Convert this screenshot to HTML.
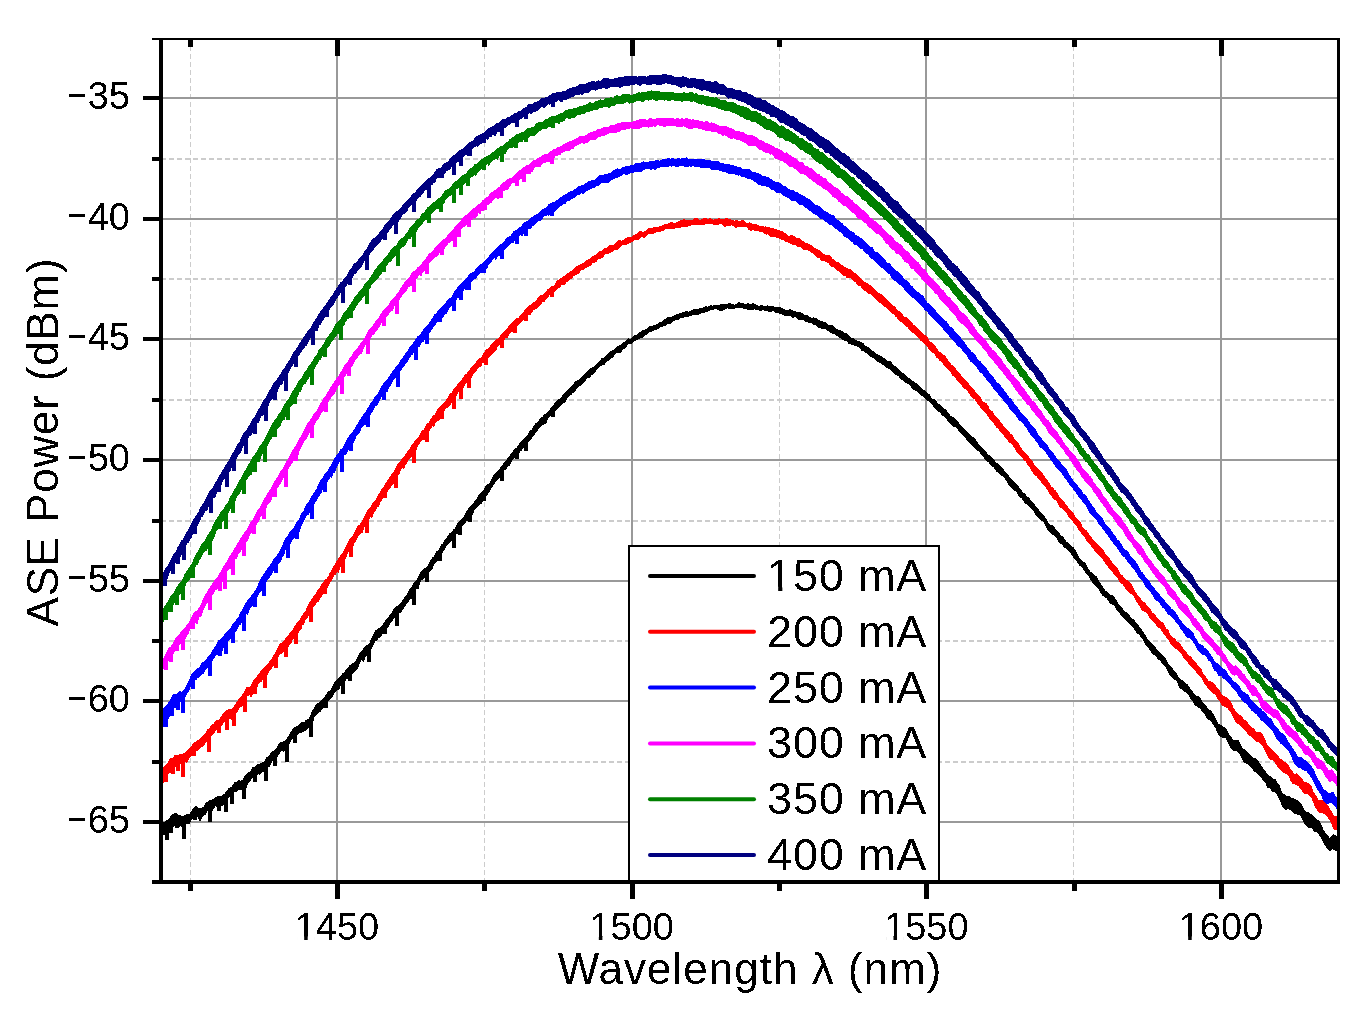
<!DOCTYPE html>
<html><head><meta charset="utf-8"><style>
html,body{margin:0;padding:0;background:#fff;overflow:hidden;}
svg{display:block;}
text{font-family:"Liberation Sans",sans-serif;fill:#000;}
.tl{font-size:38px;}
.at{font-size:44px;letter-spacing:1px;}
.yt{font-size:44px;letter-spacing:0.8px;}
.lt{font-size:45px;letter-spacing:0.85px;}
</style></head><body>
<svg width="1371" height="1011" viewBox="0 0 1371 1011">
<rect width="1371" height="1011" fill="#fff"/>
<defs><clipPath id="pc"><rect x="163" y="40" width="1174" height="840"/></clipPath>
<filter id="bin" filterUnits="userSpaceOnUse" x="0" y="0" width="1371" height="1011"><feComponentTransfer><feFuncA type="discrete" tableValues="0 1"/></feComponentTransfer></filter></defs>
<line x1="190.5" y1="40" x2="190.5" y2="880" stroke="#CCCCCC" stroke-width="1" stroke-dasharray="5 3" stroke-dashoffset="2"/>
<line x1="484.5" y1="40" x2="484.5" y2="880" stroke="#CCCCCC" stroke-width="1" stroke-dasharray="5 3" stroke-dashoffset="2"/>
<line x1="779.5" y1="40" x2="779.5" y2="880" stroke="#CCCCCC" stroke-width="1" stroke-dasharray="5 3" stroke-dashoffset="2"/>
<line x1="1073.5" y1="40" x2="1073.5" y2="880" stroke="#CCCCCC" stroke-width="1" stroke-dasharray="5 3" stroke-dashoffset="2"/>
<line x1="163" y1="159" x2="1337" y2="159" stroke="#CCCCCC" stroke-width="2" stroke-dasharray="5 3" stroke-dashoffset="2"/>
<line x1="163" y1="279" x2="1337" y2="279" stroke="#CCCCCC" stroke-width="2" stroke-dasharray="5 3" stroke-dashoffset="2"/>
<line x1="163" y1="400" x2="1337" y2="400" stroke="#CCCCCC" stroke-width="2" stroke-dasharray="5 3" stroke-dashoffset="2"/>
<line x1="163" y1="521" x2="1337" y2="521" stroke="#CCCCCC" stroke-width="2" stroke-dasharray="5 3" stroke-dashoffset="2"/>
<line x1="163" y1="641" x2="1337" y2="641" stroke="#CCCCCC" stroke-width="2" stroke-dasharray="5 3" stroke-dashoffset="2"/>
<line x1="163" y1="762" x2="1337" y2="762" stroke="#CCCCCC" stroke-width="2" stroke-dasharray="5 3" stroke-dashoffset="2"/>
<rect x="336" y="40" width="2" height="840" fill="#999999"/>
<rect x="631" y="40" width="2" height="840" fill="#999999"/>
<rect x="925" y="40" width="2" height="840" fill="#999999"/>
<rect x="1220" y="40" width="2" height="840" fill="#999999"/>
<rect x="163" y="97" width="1174" height="2" fill="#999999"/>
<rect x="163" y="218" width="1174" height="2" fill="#999999"/>
<rect x="163" y="338" width="1174" height="2" fill="#999999"/>
<rect x="163" y="459" width="1174" height="2" fill="#999999"/>
<rect x="163" y="580" width="1174" height="2" fill="#999999"/>
<rect x="163" y="700" width="1174" height="2" fill="#999999"/>
<rect x="163" y="821" width="1174" height="2" fill="#999999"/>
<g clip-path="url(#pc)">
<g fill="#000000" shape-rendering="crispEdges"><polygon points="160,821.8 161,821.8 162,822.2 163,822.4 164,822.6 165,821.7 166,820.7 167,820.0 168,819.5 169,818.5 170,817.0 171,815.5 172,814.7 173,814.1 174,813.8 175,812.7 176,812.7 177,813.6 178,814.8 179,815.2 180,814.9 181,815.3 182,816.1 183,816.6 184,815.7 185,814.9 186,814.3 187,813.6 188,813.7 189,814.0 190,813.4 191,811.5 192,810.1 193,808.9 194,807.5 195,806.1 196,805.7 197,806.5 198,807.4 199,807.7 200,808.0 201,807.8 202,807.8 203,807.2 204,806.0 205,804.1 206,802.7 207,801.8 208,801.3 209,800.6 210,800.2 211,799.8 212,799.4 213,799.0 214,798.3 215,797.9 216,797.1 217,796.8 218,796.2 219,795.9 220,795.8 221,795.7 222,795.4 223,794.7 224,794.1 225,793.2 226,791.6 227,790.5 228,788.8 229,788.0 230,787.2 231,787.4 232,785.8 233,784.6 234,782.9 235,782.1 236,782.0 237,781.8 238,780.9 239,780.1 240,780.5 241,780.8 242,780.2 243,779.1 244,777.1 245,775.8 246,774.9 247,773.9 248,772.6 249,771.9 250,771.4 251,769.7 252,767.5 253,767.0 254,767.3 255,767.0 256,765.7 257,764.4 258,764.1 259,764.1 260,763.8 261,763.0 262,762.4 263,762.0 264,761.3 265,760.0 266,758.0 267,756.7 268,756.8 269,756.0 270,754.0 271,752.2 272,751.7 273,751.3 274,750.9 275,750.0 276,748.4 277,746.7 278,745.1 279,743.7 280,742.4 281,741.8 282,741.7 283,741.4 284,741.6 285,740.9 286,739.7 287,737.8 288,736.5 289,734.8 290,732.7 291,731.2 292,729.9 293,728.8 294,727.7 295,727.0 296,726.5 297,726.1 298,725.9 299,724.6 300,723.3 301,722.2 302,722.5 303,722.4 304,722.2 305,720.9 306,719.9 307,719.5 308,719.1 309,718.1 310,715.8 311,713.4 312,710.8 313,709.4 314,707.7 315,706.2 316,704.1 317,703.5 318,703.1 319,702.6 320,701.9 321,700.9 322,700.1 323,698.6 324,697.3 325,695.8 326,694.5 327,692.9 328,691.4 329,690.8 330,690.4 331,689.1 332,686.9 333,684.6 334,683.0 335,681.6 336,680.3 337,679.4 338,678.4 339,677.9 340,676.7 341,675.4 342,673.7 343,672.9 344,672.2 345,670.9 346,669.5 347,668.7 348,667.6 349,666.0 350,664.9 351,664.5 352,663.6 353,663.0 354,662.3 355,661.7 356,660.4 357,658.4 358,656.1 359,654.1 360,652.9 361,651.9 362,650.8 363,649.2 364,647.5 365,646.5 366,645.5 367,645.2 368,644.8 369,643.8 370,641.3 371,639.2 372,637.3 373,635.3 374,633.1 375,631.0 376,629.9 377,629.4 378,629.0 379,627.9 380,627.2 381,626.7 382,625.5 383,623.7 384,622.1 385,621.1 386,619.8 387,618.9 388,617.2 389,616.1 390,614.9 391,613.5 392,611.9 393,610.3 394,608.7 395,607.7 396,606.8 397,606.2 398,605.4 399,605.0 400,603.9 401,602.2 402,601.0 403,599.6 404,598.3 405,596.4 406,595.4 407,593.9 408,591.7 409,589.8 410,588.9 411,588.0 412,585.7 413,583.4 414,582.0 415,581.3 416,580.3 417,578.8 418,577.2 419,575.0 420,573.2 421,571.6 422,570.8 423,569.8 424,568.9 425,567.8 426,567.3 427,566.5 428,564.6 429,562.8 430,561.0 431,559.4 432,557.7 433,556.9 434,556.4 435,554.5 436,552.2 437,550.8 438,550.5 439,549.1 440,546.5 441,544.7 442,544.0 443,543.3 444,541.3 445,539.5 446,538.2 447,537.2 448,535.6 449,533.8 450,533.1 451,532.4 452,531.4 453,529.9 454,529.0 455,528.0 456,525.9 457,523.8 458,522.1 459,521.4 460,520.4 461,519.6 462,518.7 463,517.4 464,515.7 465,513.6 466,512.2 467,510.8 468,509.6 469,507.4 470,506.1 471,505.4 472,504.9 473,503.5 474,501.5 475,500.0 476,499.0 477,498.0 478,496.3 479,494.5 480,493.4 481,492.2 482,491.5 483,490.4 484,489.1 485,487.2 486,485.6 487,484.7 488,484.2 489,483.5 490,481.7 491,480.1 492,478.2 493,476.4 494,474.3 495,473.0 496,472.4 497,471.9 498,470.8 499,469.2 500,467.9 501,466.7 502,465.4 503,464.1 504,462.5 505,461.1 506,460.1 507,459.0 508,457.5 509,456.4 510,455.1 511,453.4 512,452.1 513,451.1 514,449.8 515,448.8 516,448.0 517,447.1 518,445.9 519,444.3 520,442.4 521,441.5 522,440.8 523,439.5 524,438.4 525,437.2 526,436.4 527,435.2 528,434.4 529,432.2 530,430.8 531,430.0 532,429.3 533,427.3 534,425.3 535,423.8 536,423.0 537,422.7 538,421.6 539,420.1 540,418.7 541,417.9 542,417.0 543,416.1 544,414.9 545,414.0 546,413.2 547,412.2 548,411.2 549,410.5 550,409.1 551,407.7 552,406.6 553,405.6 554,403.7 555,402.1 556,401.0 557,400.1 558,399.5 559,399.4 560,398.9 561,397.5 562,395.8 563,394.6 564,393.5 565,392.3 566,391.3 567,390.9 568,389.9 569,388.9 570,387.7 571,386.3 572,385.0 573,384.0 574,383.0 575,381.5 576,381.2 577,380.7 578,380.3 579,379.1 580,378.0 581,377.0 582,376.6 583,375.8 584,374.7 585,373.9 586,372.9 587,371.7 588,371.0 589,369.8 590,368.7 591,368.0 592,367.8 593,367.1 594,366.5 595,365.9 596,364.6 597,363.3 598,362.5 599,361.9 600,360.5 601,358.9 602,357.8 603,357.8 604,357.3 605,356.3 606,355.4 607,354.6 608,353.6 609,352.3 610,351.5 611,351.1 612,350.5 613,350.1 614,349.0 615,348.0 616,347.5 617,346.8 618,346.1 619,345.5 620,345.2 621,344.6 622,343.5 623,342.9 624,342.1 625,341.4 626,340.2 627,339.1 628,338.4 629,338.6 630,338.9 631,338.5 632,337.5 633,336.3 634,335.6 635,335.2 636,335.0 637,334.2 638,333.2 639,332.5 640,332.0 641,331.0 642,330.4 643,329.9 644,329.9 645,329.7 646,329.3 647,328.3 648,327.2 649,326.6 650,326.3 651,326.5 652,326.4 653,325.3 654,324.8 655,324.5 656,324.6 657,324.1 658,323.0 659,322.2 660,322.1 661,322.4 662,321.7 663,320.4 664,319.7 665,319.3 666,318.8 667,317.6 668,317.0 669,317.3 670,317.1 671,317.1 672,316.2 673,316.1 674,315.3 675,315.2 676,314.3 677,314.4 678,313.9 679,313.6 680,313.2 681,313.1 682,312.5 683,311.7 684,311.9 685,311.8 686,311.0 687,310.6 688,311.4 689,311.7 690,310.9 691,310.5 692,310.1 693,309.3 694,308.6 695,308.7 696,309.1 697,309.4 698,308.9 699,308.6 700,308.3 701,308.5 702,307.8 703,307.3 704,306.7 705,306.4 706,306.3 707,306.4 708,306.7 709,306.2 710,305.7 711,305.2 712,305.5 713,305.5 714,305.4 715,305.1 716,304.7 717,304.8 718,305.1 719,305.3 720,304.7 721,304.1 722,303.9 723,303.8 724,303.5 725,303.8 726,304.0 727,303.9 728,303.4 729,303.2 730,303.3 731,303.5 732,304.2 733,304.3 734,304.7 735,304.6 736,304.4 737,303.2 738,302.2 739,301.7 740,302.4 741,302.7 742,303.2 743,303.0 744,303.4 745,303.8 746,304.1 747,303.7 748,303.2 749,303.8 750,304.4 751,304.3 752,303.6 753,303.2 754,303.3 755,304.0 756,304.6 757,305.1 758,305.8 759,306.0 760,305.5 761,305.4 762,305.2 763,305.5 764,305.8 765,306.5 766,305.8 767,305.4 768,305.5 769,305.8 770,306.0 771,305.7 772,305.9 773,305.9 774,306.6 775,306.9 776,306.7 777,306.8 778,306.8 779,307.0 780,307.0 781,308.0 782,308.3 783,308.5 784,308.7 785,309.3 786,309.9 787,310.0 788,309.9 789,309.4 790,309.3 791,309.4 792,309.9 793,310.5 794,310.8 795,311.2 796,311.7 797,311.9 798,311.7 799,311.9 800,312.3 801,312.4 802,312.9 803,313.6 804,314.6 805,315.0 806,315.4 807,315.2 808,315.3 809,316.0 810,317.1 811,317.9 812,317.7 813,317.4 814,317.6 815,318.0 816,318.2 817,318.2 818,319.3 819,320.1 820,320.7 821,321.0 822,321.2 823,321.3 824,322.0 825,322.3 826,322.7 827,323.0 828,324.2 829,324.9 830,325.5 831,325.1 832,325.2 833,325.8 834,326.8 835,327.8 836,328.7 837,329.1 838,329.5 839,329.9 840,330.3 841,330.5 842,331.0 843,332.0 844,332.5 845,333.1 846,333.2 847,333.7 848,334.4 849,335.9 850,337.1 851,337.6 852,337.5 853,338.0 854,338.7 855,339.7 856,340.2 857,340.4 858,340.8 859,340.9 860,341.6 861,341.8 862,342.3 863,342.9 864,343.9 865,345.2 866,346.1 867,346.6 868,346.5 869,347.2 870,348.5 871,349.9 872,350.3 873,351.1 874,351.3 875,352.3 876,353.2 877,353.9 878,354.4 879,354.7 880,355.7 881,355.9 882,357.0 883,357.8 884,358.4 885,358.6 886,359.3 887,360.4 888,360.8 889,360.7 890,361.1 891,361.8 892,362.8 893,364.4 894,365.7 895,366.1 896,366.3 897,367.2 898,368.5 899,369.6 900,370.7 901,371.7 902,372.5 903,372.6 904,373.3 905,374.5 906,376.0 907,376.4 908,377.3 909,377.8 910,378.7 911,379.4 912,380.7 913,380.9 914,382.0 915,382.5 916,383.1 917,383.5 918,385.0 919,386.0 920,386.6 921,387.8 922,388.9 923,389.6 924,389.6 925,390.6 926,391.7 927,393.1 928,393.6 929,394.0 930,395.0 931,396.9 932,398.4 933,399.0 934,399.0 935,399.5 936,400.9 937,401.9 938,403.2 939,404.0 940,404.7 941,405.3 942,406.8 943,407.9 944,408.6 945,409.0 946,409.8 947,411.1 948,412.3 949,413.7 950,414.8 951,416.3 952,416.7 953,416.9 954,417.6 955,418.8 956,419.6 957,419.9 958,421.2 959,422.9 960,424.5 961,425.2 962,426.1 963,427.4 964,428.7 965,429.4 966,429.9 967,431.4 968,432.5 969,433.6 970,434.2 971,435.5 972,436.2 973,437.2 974,437.7 975,438.7 976,440.2 977,441.7 978,443.2 979,444.5 980,445.4 981,446.2 982,447.5 983,448.9 984,449.3 985,450.0 986,451.5 987,453.2 988,454.4 989,455.2 990,455.7 991,456.5 992,457.7 993,458.7 994,459.5 995,460.9 996,462.4 997,463.0 998,463.5 999,464.5 1000,465.7 1001,466.4 1002,467.2 1003,468.4 1004,469.8 1005,471.8 1006,472.4 1007,473.5 1008,474.5 1009,476.2 1010,477.5 1011,478.6 1012,479.6 1013,480.2 1014,481.5 1015,482.6 1016,483.5 1017,484.1 1018,485.3 1019,487.0 1020,488.1 1021,489.2 1022,490.9 1023,492.3 1024,492.9 1025,493.3 1026,494.7 1027,496.4 1028,497.3 1029,497.5 1030,498.8 1031,500.4 1032,501.7 1033,502.2 1034,503.6 1035,505.0 1036,506.3 1037,507.0 1038,508.7 1039,510.3 1040,511.4 1041,511.9 1042,513.2 1043,514.3 1044,515.6 1045,516.6 1046,518.6 1047,520.0 1048,521.9 1049,523.5 1050,525.0 1051,525.1 1052,525.1 1053,525.5 1054,526.8 1055,528.1 1056,529.7 1057,530.6 1058,531.6 1059,532.5 1060,534.5 1061,535.9 1062,536.3 1063,536.4 1064,537.8 1065,539.6 1066,541.3 1067,542.0 1068,542.8 1069,543.8 1070,545.0 1071,545.9 1072,546.4 1073,547.0 1074,547.9 1075,549.4 1076,551.4 1077,553.4 1078,555.4 1079,557.1 1080,558.2 1081,559.5 1082,560.9 1083,561.9 1084,562.1 1085,562.5 1086,563.7 1087,565.6 1088,567.6 1089,569.7 1090,571.2 1091,572.1 1092,572.5 1093,573.8 1094,575.2 1095,575.7 1096,575.9 1097,577.1 1098,579.3 1099,581.2 1100,582.8 1101,584.1 1102,585.6 1103,586.9 1104,588.6 1105,590.3 1106,590.8 1107,591.2 1108,592.0 1109,593.7 1110,594.6 1111,595.0 1112,595.2 1113,595.7 1114,596.7 1115,598.0 1116,599.4 1117,600.7 1118,602.6 1119,604.6 1120,605.9 1121,606.9 1122,607.8 1123,608.9 1124,610.4 1125,611.3 1126,612.0 1127,612.8 1128,614.1 1129,614.9 1130,615.9 1131,617.3 1132,618.5 1133,618.8 1134,619.7 1135,621.2 1136,622.6 1137,623.7 1138,624.7 1139,626.2 1140,627.2 1141,628.9 1142,630.0 1143,631.3 1144,632.8 1145,634.3 1146,636.4 1147,638.1 1148,639.5 1149,640.4 1150,641.6 1151,642.6 1152,643.6 1153,644.9 1154,646.1 1155,646.8 1156,647.9 1157,649.6 1158,650.9 1159,651.8 1160,652.5 1161,653.6 1162,654.4 1163,655.3 1164,656.1 1165,657.4 1166,658.7 1167,660.8 1168,662.7 1169,665.0 1170,666.0 1171,667.0 1172,667.9 1173,669.1 1174,670.3 1175,671.2 1176,672.4 1177,674.1 1178,675.9 1179,677.9 1180,678.8 1181,679.3 1182,679.8 1183,680.5 1184,681.5 1185,682.8 1186,683.6 1187,684.0 1188,685.0 1189,686.5 1190,687.9 1191,689.2 1192,690.4 1193,691.9 1194,693.7 1195,695.0 1196,695.9 1197,696.5 1198,696.4 1199,696.3 1200,697.3 1201,699.5 1202,701.3 1203,702.9 1204,703.6 1205,704.6 1206,705.5 1207,707.2 1208,708.8 1209,709.8 1210,710.2 1211,710.8 1212,712.1 1213,713.4 1214,715.2 1215,716.9 1216,718.9 1217,721.4 1218,723.4 1219,724.4 1220,724.4 1221,724.8 1222,724.8 1223,726.6 1224,727.3 1225,727.6 1226,727.8 1227,729.4 1228,731.7 1229,733.8 1230,735.8 1231,736.6 1232,738.1 1233,739.3 1234,740.1 1235,740.2 1236,740.3 1237,740.1 1238,739.9 1239,740.7 1240,742.5 1241,744.9 1242,747.3 1243,749.0 1244,749.1 1245,749.3 1246,750.1 1247,751.3 1248,752.4 1249,753.7 1250,754.8 1251,756.0 1252,756.7 1253,757.7 1254,757.8 1255,758.1 1256,758.3 1257,759.5 1258,760.7 1259,762.3 1260,763.2 1261,764.8 1262,766.6 1263,768.1 1264,769.0 1265,770.5 1266,772.1 1267,773.1 1268,774.1 1269,775.3 1270,776.2 1271,776.8 1272,777.5 1273,778.3 1274,778.9 1275,779.0 1276,779.9 1277,781.7 1278,783.8 1279,784.7 1280,786.2 1281,789.6 1282,792.6 1283,794.1 1284,793.9 1285,794.9 1286,796.0 1287,796.4 1288,795.7 1289,795.8 1290,796.7 1291,798.0 1292,798.4 1293,798.4 1294,798.4 1295,798.7 1296,799.3 1297,800.1 1298,800.9 1299,801.2 1300,802.4 1301,803.7 1302,805.2 1303,807.0 1304,809.3 1305,810.7 1306,811.8 1307,812.0 1308,812.0 1309,812.4 1310,813.3 1311,814.1 1312,814.7 1313,815.4 1314,816.4 1315,817.5 1316,818.8 1317,819.3 1318,819.9 1319,820.7 1320,821.9 1321,823.3 1322,825.7 1323,828.3 1324,830.7 1325,832.1 1326,833.2 1327,833.9 1328,835.7 1329,837.3 1330,838.0 1331,836.8 1332,835.4 1333,834.3 1334,834.6 1335,835.2 1336,835.4 1337,835.8 1338,836.9 1339,839.4 1340,839.4 1340,854.5 1339,854.5 1338,852.1 1337,850.8 1336,851.1 1335,850.6 1334,849.9 1333,849.2 1332,849.7 1331,850.9 1330,851.7 1329,850.9 1328,849.7 1327,848.3 1326,847.1 1325,845.1 1324,844.0 1323,841.9 1322,839.7 1321,837.7 1320,836.6 1319,834.9 1318,833.4 1317,832.0 1316,831.8 1315,832.1 1314,831.3 1313,829.8 1312,828.5 1311,828.4 1310,828.3 1309,828.1 1308,827.6 1307,826.8 1306,826.0 1305,824.8 1304,823.4 1303,820.8 1302,818.6 1301,816.9 1300,816.0 1299,815.0 1298,814.9 1297,814.6 1296,814.4 1295,814.4 1294,813.9 1293,812.7 1292,811.8 1291,810.8 1290,810.2 1289,809.5 1288,809.4 1287,809.4 1286,809.9 1285,809.7 1284,809.0 1283,808.0 1282,806.1 1281,803.1 1280,800.5 1279,798.8 1278,797.4 1277,795.3 1276,793.5 1275,792.6 1274,792.1 1273,792.1 1272,791.5 1271,790.0 1270,788.1 1269,788.0 1268,788.2 1267,787.1 1266,784.4 1265,782.2 1264,781.2 1263,780.7 1262,779.2 1261,777.8 1260,776.8 1259,775.8 1258,774.6 1257,773.5 1256,772.7 1255,772.0 1254,771.2 1253,769.9 1252,768.6 1251,767.6 1250,766.9 1249,766.1 1248,764.8 1247,763.7 1246,763.4 1245,763.0 1244,762.4 1243,760.8 1242,758.9 1241,757.0 1240,755.2 1239,753.8 1238,752.4 1237,751.5 1236,750.7 1235,751.0 1234,750.9 1233,750.6 1232,749.7 1231,748.7 1230,747.0 1229,745.4 1228,743.3 1227,741.0 1226,738.8 1225,738.2 1224,737.8 1223,737.8 1222,737.5 1221,737.3 1220,736.7 1219,736.3 1218,734.6 1217,731.9 1216,729.2 1215,727.4 1214,726.0 1213,724.7 1212,723.3 1211,721.6 1210,720.5 1209,720.0 1208,719.4 1207,718.6 1206,716.8 1205,714.8 1204,713.3 1203,712.9 1202,711.5 1201,710.1 1200,708.6 1199,707.9 1198,707.5 1197,706.8 1196,706.1 1195,705.2 1194,704.4 1193,702.3 1192,700.6 1191,699.2 1190,698.0 1189,696.1 1188,694.7 1187,693.6 1186,692.6 1185,692.4 1184,691.8 1183,690.6 1182,688.9 1181,688.6 1180,688.7 1179,687.4 1178,684.6 1177,682.2 1176,680.6 1175,680.4 1174,679.8 1173,678.3 1172,677.1 1171,676.4 1170,675.5 1169,673.8 1168,671.6 1167,669.8 1166,667.5 1165,665.9 1164,665.2 1163,665.2 1162,663.8 1161,661.6 1160,660.4 1159,660.3 1158,659.7 1157,658.1 1156,656.6 1155,655.2 1154,654.9 1153,654.2 1152,653.4 1151,651.9 1150,650.4 1149,648.9 1148,647.7 1147,646.8 1146,645.5 1145,643.8 1144,641.8 1143,640.2 1142,638.8 1141,637.4 1140,635.9 1139,634.8 1138,634.1 1137,633.2 1136,632.1 1135,630.7 1134,629.1 1133,627.9 1132,626.8 1131,625.7 1130,624.4 1129,623.7 1128,623.0 1127,621.8 1126,620.9 1125,620.0 1124,618.8 1123,617.6 1122,616.7 1121,615.9 1120,614.1 1119,612.7 1118,611.4 1117,610.6 1116,608.8 1115,607.1 1114,605.9 1113,604.9 1112,604.6 1111,603.9 1110,603.4 1109,602.2 1108,600.7 1107,599.0 1106,597.9 1105,597.5 1104,596.8 1103,596.1 1102,595.1 1101,593.9 1100,592.5 1099,590.3 1098,588.5 1097,587.2 1096,586.7 1095,585.6 1094,584.9 1093,583.9 1092,582.2 1091,580.4 1090,579.0 1089,577.4 1088,575.5 1087,574.2 1086,573.4 1085,572.1 1084,570.5 1083,569.2 1082,567.8 1081,566.8 1080,565.9 1079,565.3 1078,563.7 1077,561.9 1076,560.6 1075,559.8 1074,558.8 1073,556.9 1072,555.3 1071,553.8 1070,553.0 1069,551.7 1068,550.3 1067,548.8 1066,548.3 1065,548.1 1064,547.5 1063,546.2 1062,544.7 1061,544.0 1060,543.6 1059,542.7 1058,540.9 1057,539.1 1056,537.7 1055,536.3 1054,535.0 1053,534.8 1052,534.6 1051,534.0 1050,532.5 1049,531.4 1048,530.4 1047,529.4 1046,527.4 1045,525.0 1044,522.9 1043,522.0 1042,520.8 1041,520.3 1040,519.7 1039,518.9 1038,517.5 1037,516.7 1036,515.5 1035,513.7 1034,512.1 1033,510.8 1032,510.1 1031,508.9 1030,507.4 1029,506.0 1028,505.3 1027,504.7 1026,504.2 1025,503.1 1024,502.2 1023,500.5 1022,499.2 1021,497.8 1020,497.8 1019,497.1 1018,495.3 1017,493.1 1016,491.4 1015,491.0 1014,490.6 1013,490.1 1012,488.3 1011,487.1 1010,486.2 1009,485.8 1008,484.2 1007,482.1 1006,480.2 1005,479.0 1004,477.6 1003,476.3 1002,475.5 1001,475.5 1000,474.6 999,473.2 998,472.4 997,472.1 996,471.1 995,469.2 994,468.0 993,467.0 992,466.4 991,465.7 990,464.5 989,462.8 988,462.0 987,461.9 986,460.7 985,459.3 984,457.8 983,456.7 982,455.4 981,454.4 980,453.1 979,451.7 978,451.3 977,450.9 976,449.7 975,448.1 974,447.3 973,446.6 972,445.3 971,444.2 970,443.4 969,442.8 968,441.6 967,440.7 966,439.2 965,437.7 964,436.2 963,435.3 962,434.3 961,433.2 960,432.4 959,431.3 958,429.8 957,428.1 956,427.3 955,427.1 954,427.3 953,426.8 952,425.9 951,424.9 950,423.8 949,422.4 948,421.2 947,420.0 946,418.4 945,417.0 944,416.6 943,416.0 942,415.2 941,413.9 940,412.9 939,412.1 938,411.3 937,410.3 936,409.0 935,408.5 934,407.8 933,406.3 932,404.7 931,403.4 930,402.4 929,401.7 928,401.1 927,400.7 926,399.9 925,398.8 924,397.5 923,396.7 922,396.3 921,395.5 920,394.4 919,393.0 918,392.5 917,391.8 916,391.0 915,390.5 914,390.0 913,389.1 912,388.0 911,387.1 910,385.9 909,384.5 908,384.1 907,383.6 906,383.3 905,382.2 904,381.5 903,380.7 902,380.1 901,379.4 900,378.1 899,377.1 898,375.9 897,375.5 896,375.0 895,374.6 894,373.2 893,372.4 892,371.4 891,370.6 890,369.7 889,369.2 888,368.5 887,368.0 886,367.4 885,366.8 884,365.7 883,365.1 882,364.6 881,364.0 880,362.9 879,362.2 878,361.9 877,361.5 876,360.3 875,359.5 874,358.7 873,358.2 872,357.6 871,357.3 870,356.5 869,355.9 868,354.6 867,353.6 866,352.7 865,352.4 864,351.5 863,350.9 862,351.0 861,350.2 860,348.4 859,347.4 858,347.1 857,346.6 856,346.1 855,345.7 854,345.6 853,345.1 852,344.8 851,344.4 850,344.3 849,344.0 848,343.1 847,341.8 846,341.1 845,341.0 844,340.7 843,340.2 842,339.7 841,338.9 840,338.0 839,337.2 838,336.7 837,335.7 836,335.4 835,334.6 834,334.4 833,334.2 832,333.9 831,333.1 830,332.1 829,331.9 828,331.1 827,330.0 826,329.4 825,329.4 824,329.1 823,328.6 822,328.6 821,328.6 820,328.2 819,328.0 818,327.1 817,326.4 816,325.3 815,324.7 814,324.7 813,324.5 812,323.6 811,322.5 810,322.7 809,323.1 808,322.6 807,322.1 806,321.8 805,321.7 804,320.7 803,320.0 802,319.7 801,319.7 800,319.9 799,320.1 798,319.3 797,318.3 796,317.5 795,317.3 794,317.7 793,317.7 792,317.4 791,316.2 790,316.5 789,316.3 788,316.6 787,316.1 786,316.3 785,315.7 784,315.6 783,314.8 782,314.4 781,314.4 780,314.3 779,313.9 778,313.0 777,313.1 776,312.8 775,312.6 774,311.6 773,311.0 772,311.5 771,312.1 770,312.5 769,311.9 768,311.2 767,311.2 766,311.3 765,311.0 764,310.4 763,310.2 762,310.7 761,311.0 760,311.3 759,310.3 758,310.3 757,310.4 756,310.3 755,309.5 754,309.4 753,309.8 752,310.2 751,309.6 750,309.6 749,309.7 748,309.8 747,309.3 746,309.3 745,309.6 744,309.3 743,308.4 742,308.3 741,308.0 740,308.0 739,307.6 738,307.8 737,308.2 736,308.3 735,308.7 734,309.0 733,309.2 732,308.7 731,308.8 730,309.5 729,309.3 728,308.4 727,308.2 726,308.9 725,309.6 724,309.8 723,310.2 722,310.9 721,311.3 720,311.1 719,310.5 718,309.8 717,309.3 716,309.0 715,309.1 714,309.8 713,310.4 712,310.4 711,310.2 710,310.7 709,311.1 708,311.7 707,312.2 706,312.3 705,312.7 704,313.4 703,313.5 702,313.1 701,313.1 700,314.1 699,314.8 698,315.0 697,314.9 696,315.0 695,314.8 694,314.4 693,314.8 692,315.8 691,316.2 690,315.8 689,316.2 688,317.0 687,317.2 686,316.7 685,316.6 684,317.4 683,317.7 682,317.9 681,317.9 680,318.9 679,319.9 678,320.6 677,320.3 676,320.1 675,320.4 674,321.0 673,321.6 672,322.1 671,323.0 670,324.1 669,324.4 668,324.4 667,324.6 666,325.5 665,325.7 664,326.2 663,326.5 662,327.6 661,327.3 660,327.7 659,328.4 658,329.4 657,329.5 656,329.6 655,329.9 654,330.5 653,331.0 652,331.5 651,331.5 650,331.7 649,332.7 648,333.4 647,334.3 646,334.9 645,335.9 644,336.7 643,337.3 642,337.9 641,338.1 640,338.5 639,338.9 638,339.9 637,340.4 636,340.4 635,340.8 634,342.0 633,342.9 632,343.4 631,343.9 630,344.3 629,344.3 628,344.7 627,346.2 626,348.1 625,348.8 624,348.7 623,349.5 622,351.2 621,352.4 620,353.0 619,353.2 618,353.2 617,353.3 616,353.5 615,354.8 614,356.2 613,357.6 612,358.1 611,358.7 610,359.4 609,360.5 608,361.1 607,361.3 606,362.2 605,364.1 604,365.2 603,365.3 602,365.3 601,365.8 600,366.4 599,367.2 598,368.1 597,369.8 596,371.0 595,372.5 594,374.1 593,374.4 592,374.8 591,376.0 590,377.0 589,378.2 588,378.1 587,378.8 586,380.0 585,381.6 584,382.0 583,383.3 582,384.6 581,385.5 580,385.7 579,386.1 578,387.5 577,388.8 576,389.9 575,391.2 574,392.7 573,392.4 572,394.4 571,394.7 570,395.3 569,396.0 568,397.4 567,399.2 566,400.7 565,403.2 564,402.1 563,403.9 562,404.7 561,405.3 560,406.4 559,407.1 558,408.5 557,409.7 556,410.6 555,410.8 554,411.6 553,413.6 552,414.7 551,415.8 550,416.4 549,417.7 548,419.2 547,421.1 546,424.5 545,423.6 544,425.3 543,425.0 542,425.9 541,426.3 540,427.4 539,428.5 538,430.2 537,431.6 536,432.8 535,434.2 534,435.2 533,436.8 532,438.2 531,439.4 530,440.4 529,441.7 528,442.8 527,443.3 526,446.6 525,448.4 524,447.1 523,448.6 522,450.0 521,451.0 520,451.4 519,454.6 518,453.8 517,455.5 516,456.5 515,457.5 514,458.4 513,459.6 512,461.2 511,463.4 510,465.4 509,465.9 508,466.8 507,467.7 506,471.2 505,469.8 504,471.0 503,472.8 502,475.8 501,476.3 500,477.5 499,478.7 498,479.5 497,480.3 496,481.6 495,483.0 494,484.8 493,486.0 492,487.7 491,489.1 490,491.1 489,492.5 488,494.0 487,495.3 486,496.1 485,497.2 484,498.3 483,499.5 482,503.9 481,503.9 480,504.2 479,505.2 478,506.7 477,507.7 476,508.3 475,509.4 474,511.0 473,515.8 472,513.9 471,517.0 470,516.6 469,517.7 468,522.1 467,520.6 466,522.3 465,523.5 464,524.5 463,525.8 462,526.9 461,527.6 460,528.6 459,530.4 458,535.2 457,533.7 456,534.8 455,536.5 454,538.8 453,541.2 452,540.5 451,541.3 450,542.6 449,543.8 448,544.7 447,545.5 446,546.8 445,548.7 444,550.5 443,552.1 442,553.1 441,557.5 440,556.2 439,559.0 438,560.8 437,562.0 436,562.5 435,563.4 434,564.7 433,566.4 432,570.9 431,569.7 430,571.8 429,573.2 428,574.1 427,576.2 426,575.6 425,577.1 424,578.6 423,579.5 422,580.1 421,580.9 420,582.3 419,587.3 418,590.0 417,588.5 416,589.6 415,591.0 414,593.8 413,593.7 412,599.2 411,599.2 410,599.1 409,600.7 408,602.8 407,603.6 406,604.8 405,606.4 404,608.4 403,609.5 402,610.4 401,614.4 400,612.4 399,613.6 398,614.8 397,615.8 396,616.4 395,617.7 394,618.6 393,619.9 392,621.2 391,622.5 390,624.0 389,625.6 388,628.1 387,627.9 386,629.2 385,630.9 384,631.9 383,633.1 382,634.8 381,636.4 380,637.6 379,637.9 378,638.3 377,642.3 376,640.2 375,642.0 374,643.9 373,645.8 372,647.8 371,649.3 370,651.5 369,653.5 368,656.7 367,656.9 366,656.0 365,657.5 364,661.8 363,661.8 362,659.6 361,661.2 360,663.3 359,665.3 358,669.1 357,669.0 356,670.6 355,671.8 354,672.4 353,672.7 352,675.3 351,674.3 350,675.3 349,676.4 348,679.9 347,678.6 346,679.8 345,681.7 344,683.5 343,684.6 342,684.9 341,685.7 340,686.4 339,691.0 338,689.1 337,690.3 336,691.4 335,692.1 334,693.9 333,695.5 332,697.5 331,698.7 330,699.8 329,700.8 328,701.8 327,703.3 326,704.7 325,706.2 324,707.3 323,708.4 322,709.8 321,711.1 320,712.0 319,712.6 318,713.3 317,714.1 316,715.2 315,716.4 314,718.5 313,722.7 312,722.8 311,724.6 310,728.9 309,727.7 308,728.8 307,729.7 306,730.1 305,731.0 304,731.8 303,732.0 302,732.3 301,732.8 300,733.0 299,733.5 298,733.9 297,735.9 296,735.4 295,736.7 294,737.6 293,738.4 292,739.1 291,740.6 290,743.0 289,745.8 288,750.2 287,748.8 286,752.5 285,750.9 284,751.1 283,752.4 282,750.1 281,751.3 280,753.2 279,754.6 278,755.6 277,758.6 276,758.7 275,761.8 274,760.5 273,761.0 272,761.5 271,764.3 270,765.6 269,767.8 268,766.4 267,766.9 266,770.1 265,769.7 264,771.6 263,771.9 262,771.9 261,773.4 260,774.7 259,774.4 258,774.3 257,774.8 256,775.3 255,775.7 254,777.1 253,777.8 252,778.5 251,779.8 250,781.6 249,782.5 248,782.9 247,787.2 246,788.9 245,786.2 244,786.6 243,788.8 242,790.3 241,790.6 240,789.6 239,789.7 238,790.4 237,792.0 236,792.4 235,792.6 234,792.4 233,793.2 232,794.6 231,796.1 230,796.8 229,797.2 228,798.7 227,804.0 226,802.2 225,805.5 224,804.2 223,805.3 222,806.2 221,806.6 220,806.6 219,806.9 218,806.7 217,807.8 216,805.8 215,806.8 214,809.8 213,808.9 212,812.7 211,813.5 210,812.7 209,810.3 208,810.3 207,811.5 206,815.4 205,814.7 204,815.7 203,816.9 202,817.6 201,820.4 200,821.5 199,820.3 198,817.2 197,816.9 196,816.4 195,816.2 194,817.2 193,818.3 192,819.6 191,820.5 190,824.2 189,823.5 188,823.9 187,823.9 186,824.9 185,825.8 184,826.4 183,826.5 182,827.7 181,826.1 180,825.4 179,827.7 178,824.9 177,824.7 176,823.7 175,827.0 174,824.8 173,829.0 172,826.4 171,828.1 170,829.6 169,830.9 168,831.5 167,835.7 166,834.3 165,834.9 164,835.3 163,835.7 162,836.1 161,838.9 160,836.7"/><rect x="165" y="826.8" width="4" height="12.7"/><rect x="169" y="821.8" width="4" height="10.9"/><rect x="175" y="818.8" width="4" height="9.2"/><rect x="182" y="820.8" width="4" height="17.9"/><rect x="193" y="812.1" width="4" height="8.3"/><rect x="208" y="805.1" width="4" height="16.6"/><rect x="217" y="801.4" width="4" height="9.7"/><rect x="224" y="797.6" width="4" height="14.8"/><rect x="230" y="790.1" width="4" height="13.7"/><rect x="242" y="781.3" width="4" height="17.4"/><rect x="253" y="771.6" width="4" height="10.6"/><rect x="264" y="762.7" width="4" height="18.4"/><rect x="273" y="754.7" width="4" height="11.5"/><rect x="285" y="744.3" width="4" height="17.4"/><rect x="293" y="731.1" width="4" height="12.0"/><rect x="309" y="718.7" width="4" height="18.3"/><rect x="324" y="699.6" width="4" height="8.6"/><rect x="341" y="677.7" width="4" height="15.9"/><rect x="348" y="671.4" width="4" height="9.8"/><rect x="367" y="648.1" width="4" height="13.4"/><rect x="383" y="625.7" width="4" height="8.3"/><rect x="395" y="611.6" width="4" height="14.3"/><rect x="412" y="587.4" width="4" height="18.0"/><rect x="425" y="570.5" width="4" height="11.9"/><rect x="438" y="552.0" width="4" height="9.3"/><rect x="452" y="533.5" width="4" height="14.8"/><rect x="458" y="524.6" width="4" height="10.5"/><rect x="468" y="511.4" width="4" height="10.6"/><rect x="482" y="494.0" width="4" height="7.0"/><rect x="500" y="469.7" width="4" height="11.4"/><rect x="515" y="451.0" width="4" height="8.0"/><rect x="524" y="440.4" width="4" height="10.9"/><rect x="551" y="409.3" width="4" height="7.3"/></g>
<g fill="#FF0000" shape-rendering="crispEdges"><polygon points="160,769.3 161,769.3 162,768.4 163,767.6 164,766.7 165,765.5 166,764.5 167,763.5 168,761.9 169,759.6 170,758.3 171,758.2 172,758.6 173,757.8 174,756.3 175,754.6 176,754.6 177,754.8 178,755.0 179,754.4 180,754.1 181,753.7 182,753.5 183,753.5 184,753.2 185,752.5 186,751.2 187,750.4 188,749.9 189,748.5 190,747.0 191,746.3 192,745.0 193,743.1 194,742.0 195,741.8 196,741.7 197,740.9 198,740.1 199,739.1 200,738.5 201,737.6 202,736.5 203,735.1 204,734.2 205,733.5 206,731.7 207,729.6 208,729.3 209,728.9 210,727.5 211,725.3 212,724.4 213,724.1 214,723.4 215,721.6 216,720.4 217,720.4 218,720.5 219,719.5 220,718.0 221,716.5 222,714.8 223,713.6 224,712.0 225,711.0 226,710.5 227,710.2 228,709.3 229,708.6 230,709.2 231,709.2 232,708.6 233,707.2 234,705.9 235,704.4 236,703.2 237,701.6 238,699.9 239,698.8 240,698.0 241,696.5 242,694.9 243,693.5 244,691.8 245,689.7 246,687.4 247,686.5 248,686.8 249,687.2 250,686.7 251,685.2 252,683.3 253,681.1 254,679.6 255,678.7 256,677.3 257,675.9 258,674.7 259,673.9 260,672.5 261,670.3 262,669.1 263,668.5 264,668.1 265,666.9 266,665.3 267,664.3 268,663.1 269,662.2 270,660.4 271,659.5 272,658.1 273,656.4 274,654.4 275,652.7 276,651.1 277,648.8 278,646.5 279,644.6 280,643.5 281,642.8 282,642.5 283,641.7 284,640.6 285,638.6 286,637.3 287,636.2 288,635.9 289,634.3 290,632.7 291,631.4 292,630.9 293,629.2 294,627.4 295,625.2 296,623.9 297,622.7 298,621.9 299,620.5 300,619.4 301,617.4 302,615.3 303,613.8 304,612.9 305,611.5 306,609.5 307,607.2 308,604.8 309,602.9 310,601.5 311,600.1 312,598.6 313,597.2 314,595.8 315,594.4 316,592.9 317,591.0 318,589.4 319,588.2 320,587.0 321,585.1 322,583.9 323,582.7 324,581.3 325,579.7 326,578.9 327,578.3 328,576.7 329,574.4 330,572.2 331,571.0 332,569.2 333,566.9 334,565.2 335,564.0 336,562.4 337,560.6 338,559.0 339,557.5 340,555.8 341,554.7 342,553.4 343,552.2 344,550.5 345,548.2 346,546.1 347,543.8 348,541.8 349,539.6 350,538.2 351,537.6 352,537.1 353,535.4 354,533.1 355,530.9 356,529.0 357,527.1 358,525.9 359,525.1 360,524.0 361,522.5 362,521.1 363,519.0 364,516.7 365,514.8 366,513.1 367,511.4 368,509.6 369,508.3 370,507.4 371,506.1 372,504.4 373,502.5 374,501.3 375,500.2 376,499.2 377,497.1 378,495.1 379,493.5 380,492.2 381,490.4 382,488.5 383,487.4 384,485.7 385,484.3 386,482.4 387,481.2 388,479.7 389,478.3 390,476.7 391,475.0 392,473.8 393,472.5 394,471.1 395,469.0 396,466.8 397,464.9 398,463.6 399,462.6 400,462.0 401,460.2 402,458.3 403,457.2 404,456.6 405,455.2 406,453.2 407,451.9 408,450.9 409,449.3 410,447.8 411,446.1 412,444.8 413,443.4 414,442.1 415,440.6 416,439.0 417,438.2 418,437.4 419,435.9 420,433.6 421,431.8 422,430.7 423,430.0 424,429.2 425,427.5 426,425.1 427,423.6 428,423.3 429,422.1 430,420.4 431,418.2 432,417.1 433,415.8 434,415.2 435,414.1 436,412.4 437,410.1 438,408.5 439,407.5 440,406.6 441,405.7 442,404.8 443,403.1 444,402.0 445,401.3 446,400.3 447,398.7 448,396.8 449,394.9 450,393.8 451,393.2 452,392.0 453,390.3 454,388.6 455,387.7 456,386.5 457,385.1 458,383.8 459,382.8 460,381.9 461,380.3 462,379.1 463,377.6 464,376.1 465,374.7 466,373.9 467,373.2 468,371.8 469,370.5 470,369.0 471,367.4 472,365.9 473,365.4 474,364.8 475,363.6 476,362.2 477,360.7 478,359.2 479,358.1 480,357.8 481,357.4 482,355.7 483,353.9 484,352.3 485,351.0 486,349.6 487,348.9 488,348.5 489,347.6 490,346.1 491,344.6 492,343.5 493,342.9 494,342.1 495,340.9 496,340.0 497,338.9 498,338.2 499,336.9 500,336.2 501,334.8 502,333.8 503,332.4 504,331.4 505,330.5 506,329.5 507,328.3 508,327.0 509,325.9 510,324.6 511,323.5 512,322.6 513,321.4 514,320.3 515,319.4 516,318.7 517,318.1 518,317.9 519,317.3 520,315.6 521,314.2 522,313.5 523,312.9 524,311.3 525,309.7 526,308.4 527,307.7 528,306.9 529,305.9 530,304.8 531,304.6 532,303.8 533,302.8 534,302.2 535,302.0 536,300.6 537,298.6 538,296.8 539,296.3 540,295.5 541,295.0 542,294.5 543,294.5 544,293.9 545,293.0 546,291.5 547,289.7 548,288.9 549,288.3 550,287.3 551,286.2 552,285.9 553,285.9 554,285.4 555,284.0 556,282.0 557,280.8 558,280.0 559,279.3 560,278.7 561,278.3 562,277.4 563,276.4 564,276.2 565,276.0 566,274.8 567,273.3 568,272.5 569,272.7 570,271.9 571,271.1 572,270.4 573,269.7 574,268.2 575,266.9 576,266.3 577,266.2 578,265.5 579,265.1 580,264.4 581,264.4 582,263.4 583,262.9 584,262.3 585,261.8 586,260.6 587,259.7 588,259.5 589,259.4 590,258.9 591,257.6 592,256.1 593,255.6 594,255.7 595,255.3 596,253.9 597,253.3 598,252.8 599,251.8 600,251.0 601,251.2 602,251.1 603,249.7 604,248.2 605,247.5 606,247.9 607,247.5 608,246.7 609,245.3 610,244.9 611,245.1 612,245.1 613,244.8 614,244.5 615,243.8 616,242.6 617,241.6 618,240.9 619,240.1 620,240.1 621,240.9 622,240.8 623,240.1 624,239.1 625,238.5 626,237.8 627,237.6 628,237.4 629,237.1 630,237.3 631,237.2 632,236.5 633,235.6 634,234.9 635,234.5 636,233.9 637,233.3 638,232.2 639,231.1 640,230.4 641,230.9 642,231.6 643,231.9 644,231.5 645,231.1 646,230.5 647,229.4 648,228.5 649,227.5 650,227.7 651,227.7 652,228.2 653,227.4 654,227.0 655,226.8 656,226.7 657,226.6 658,226.6 659,226.6 660,226.3 661,226.3 662,225.9 663,225.1 664,224.3 665,224.3 666,224.2 667,224.3 668,223.7 669,223.1 670,222.5 671,222.4 672,222.4 673,222.5 674,222.6 675,222.8 676,222.4 677,221.8 678,221.4 679,221.0 680,220.3 681,220.2 682,220.2 683,219.8 684,219.1 685,219.9 686,220.7 687,220.3 688,219.6 689,219.7 690,220.5 691,220.2 692,219.9 693,219.2 694,218.5 695,217.7 696,217.7 697,217.6 698,218.3 699,219.3 700,220.1 701,219.7 702,218.9 703,218.3 704,218.3 705,218.1 706,218.4 707,218.4 708,219.0 709,218.6 710,218.3 711,218.4 712,219.3 713,219.7 714,219.4 715,219.4 716,219.5 717,219.0 718,218.1 719,217.9 720,218.6 721,218.7 722,219.0 723,219.2 724,219.5 725,218.6 726,217.8 727,218.1 728,218.4 729,219.0 730,219.3 731,219.5 732,219.6 733,220.1 734,220.8 735,220.7 736,220.3 737,219.9 738,220.3 739,220.9 740,221.2 741,220.7 742,220.1 743,220.1 744,220.6 745,221.5 746,222.7 747,223.0 748,222.9 749,222.3 750,222.4 751,222.7 752,223.7 753,223.8 754,223.7 755,223.9 756,224.0 757,224.4 758,224.7 759,225.5 760,225.7 761,225.7 762,225.9 763,226.2 764,226.8 765,226.4 766,226.5 767,227.0 768,227.3 769,227.3 770,227.5 771,227.9 772,228.1 773,228.3 774,228.6 775,228.8 776,229.1 777,229.6 778,229.7 779,230.0 780,230.6 781,230.9 782,231.1 783,231.4 784,232.4 785,232.9 786,233.1 787,234.0 788,235.2 789,236.0 790,235.6 791,235.4 792,235.3 793,235.7 794,236.2 795,236.7 796,237.7 797,238.0 798,238.0 799,237.6 800,238.0 801,239.1 802,240.3 803,241.1 804,241.9 805,242.8 806,243.0 807,242.4 808,242.9 809,244.2 810,244.7 811,245.1 812,245.7 813,246.9 814,247.5 815,247.9 816,248.7 817,248.9 818,249.8 819,250.0 820,251.0 821,251.5 822,252.5 823,253.3 824,254.1 825,254.5 826,254.8 827,255.0 828,254.9 829,254.9 830,255.4 831,256.9 832,258.1 833,259.1 834,259.5 835,260.6 836,261.6 837,262.2 838,262.0 839,262.7 840,263.5 841,264.7 842,264.8 843,265.9 844,266.7 845,267.4 846,267.5 847,268.1 848,268.8 849,269.0 850,269.0 851,269.4 852,270.8 853,271.9 854,272.9 855,272.9 856,273.6 857,274.8 858,275.8 859,276.2 860,276.9 861,278.4 862,279.6 863,280.7 864,281.5 865,282.3 866,282.6 867,283.2 868,283.8 869,284.7 870,284.9 871,285.1 872,286.5 873,287.9 874,288.9 875,289.7 876,290.9 877,291.6 878,292.4 879,293.0 880,293.6 881,293.7 882,294.8 883,295.6 884,296.4 885,297.3 886,298.6 887,299.5 888,300.6 889,302.0 890,302.8 891,303.7 892,304.8 893,306.1 894,306.3 895,306.7 896,308.0 897,309.6 898,310.4 899,310.7 900,311.5 901,312.8 902,313.7 903,315.1 904,316.2 905,317.0 906,316.9 907,317.5 908,318.2 909,319.5 910,320.3 911,321.1 912,322.5 913,323.9 914,325.2 915,325.7 916,326.5 917,327.4 918,328.4 919,329.3 920,330.0 921,331.2 922,332.1 923,333.4 924,334.4 925,335.2 926,335.6 927,336.7 928,338.3 929,340.0 930,341.3 931,341.8 932,342.1 933,343.5 934,344.9 935,345.8 936,346.7 937,348.4 938,350.3 939,351.5 940,351.6 941,352.2 942,353.2 943,354.5 944,354.9 945,355.4 946,356.9 947,358.5 948,360.0 949,361.1 950,362.7 951,364.1 952,365.1 953,365.7 954,366.5 955,367.4 956,368.9 957,370.2 958,371.6 959,372.6 960,373.9 961,374.9 962,376.3 963,377.7 964,379.1 965,379.6 966,380.5 967,381.7 968,383.0 969,384.0 970,385.6 971,387.2 972,387.7 973,388.7 974,389.6 975,391.2 976,392.5 977,393.8 978,394.8 979,395.5 980,396.6 981,397.9 982,399.8 983,401.7 984,402.3 985,402.6 986,403.0 987,404.0 988,405.4 989,407.5 990,409.6 991,410.5 992,411.0 993,411.9 994,414.2 995,415.6 996,416.9 997,417.4 998,418.3 999,419.4 1000,421.2 1001,422.7 1002,423.5 1003,424.8 1004,426.6 1005,427.8 1006,428.3 1007,429.1 1008,430.2 1009,431.7 1010,433.2 1011,434.2 1012,434.8 1013,436.0 1014,438.2 1015,439.5 1016,440.7 1017,441.5 1018,442.6 1019,444.2 1020,446.0 1021,447.8 1022,449.1 1023,450.3 1024,451.2 1025,452.3 1026,453.4 1027,454.7 1028,455.5 1029,456.8 1030,458.3 1031,459.8 1032,460.5 1033,461.6 1034,463.7 1035,465.4 1036,466.2 1037,467.2 1038,468.7 1039,469.8 1040,470.3 1041,471.4 1042,472.7 1043,473.8 1044,475.5 1045,477.5 1046,479.0 1047,479.7 1048,480.8 1049,482.3 1050,484.3 1051,486.2 1052,487.1 1053,487.9 1054,489.0 1055,490.2 1056,490.8 1057,492.3 1058,494.6 1059,496.0 1060,497.1 1061,498.6 1062,500.0 1063,500.7 1064,501.6 1065,503.2 1066,504.3 1067,505.5 1068,507.0 1069,508.1 1070,509.0 1071,510.4 1072,511.6 1073,512.8 1074,514.2 1075,516.1 1076,517.4 1077,518.5 1078,519.6 1079,520.6 1080,521.5 1081,523.1 1082,525.5 1083,527.6 1084,529.1 1085,529.7 1086,530.2 1087,530.8 1088,532.6 1089,534.1 1090,535.3 1091,536.3 1092,537.9 1093,539.6 1094,540.4 1095,541.2 1096,542.0 1097,543.2 1098,544.4 1099,545.9 1100,546.7 1101,547.6 1102,548.7 1103,549.7 1104,551.1 1105,552.8 1106,554.6 1107,555.1 1108,556.4 1109,557.3 1110,558.8 1111,560.3 1112,562.3 1113,563.5 1114,564.1 1115,565.1 1116,566.2 1117,567.2 1118,568.4 1119,570.7 1120,572.9 1121,574.5 1122,575.0 1123,575.9 1124,577.3 1125,579.0 1126,579.7 1127,580.1 1128,580.8 1129,581.9 1130,582.8 1131,583.7 1132,585.1 1133,586.9 1134,588.8 1135,590.7 1136,592.6 1137,594.1 1138,595.5 1139,596.4 1140,597.3 1141,598.6 1142,600.8 1143,602.0 1144,602.0 1145,602.4 1146,604.2 1147,605.3 1148,606.5 1149,607.0 1150,608.7 1151,610.2 1152,612.3 1153,612.9 1154,613.1 1155,614.1 1156,616.4 1157,617.7 1158,618.4 1159,619.4 1160,620.5 1161,621.7 1162,622.0 1163,622.6 1164,623.5 1165,626.1 1166,628.3 1167,628.9 1168,629.3 1169,631.2 1170,633.8 1171,635.6 1172,636.4 1173,637.2 1174,638.0 1175,638.7 1176,639.9 1177,641.3 1178,641.9 1179,642.7 1180,644.0 1181,645.0 1182,646.1 1183,647.8 1184,649.6 1185,650.3 1186,650.9 1187,652.5 1188,654.7 1189,656.0 1190,655.9 1191,656.4 1192,657.8 1193,660.0 1194,661.0 1195,661.8 1196,662.4 1197,664.0 1198,665.4 1199,666.5 1200,667.3 1201,668.4 1202,670.3 1203,672.7 1204,674.7 1205,675.8 1206,677.0 1207,678.6 1208,680.4 1209,681.0 1210,681.2 1211,681.4 1212,682.2 1213,682.8 1214,684.0 1215,684.8 1216,685.9 1217,687.4 1218,689.1 1219,689.7 1220,691.1 1221,693.6 1222,695.0 1223,695.3 1224,696.1 1225,696.8 1226,697.1 1227,697.2 1228,698.7 1229,699.7 1230,700.6 1231,701.7 1232,704.1 1233,706.6 1234,708.7 1235,710.2 1236,711.6 1237,712.6 1238,714.1 1239,714.4 1240,715.2 1241,715.7 1242,717.0 1243,718.0 1244,719.3 1245,720.0 1246,720.6 1247,721.6 1248,723.1 1249,724.4 1250,725.8 1251,726.7 1252,727.6 1253,727.8 1254,728.5 1255,730.0 1256,731.2 1257,731.9 1258,732.3 1259,732.3 1260,731.9 1261,732.6 1262,733.8 1263,735.1 1264,736.6 1265,739.0 1266,741.4 1267,743.9 1268,745.4 1269,746.8 1270,747.6 1271,748.2 1272,749.3 1273,750.3 1274,751.4 1275,751.9 1276,753.2 1277,754.1 1278,755.5 1279,756.8 1280,758.3 1281,758.9 1282,760.0 1283,761.0 1284,761.9 1285,762.0 1286,762.5 1287,763.2 1288,764.4 1289,766.4 1290,768.2 1291,769.6 1292,770.2 1293,771.7 1294,773.5 1295,773.8 1296,773.7 1297,773.1 1298,774.3 1299,775.1 1300,776.6 1301,777.3 1302,778.8 1303,780.0 1304,781.4 1305,782.3 1306,782.6 1307,782.4 1308,782.9 1309,783.9 1310,784.5 1311,784.9 1312,787.0 1313,790.2 1314,792.8 1315,794.2 1316,795.2 1317,797.0 1318,799.0 1319,800.1 1320,800.1 1321,799.9 1322,800.3 1323,800.2 1324,801.0 1325,802.0 1326,802.9 1327,804.2 1328,805.5 1329,807.5 1330,809.1 1331,810.6 1332,812.2 1333,814.1 1334,816.0 1335,816.2 1336,816.0 1337,815.9 1338,816.0 1339,816.4 1340,816.4 1340,829.2 1339,829.2 1338,829.7 1337,829.7 1336,829.9 1335,829.6 1334,829.5 1333,828.1 1332,826.0 1331,822.9 1330,820.6 1329,819.2 1328,817.9 1327,816.3 1326,815.2 1325,814.4 1324,814.0 1323,813.4 1322,813.1 1321,813.2 1320,813.3 1319,812.7 1318,811.2 1317,810.1 1316,808.9 1315,807.2 1314,804.4 1313,802.0 1312,799.1 1311,797.2 1310,796.2 1309,795.3 1308,794.5 1307,793.9 1306,794.5 1305,794.3 1304,794.1 1303,792.3 1302,791.0 1301,789.6 1300,788.6 1299,786.5 1298,785.8 1297,785.3 1296,785.3 1295,784.4 1294,784.4 1293,784.0 1292,783.2 1291,781.7 1290,779.6 1289,777.1 1288,775.5 1287,774.8 1286,774.2 1285,773.4 1284,773.0 1283,772.4 1282,771.5 1281,770.7 1280,770.1 1279,768.6 1278,767.4 1277,765.9 1276,764.6 1275,762.8 1274,761.9 1273,760.8 1272,759.9 1271,759.5 1270,759.5 1269,758.6 1268,757.2 1267,755.2 1266,752.9 1265,750.7 1264,748.8 1263,746.6 1262,745.3 1261,744.8 1260,744.0 1259,742.8 1258,742.2 1257,742.3 1256,741.5 1255,740.3 1254,739.1 1253,738.6 1252,737.6 1251,736.8 1250,736.1 1249,735.5 1248,734.4 1247,733.0 1246,731.8 1245,730.2 1244,729.3 1243,728.2 1242,727.8 1241,726.7 1240,725.9 1239,724.6 1238,724.1 1237,723.4 1236,722.4 1235,721.0 1234,718.8 1233,716.8 1232,714.2 1231,712.9 1230,711.9 1229,710.7 1228,708.6 1227,707.6 1226,707.5 1225,706.9 1224,706.5 1223,706.3 1222,706.0 1221,703.7 1220,701.7 1219,700.6 1218,700.0 1217,697.9 1216,695.7 1215,694.7 1214,694.3 1213,693.9 1212,692.8 1211,691.6 1210,690.7 1209,690.1 1208,688.9 1207,686.9 1206,685.6 1205,684.3 1204,683.0 1203,680.9 1202,678.9 1201,677.4 1200,676.0 1199,675.1 1198,674.4 1197,673.3 1196,671.9 1195,670.7 1194,669.9 1193,669.1 1192,667.8 1191,666.2 1190,665.2 1189,664.5 1188,663.0 1187,661.5 1186,660.5 1185,659.4 1184,658.6 1183,656.8 1182,654.7 1181,652.7 1180,652.6 1179,651.9 1178,650.6 1177,649.4 1176,649.6 1175,648.8 1174,647.4 1173,646.0 1172,645.3 1171,644.3 1170,642.8 1169,641.2 1168,639.4 1167,638.3 1166,637.0 1165,636.0 1164,634.4 1163,633.1 1162,631.6 1161,630.1 1160,628.5 1159,628.0 1158,627.4 1157,626.4 1156,625.0 1155,623.5 1154,622.3 1153,621.1 1152,620.1 1151,619.4 1150,618.7 1149,617.2 1148,615.1 1147,613.5 1146,612.3 1145,611.9 1144,611.5 1143,611.4 1142,610.3 1141,609.0 1140,607.1 1139,605.5 1138,604.1 1137,602.7 1136,600.6 1135,599.0 1134,597.3 1133,595.7 1132,594.2 1131,594.1 1130,593.9 1129,592.5 1128,591.1 1127,590.3 1126,589.7 1125,588.3 1124,586.6 1123,584.8 1122,583.8 1121,583.5 1120,582.8 1119,580.9 1118,578.8 1117,577.3 1116,576.4 1115,575.5 1114,574.2 1113,573.1 1112,571.5 1111,570.5 1110,569.4 1109,568.5 1108,567.2 1107,565.8 1106,564.4 1105,562.8 1104,561.4 1103,559.8 1102,558.6 1101,557.7 1100,556.3 1099,555.5 1098,554.5 1097,553.9 1096,552.7 1095,551.8 1094,549.9 1093,548.2 1092,547.1 1091,546.1 1090,544.3 1089,543.2 1088,542.5 1087,542.0 1086,540.1 1085,538.2 1084,536.1 1083,535.7 1082,534.6 1081,533.1 1080,531.1 1079,530.5 1078,529.2 1077,527.5 1076,525.5 1075,524.8 1074,523.6 1073,522.1 1072,520.5 1071,519.9 1070,518.9 1069,517.8 1068,515.8 1067,514.3 1066,512.7 1065,512.0 1064,510.9 1063,509.9 1062,508.5 1061,507.9 1060,507.5 1059,506.4 1058,504.1 1057,501.8 1056,500.8 1055,499.9 1054,499.3 1053,498.3 1052,497.1 1051,495.5 1050,494.2 1049,493.1 1048,491.3 1047,489.7 1046,488.1 1045,486.3 1044,485.0 1043,484.1 1042,483.4 1041,482.1 1040,480.5 1039,479.3 1038,478.3 1037,477.0 1036,475.9 1035,475.2 1034,474.6 1033,472.7 1032,471.3 1031,469.9 1030,468.3 1029,466.7 1028,465.4 1027,464.1 1026,462.1 1025,460.9 1024,460.3 1023,459.2 1022,457.8 1021,456.6 1020,455.7 1019,454.7 1018,453.8 1017,452.6 1016,450.8 1015,449.0 1014,447.4 1013,445.8 1012,444.3 1011,443.6 1010,443.1 1009,442.5 1008,441.2 1007,439.5 1006,438.1 1005,437.4 1004,436.4 1003,434.6 1002,433.3 1001,432.8 1000,431.5 999,429.8 998,428.7 997,428.3 996,426.9 995,425.3 994,423.9 993,422.9 992,421.3 991,420.0 990,419.1 989,418.0 988,416.2 987,415.0 986,413.8 985,412.9 984,411.4 983,410.2 982,408.9 981,408.5 980,407.3 979,405.7 978,404.4 977,403.1 976,401.6 975,399.8 974,398.8 973,398.3 972,397.7 971,396.7 970,395.3 969,393.6 968,392.0 967,390.9 966,389.9 965,389.0 964,388.5 963,387.9 962,386.0 961,384.0 960,383.1 959,382.8 958,381.5 957,380.3 956,378.9 955,377.5 954,376.5 953,376.1 952,375.3 951,373.3 950,371.5 949,370.2 948,369.7 947,369.1 946,367.7 945,366.7 944,365.7 943,364.3 942,362.5 941,361.8 940,361.2 939,359.9 938,358.7 937,358.3 936,357.1 935,355.1 934,353.5 933,352.8 932,352.6 931,352.0 930,350.8 929,349.4 928,348.2 927,346.8 926,345.4 925,344.7 924,343.6 923,342.3 922,341.5 921,341.2 920,340.0 919,338.6 918,337.5 917,336.7 916,335.7 915,334.7 914,333.7 913,333.2 912,333.1 911,331.9 910,330.5 909,329.1 908,328.0 907,326.9 906,326.4 905,325.8 904,324.6 903,323.5 902,322.6 901,322.3 900,321.9 899,320.8 898,319.1 897,318.0 896,316.9 895,316.2 894,314.8 893,314.1 892,313.0 891,313.0 890,311.9 889,310.8 888,309.3 887,308.1 886,307.6 885,307.4 884,306.7 883,305.5 882,304.3 881,303.2 880,302.5 879,302.6 878,301.6 877,300.3 876,299.0 875,298.5 874,297.6 873,296.7 872,295.5 871,294.2 870,293.8 869,293.8 868,293.5 867,292.8 866,291.7 865,291.2 864,289.9 863,289.5 862,288.2 861,286.9 860,286.0 859,285.9 858,285.7 857,284.4 856,282.9 855,282.1 854,281.3 853,280.5 852,279.5 851,278.8 850,277.9 849,277.8 848,278.3 847,278.4 846,276.9 845,275.8 844,275.5 843,275.6 842,274.2 841,273.1 840,272.2 839,271.7 838,271.1 837,271.0 836,269.8 835,268.7 834,267.3 833,267.0 832,266.7 831,266.6 830,265.3 829,263.8 828,263.0 827,262.6 826,261.9 825,261.4 824,261.0 823,261.0 822,260.8 821,260.4 820,259.2 819,257.8 818,257.6 817,257.8 816,257.1 815,255.6 814,254.3 813,253.7 812,253.0 811,252.7 810,252.0 809,251.0 808,250.4 807,250.1 806,250.4 805,250.1 804,250.3 803,249.5 802,249.0 801,247.7 800,246.8 799,246.8 798,246.9 797,246.5 796,245.6 795,245.1 794,244.7 793,244.8 792,244.6 791,244.2 790,243.3 789,243.6 788,242.8 787,242.2 786,241.6 785,241.6 784,240.6 783,239.9 782,239.7 781,239.6 780,239.0 779,238.1 778,237.9 777,237.7 776,237.6 775,236.8 774,236.8 773,236.8 772,237.2 771,237.0 770,236.2 769,235.1 768,234.4 767,234.5 766,234.6 765,234.4 764,233.3 763,232.3 762,231.8 761,231.9 760,231.6 759,231.5 758,231.1 757,231.0 756,231.2 755,231.3 754,230.6 753,230.4 752,230.4 751,230.7 750,230.6 749,230.3 748,229.0 747,227.8 746,227.2 745,227.1 744,227.4 743,227.5 742,227.3 741,227.2 740,227.3 739,227.2 738,227.2 737,227.4 736,227.8 735,227.5 734,226.9 733,226.0 732,225.4 731,225.3 730,226.1 729,226.3 728,225.7 727,225.6 726,226.4 725,226.9 724,226.6 723,225.4 722,224.2 721,224.0 720,224.2 719,224.8 718,225.2 717,225.6 716,224.9 715,224.9 714,224.8 713,224.6 712,223.9 711,223.7 710,223.6 709,223.6 708,223.9 707,224.3 706,224.1 705,224.4 704,225.2 703,225.6 702,224.6 701,224.5 700,225.0 699,225.4 698,225.3 697,225.6 696,225.2 695,225.2 694,225.2 693,224.9 692,224.6 691,225.5 690,226.1 689,226.3 688,226.4 687,226.8 686,226.6 685,226.6 684,226.7 683,226.9 682,227.0 681,227.4 680,227.7 679,227.9 678,227.7 677,227.6 676,228.1 675,228.6 674,229.1 673,229.1 672,228.9 671,228.7 670,228.8 669,228.9 668,229.0 667,229.1 666,229.1 665,229.5 664,230.6 663,231.4 662,231.4 661,231.3 660,231.8 659,231.8 658,231.5 657,231.9 656,232.5 655,233.1 654,233.4 653,234.0 652,234.2 651,234.2 650,234.4 649,234.3 648,234.7 647,235.6 646,236.6 645,237.4 644,237.9 643,237.5 642,237.1 641,237.1 640,238.3 639,239.4 638,240.3 637,240.1 636,239.7 635,239.8 634,240.2 633,241.4 632,242.2 631,242.7 630,242.9 629,243.4 628,243.8 627,244.5 626,245.0 625,245.2 624,244.9 623,245.1 622,245.7 621,246.3 620,247.2 619,248.4 618,249.7 617,249.8 616,249.4 615,250.0 614,250.9 613,251.4 612,251.8 611,252.7 610,253.2 609,253.4 608,254.1 607,254.6 606,254.4 605,254.6 604,256.0 603,257.3 602,257.8 601,258.7 600,259.1 599,259.0 598,259.6 597,261.1 596,262.0 595,262.5 594,262.8 593,263.0 592,263.7 591,265.4 590,265.8 589,267.2 588,266.8 587,267.6 586,267.5 585,268.5 584,269.8 583,270.9 582,269.7 581,269.9 580,271.6 579,274.5 578,274.2 577,274.6 576,275.0 575,275.2 574,275.9 573,277.0 572,279.0 571,279.5 570,279.4 569,279.8 568,282.0 567,281.5 566,282.5 565,285.3 564,284.2 563,286.2 562,284.7 561,286.1 560,288.3 559,287.4 558,288.3 557,289.7 556,290.7 555,291.2 554,292.3 553,293.4 552,293.8 551,295.6 550,294.7 549,296.0 548,297.1 547,298.0 546,300.5 545,300.3 544,303.0 543,301.7 542,303.3 541,304.3 540,305.0 539,306.2 538,307.0 537,310.0 536,307.4 535,309.7 534,309.5 533,311.2 532,312.8 531,313.6 530,315.8 529,314.2 528,315.0 527,315.9 526,317.1 525,318.7 524,319.7 523,320.5 522,321.0 521,322.2 520,323.9 519,324.3 518,325.4 517,326.2 516,326.6 515,327.6 514,329.6 513,331.4 512,332.1 511,332.3 510,334.7 509,334.0 508,338.6 507,337.3 506,337.8 505,338.3 504,342.2 503,343.2 502,341.9 501,345.3 500,345.1 499,345.7 498,346.6 497,347.9 496,352.2 495,350.6 494,353.6 493,353.0 492,354.5 491,355.4 490,356.3 489,357.2 488,358.3 487,359.0 486,361.1 485,360.2 484,364.1 483,362.7 482,363.8 481,368.6 480,366.3 479,367.1 478,368.3 477,370.3 476,371.7 475,372.3 474,373.3 473,374.9 472,376.7 471,379.2 470,379.1 469,380.2 468,383.2 467,383.0 466,383.7 465,385.1 464,387.5 463,388.0 462,389.2 461,393.4 460,394.1 459,391.7 458,393.2 457,395.4 456,396.8 455,397.7 454,398.6 453,399.9 452,401.5 451,404.5 450,405.2 449,406.4 448,407.3 447,407.8 446,408.6 445,410.0 444,411.3 443,412.6 442,413.8 441,415.1 440,419.4 439,421.4 438,420.4 437,421.3 436,422.6 435,424.0 434,428.5 433,426.0 432,426.8 431,428.6 430,430.0 429,432.1 428,433.4 427,434.7 426,436.0 425,439.9 424,439.9 423,440.4 422,440.6 421,441.1 420,442.8 419,444.7 418,446.3 417,447.6 416,452.0 415,451.0 414,455.0 413,454.7 412,455.9 411,457.3 410,458.0 409,459.1 408,460.5 407,464.3 406,463.9 405,465.7 404,470.7 403,467.9 402,468.6 401,470.1 400,472.8 399,475.4 398,474.8 397,479.6 396,478.4 395,479.6 394,483.1 393,484.0 392,485.3 391,486.4 390,488.8 389,489.0 388,490.5 387,494.1 386,493.5 385,494.7 384,496.5 383,498.1 382,500.0 381,501.4 380,503.1 379,507.9 378,506.2 377,508.0 376,509.9 375,511.4 374,512.5 373,515.8 372,518.5 371,516.7 370,517.9 369,519.6 368,521.4 367,523.7 366,525.2 365,526.5 364,527.7 363,533.0 362,533.2 361,533.3 360,534.2 359,535.0 358,536.8 357,538.9 356,542.0 355,542.0 354,544.4 353,546.8 352,548.5 351,551.1 350,550.7 349,551.6 348,552.9 347,555.5 346,558.5 345,559.6 344,560.8 343,562.2 342,563.8 341,566.4 340,568.1 339,572.5 338,573.7 337,571.2 336,575.7 335,573.6 334,576.1 333,578.6 332,580.3 331,581.6 330,583.3 329,585.5 328,587.1 327,588.3 326,589.1 325,590.6 324,592.6 323,594.4 322,596.5 321,596.8 320,598.7 319,602.1 318,601.5 317,602.5 316,603.3 315,606.2 314,605.8 313,608.1 312,610.4 311,613.3 310,614.0 309,615.5 308,616.9 307,618.6 306,619.8 305,621.1 304,626.0 303,624.7 302,626.3 301,630.9 300,630.0 299,632.1 298,634.1 297,635.1 296,637.4 295,636.1 294,639.1 293,639.4 292,641.4 291,645.1 290,643.8 289,646.9 288,646.3 287,648.8 286,648.8 285,649.4 284,650.8 283,652.3 282,653.7 281,653.7 280,654.4 279,656.1 278,658.1 277,663.0 276,661.7 275,667.4 274,665.4 273,666.9 272,667.8 271,670.1 270,670.2 269,672.6 268,674.2 267,675.0 266,675.5 265,676.1 264,680.7 263,678.2 262,682.2 261,681.2 260,682.8 259,683.6 258,684.3 257,689.4 256,689.1 255,689.7 254,690.8 253,692.5 252,696.7 251,698.0 250,695.2 249,695.8 248,696.5 247,696.2 246,696.8 245,699.3 244,701.8 243,703.6 242,708.0 241,706.2 240,707.3 239,708.8 238,712.1 237,711.4 236,713.9 235,713.2 234,715.0 233,716.8 232,721.0 231,718.9 230,719.0 229,719.1 228,720.3 227,720.7 226,721.3 225,721.8 224,723.0 223,723.7 222,725.4 221,726.5 220,728.3 219,729.1 218,733.3 217,729.7 216,730.4 215,731.8 214,733.9 213,734.9 212,735.9 211,737.1 210,739.5 209,742.9 208,740.5 207,741.0 206,742.0 205,744.8 204,744.5 203,748.4 202,746.5 201,748.0 200,748.6 199,749.0 198,751.1 197,751.0 196,751.6 195,752.4 194,752.4 193,753.6 192,754.7 191,757.2 190,756.7 189,760.0 188,760.0 187,764.2 186,761.6 185,762.1 184,763.2 183,764.0 182,764.5 181,764.2 180,764.8 179,765.8 178,766.6 177,767.0 176,766.9 175,767.2 174,769.3 173,770.1 172,771.2 171,774.7 170,772.0 169,773.5 168,774.9 167,776.2 166,777.8 165,779.6 164,781.3 163,784.9 162,781.9 161,782.4 160,782.4"/><rect x="164" y="771.4" width="4" height="11.0"/><rect x="171" y="764.8" width="4" height="8.8"/><rect x="176" y="760.3" width="4" height="10.2"/><rect x="181" y="758.9" width="4" height="18.0"/><rect x="192" y="747.2" width="4" height="8.5"/><rect x="207" y="735.1" width="4" height="17.2"/><rect x="217" y="724.5" width="4" height="8.7"/><rect x="225" y="715.3" width="4" height="14.9"/><rect x="232" y="710.0" width="4" height="16.2"/><rect x="243" y="694.0" width="4" height="18.3"/><rect x="253" y="684.7" width="4" height="9.6"/><rect x="263" y="671.9" width="4" height="15.8"/><rect x="274" y="655.4" width="4" height="12.3"/><rect x="284" y="642.9" width="4" height="14.4"/><rect x="294" y="629.6" width="4" height="14.3"/><rect x="309" y="605.6" width="4" height="16.0"/><rect x="323" y="585.7" width="4" height="8.6"/><rect x="341" y="557.5" width="4" height="15.6"/><rect x="349" y="543.3" width="4" height="13.2"/><rect x="365" y="517.9" width="4" height="15.3"/><rect x="383" y="489.5" width="4" height="8.5"/><rect x="394" y="473.0" width="4" height="14.8"/><rect x="412" y="448.1" width="4" height="15.1"/><rect x="425" y="429.6" width="4" height="11.9"/><rect x="440" y="409.3" width="4" height="9.7"/><rect x="452" y="393.8" width="4" height="14.8"/><rect x="459" y="385.0" width="4" height="13.8"/><rect x="467" y="374.9" width="4" height="12.6"/><rect x="484" y="355.2" width="4" height="9.4"/><rect x="500" y="337.7" width="4" height="10.1"/><rect x="513" y="324.1" width="4" height="8.6"/><rect x="524" y="313.2" width="4" height="8.2"/><rect x="550" y="290.1" width="4" height="7.0"/></g>
<g fill="#0000FF" shape-rendering="crispEdges"><polygon points="160,712.6 161,712.6 162,710.6 163,709.2 164,707.2 165,706.3 166,705.5 167,704.4 168,702.8 169,701.5 170,699.9 171,697.9 172,696.1 173,694.5 174,693.6 175,693.7 176,694.4 177,694.0 178,692.6 179,691.7 180,691.3 181,691.6 182,691.7 183,690.7 184,689.5 185,687.8 186,685.8 187,683.4 188,681.9 189,680.2 190,677.4 191,674.9 192,673.6 193,673.1 194,671.8 195,670.4 196,668.8 197,668.3 198,668.0 199,667.6 200,665.6 201,664.1 202,662.9 203,662.0 204,661.1 205,660.5 206,659.5 207,658.0 208,656.9 209,655.7 210,654.5 211,652.5 212,651.1 213,649.7 214,647.8 215,646.3 216,644.8 217,643.0 218,640.7 219,640.1 220,639.4 221,638.2 222,636.9 223,636.6 224,635.4 225,633.3 226,632.3 227,631.4 228,630.7 229,629.7 230,628.8 231,626.7 232,625.0 233,623.8 234,622.9 235,621.3 236,619.9 237,618.7 238,617.5 239,615.5 240,613.3 241,611.6 242,610.3 243,608.5 244,606.3 245,604.0 246,602.3 247,600.9 248,599.9 249,598.7 250,597.5 251,596.0 252,594.9 253,593.5 254,592.1 255,590.6 256,589.2 257,587.0 258,584.2 259,581.7 260,580.1 261,578.3 262,576.7 263,574.6 264,573.6 265,571.8 266,570.7 267,568.9 268,568.1 269,566.4 270,565.2 271,563.6 272,561.5 273,559.8 274,558.7 275,558.0 276,556.4 277,554.9 278,553.6 279,552.4 280,550.2 281,547.9 282,545.7 283,543.5 284,541.0 285,538.9 286,538.0 287,536.8 288,535.5 289,533.3 290,531.7 291,530.4 292,529.8 293,528.8 294,527.2 295,525.1 296,523.1 297,521.6 298,520.6 299,519.1 300,516.7 301,514.2 302,512.8 303,511.7 304,509.7 305,506.9 306,504.4 307,503.3 308,502.6 309,501.5 310,499.2 311,497.0 312,495.6 313,493.9 314,492.2 315,491.1 316,489.8 317,487.5 318,484.9 319,482.8 320,481.0 321,479.4 322,478.3 323,476.9 324,474.8 325,473.3 326,472.4 327,471.5 328,469.9 329,468.1 330,466.7 331,465.0 332,463.1 333,460.8 334,459.0 335,457.2 336,455.9 337,454.9 338,454.1 339,452.2 340,450.0 341,448.8 342,448.3 343,447.4 344,445.2 345,442.9 346,440.8 347,439.3 348,437.7 349,435.9 350,434.3 351,433.1 352,432.4 353,431.3 354,429.5 355,427.5 356,425.9 357,424.9 358,423.1 359,421.3 360,419.6 361,418.4 362,416.4 363,414.8 364,413.6 365,412.5 366,410.5 367,409.0 368,407.5 369,405.9 370,404.1 371,402.6 372,401.7 373,399.9 374,398.2 375,396.5 376,395.9 377,394.7 378,393.0 379,391.1 380,389.1 381,386.9 382,385.1 383,384.0 384,382.6 385,381.6 386,380.9 387,379.9 388,377.9 389,376.1 390,375.0 391,373.6 392,372.1 393,370.8 394,369.9 395,367.9 396,366.1 397,365.2 398,364.7 399,362.8 400,360.6 401,359.3 402,358.5 403,357.1 404,355.7 405,353.9 406,352.6 407,351.5 408,350.4 409,348.2 410,346.6 411,345.8 412,344.3 413,342.8 414,341.3 415,340.2 416,338.5 417,336.8 418,335.9 419,335.3 420,334.8 421,333.1 422,331.3 423,329.8 424,328.5 425,327.4 426,326.2 427,325.4 428,324.5 429,322.9 430,321.1 431,320.0 432,318.7 433,316.8 434,314.8 435,314.1 436,313.0 437,312.2 438,310.6 439,309.4 440,308.2 441,307.5 442,306.6 443,305.4 444,304.0 445,303.2 446,302.2 447,300.8 448,299.0 449,298.4 450,297.9 451,297.2 452,295.9 453,294.0 454,292.1 455,290.8 456,289.7 457,288.1 458,286.4 459,285.7 460,284.6 461,283.3 462,282.3 463,281.7 464,281.1 465,279.4 466,278.0 467,277.1 468,276.2 469,274.8 470,273.3 471,272.7 472,272.4 473,271.9 474,271.2 475,269.9 476,268.7 477,267.2 478,266.7 479,265.5 480,264.4 481,263.8 482,263.3 483,262.4 484,261.3 485,260.1 486,259.1 487,258.2 488,257.5 489,255.8 490,254.4 491,253.5 492,252.5 493,251.0 494,250.0 495,249.7 496,248.7 497,247.2 498,246.3 499,245.3 500,244.8 501,244.1 502,243.7 503,242.8 504,241.8 505,240.3 506,238.5 507,237.5 508,237.4 509,236.7 510,236.0 511,235.0 512,233.9 513,232.1 514,230.9 515,230.6 516,230.4 517,230.1 518,228.9 519,227.5 520,227.0 521,226.3 522,225.3 523,223.7 524,223.0 525,221.8 526,221.8 527,221.1 528,220.2 529,219.2 530,218.5 531,217.9 532,217.1 533,216.4 534,215.5 535,215.1 536,214.6 537,214.0 538,213.3 539,212.3 540,211.1 541,210.1 542,209.5 543,208.8 544,208.6 545,207.9 546,207.3 547,206.3 548,205.0 549,203.9 550,203.6 551,203.2 552,202.5 553,202.2 554,202.4 555,201.9 556,200.9 557,200.1 558,199.1 559,198.1 560,197.5 561,197.1 562,196.5 563,195.6 564,195.4 565,194.8 566,194.0 567,193.2 568,192.5 569,192.0 570,191.5 571,191.3 572,191.1 573,190.1 574,189.3 575,188.6 576,188.8 577,187.7 578,186.6 579,185.9 580,185.8 581,185.5 582,185.4 583,185.1 584,184.1 585,183.0 586,183.1 587,182.8 588,181.7 589,180.5 590,180.5 591,180.6 592,180.4 593,180.1 594,180.0 595,179.7 596,178.8 597,177.3 598,176.2 599,175.4 600,175.3 601,175.2 602,175.3 603,175.0 604,174.4 605,174.2 606,174.3 607,174.2 608,173.2 609,172.6 610,172.5 611,172.8 612,171.7 613,170.9 614,169.8 615,169.6 616,168.8 617,168.4 618,168.5 619,169.0 620,169.3 621,168.3 622,167.6 623,167.0 624,166.9 625,166.6 626,166.1 627,165.8 628,165.8 629,166.0 630,165.5 631,165.4 632,165.3 633,165.2 634,164.2 635,163.5 636,162.9 637,162.8 638,162.5 639,162.6 640,163.0 641,162.7 642,161.9 643,161.2 644,161.6 645,162.0 646,162.3 647,161.8 648,161.9 649,161.3 650,161.7 651,161.2 652,161.4 653,161.1 654,160.8 655,160.4 656,160.1 657,160.4 658,160.2 659,160.5 660,160.6 661,160.3 662,159.5 663,159.4 664,159.5 665,159.1 666,158.7 667,158.4 668,158.5 669,158.3 670,158.5 671,158.6 672,158.4 673,158.4 674,158.6 675,159.2 676,159.3 677,158.7 678,157.9 679,157.8 680,158.5 681,158.6 682,158.0 683,158.1 684,158.2 685,157.8 686,157.3 687,157.6 688,158.5 689,159.1 690,158.9 691,158.4 692,158.7 693,159.1 694,159.0 695,158.7 696,159.1 697,159.3 698,159.4 699,159.3 700,159.2 701,159.3 702,159.5 703,159.3 704,159.3 705,159.4 706,160.0 707,160.2 708,160.5 709,160.0 710,160.0 711,160.5 712,161.0 713,160.9 714,160.7 715,161.0 716,161.2 717,161.0 718,161.0 719,162.0 720,163.0 721,163.1 722,162.4 723,162.8 724,163.7 725,164.4 726,164.5 727,164.4 728,163.7 729,163.9 730,164.6 731,165.1 732,165.0 733,165.0 734,165.3 735,165.8 736,166.3 737,166.5 738,166.6 739,166.6 740,167.1 741,167.9 742,168.6 743,169.1 744,169.5 745,169.2 746,169.0 747,168.9 748,169.0 749,168.7 750,169.2 751,170.1 752,171.3 753,172.1 754,172.4 755,172.4 756,172.4 757,172.7 758,172.9 759,173.4 760,173.9 761,174.9 762,175.6 763,175.7 764,175.5 765,175.8 766,176.7 767,177.0 768,176.8 769,177.4 770,178.3 771,179.1 772,179.6 773,180.2 774,181.0 775,181.5 776,181.6 777,181.7 778,181.9 779,182.7 780,182.9 781,183.7 782,184.7 783,186.0 784,185.8 785,186.1 786,186.9 787,187.8 788,188.3 789,189.0 790,189.7 791,190.3 792,190.1 793,190.3 794,190.6 795,191.8 796,192.1 797,192.2 798,192.7 799,193.6 800,194.1 801,194.3 802,194.9 803,195.4 804,196.2 805,196.6 806,197.5 807,197.8 808,198.5 809,198.8 810,199.9 811,200.8 812,201.9 813,202.7 814,203.3 815,204.4 816,205.0 817,205.2 818,205.2 819,206.0 820,207.0 821,207.7 822,208.6 823,209.4 824,210.6 825,211.0 826,211.9 827,212.0 828,212.7 829,213.2 830,214.0 831,214.5 832,214.7 833,215.3 834,215.7 835,217.2 836,219.0 837,219.9 838,220.1 839,220.7 840,221.9 841,222.6 842,223.1 843,223.9 844,225.2 845,225.9 846,226.8 847,227.6 848,229.0 849,229.9 850,230.9 851,231.3 852,231.3 853,232.0 854,232.8 855,234.1 856,235.0 857,235.6 858,236.2 859,236.5 860,237.4 861,237.9 862,238.8 863,239.4 864,240.8 865,241.8 866,242.5 867,243.1 868,244.3 869,245.8 870,246.6 871,246.8 872,246.7 873,248.3 874,250.1 875,251.7 876,252.1 877,252.2 878,252.6 879,253.6 880,254.9 881,255.5 882,256.7 883,257.7 884,258.9 885,259.7 886,261.1 887,262.4 888,262.8 889,262.7 890,263.5 891,265.1 892,266.8 893,267.5 894,268.2 895,269.2 896,270.4 897,271.3 898,271.6 899,272.6 900,273.8 901,275.0 902,275.6 903,276.8 904,278.5 905,279.5 906,279.6 907,279.9 908,281.2 909,282.7 910,284.0 911,285.3 912,285.9 913,287.1 914,288.0 915,289.4 916,290.4 917,291.4 918,292.0 919,292.9 920,293.9 921,294.3 922,294.8 923,295.6 924,297.2 925,298.7 926,300.5 927,302.2 928,303.2 929,303.5 930,304.3 931,305.5 932,306.4 933,307.6 934,308.9 935,310.1 936,310.9 937,312.4 938,313.5 939,314.9 940,315.9 941,317.0 942,317.6 943,318.5 944,319.6 945,320.4 946,320.9 947,321.6 948,323.5 949,325.3 950,326.3 951,326.8 952,327.6 953,328.8 954,329.9 955,331.2 956,332.7 957,334.2 958,334.8 959,335.3 960,336.5 961,338.1 962,339.4 963,340.3 964,341.6 965,342.9 966,344.5 967,346.0 968,347.4 969,348.4 970,349.6 971,351.2 972,352.0 973,352.5 974,353.5 975,354.8 976,356.0 977,357.7 978,359.5 979,360.5 980,360.9 981,362.1 982,363.2 983,364.5 984,365.6 985,366.8 986,367.6 987,368.8 988,370.3 989,372.0 990,373.7 991,374.8 992,375.4 993,376.3 994,377.8 995,379.5 996,381.0 997,382.2 998,382.9 999,383.6 1000,384.5 1001,386.2 1002,387.6 1003,388.8 1004,390.0 1005,391.7 1006,392.8 1007,393.9 1008,395.7 1009,397.3 1010,398.0 1011,398.8 1012,400.1 1013,401.7 1014,403.0 1015,404.4 1016,405.5 1017,406.6 1018,407.9 1019,409.7 1020,410.9 1021,412.2 1022,413.4 1023,415.1 1024,415.8 1025,416.3 1026,416.8 1027,418.3 1028,419.8 1029,421.7 1030,423.0 1031,424.5 1032,425.6 1033,426.8 1034,427.5 1035,428.3 1036,429.6 1037,431.8 1038,433.9 1039,435.2 1040,436.3 1041,437.7 1042,439.2 1043,440.3 1044,441.6 1045,442.6 1046,443.4 1047,444.2 1048,446.2 1049,448.1 1050,449.6 1051,450.1 1052,451.0 1053,452.4 1054,454.0 1055,455.2 1056,456.9 1057,458.6 1058,459.7 1059,460.6 1060,461.7 1061,463.3 1062,464.2 1063,465.4 1064,466.4 1065,467.7 1066,468.7 1067,470.3 1068,472.4 1069,474.0 1070,475.5 1071,477.1 1072,478.8 1073,480.2 1074,481.5 1075,482.5 1076,483.1 1077,484.6 1078,486.0 1079,487.7 1080,488.5 1081,489.7 1082,491.0 1083,493.1 1084,494.3 1085,494.7 1086,495.6 1087,497.4 1088,499.3 1089,500.6 1090,501.9 1091,503.4 1092,505.5 1093,506.9 1094,507.9 1095,509.1 1096,510.8 1097,512.4 1098,513.5 1099,514.3 1100,515.5 1101,516.8 1102,517.9 1103,518.9 1104,520.7 1105,522.8 1106,524.4 1107,525.5 1108,527.0 1109,527.8 1110,528.7 1111,529.9 1112,531.8 1113,533.1 1114,534.2 1115,535.4 1116,537.3 1117,539.3 1118,540.2 1119,540.7 1120,542.0 1121,543.4 1122,545.0 1123,546.6 1124,548.5 1125,549.4 1126,549.7 1127,550.1 1128,551.4 1129,553.3 1130,555.0 1131,556.1 1132,557.2 1133,558.1 1134,559.3 1135,560.6 1136,562.0 1137,563.4 1138,565.0 1139,567.1 1140,569.6 1141,571.3 1142,571.9 1143,573.0 1144,574.3 1145,576.3 1146,577.3 1147,578.7 1148,579.4 1149,580.8 1150,582.1 1151,584.1 1152,585.5 1153,586.0 1154,587.2 1155,588.9 1156,590.2 1157,591.3 1158,592.3 1159,593.6 1160,595.2 1161,596.9 1162,597.9 1163,598.5 1164,599.7 1165,601.3 1166,602.7 1167,604.0 1168,604.4 1169,605.2 1170,606.4 1171,608.2 1172,609.2 1173,609.6 1174,609.8 1175,611.4 1176,612.9 1177,614.3 1178,616.0 1179,618.4 1180,619.7 1181,620.3 1182,621.6 1183,623.7 1184,625.0 1185,625.9 1186,626.8 1187,628.0 1188,628.1 1189,628.3 1190,629.0 1191,630.6 1192,631.4 1193,632.5 1194,634.3 1195,636.9 1196,638.5 1197,640.0 1198,641.7 1199,643.8 1200,644.3 1201,644.6 1202,645.0 1203,646.0 1204,646.9 1205,648.3 1206,648.6 1207,649.0 1208,650.3 1209,652.6 1210,653.9 1211,655.1 1212,656.2 1213,658.2 1214,660.5 1215,662.2 1216,662.3 1217,662.9 1218,664.0 1219,664.9 1220,665.6 1221,666.9 1222,667.8 1223,668.7 1224,669.1 1225,669.7 1226,670.5 1227,672.4 1228,674.2 1229,675.3 1230,676.1 1231,677.6 1232,679.4 1233,680.5 1234,681.1 1235,682.2 1236,682.7 1237,683.6 1238,684.1 1239,685.7 1240,687.3 1241,689.2 1242,690.9 1243,691.8 1244,692.0 1245,692.4 1246,693.3 1247,693.9 1248,694.5 1249,695.5 1250,697.7 1251,699.8 1252,700.9 1253,701.5 1254,702.4 1255,703.5 1256,704.0 1257,705.4 1258,706.4 1259,707.5 1260,707.8 1261,709.0 1262,710.0 1263,711.2 1264,711.3 1265,712.3 1266,713.5 1267,715.2 1268,716.6 1269,717.9 1270,718.2 1271,718.8 1272,719.8 1273,721.9 1274,724.0 1275,725.8 1276,726.3 1277,727.4 1278,728.5 1279,730.1 1280,731.3 1281,732.7 1282,733.1 1283,733.6 1284,734.1 1285,735.1 1286,736.3 1287,738.7 1288,740.8 1289,742.6 1290,744.1 1291,745.5 1292,746.7 1293,748.6 1294,750.3 1295,751.5 1296,753.3 1297,755.2 1298,756.3 1299,756.8 1300,757.2 1301,756.9 1302,757.3 1303,758.7 1304,760.0 1305,760.2 1306,760.2 1307,760.9 1308,762.2 1309,763.3 1310,764.5 1311,765.6 1312,767.0 1313,768.3 1314,770.4 1315,772.4 1316,774.9 1317,777.5 1318,779.3 1319,780.3 1320,781.8 1321,784.1 1322,786.4 1323,788.3 1324,789.4 1325,790.2 1326,790.7 1327,791.4 1328,792.5 1329,793.3 1330,793.1 1331,792.5 1332,792.0 1333,791.9 1334,792.5 1335,794.7 1336,796.7 1337,797.9 1338,798.5 1339,800.0 1340,800.0 1340,810.8 1339,810.8 1338,809.6 1337,809.1 1336,808.1 1335,806.6 1334,805.0 1333,804.2 1332,803.2 1331,802.5 1330,802.6 1329,803.8 1328,804.2 1327,804.1 1326,803.4 1325,802.8 1324,801.8 1323,800.1 1322,797.6 1321,795.1 1320,793.4 1319,792.0 1318,790.4 1317,788.7 1316,786.6 1315,785.0 1314,783.4 1313,781.6 1312,779.3 1311,777.3 1310,776.0 1309,775.0 1308,773.8 1307,772.1 1306,770.9 1305,770.9 1304,770.5 1303,770.0 1302,769.1 1301,768.6 1300,767.8 1299,767.8 1298,767.4 1297,766.3 1296,765.0 1295,764.2 1294,763.1 1293,761.0 1292,758.4 1291,756.5 1290,754.5 1289,752.2 1288,750.1 1287,749.2 1286,748.4 1285,747.3 1284,745.8 1283,745.3 1282,744.6 1281,744.3 1280,742.8 1279,741.8 1278,740.2 1277,739.3 1276,737.9 1275,736.5 1274,734.0 1273,731.8 1272,730.1 1271,729.6 1270,728.5 1269,727.8 1268,726.0 1267,725.2 1266,724.3 1265,723.9 1264,722.8 1263,721.8 1262,721.2 1261,720.3 1260,718.9 1259,717.8 1258,716.4 1257,715.1 1256,713.9 1255,713.2 1254,711.9 1253,711.2 1252,710.9 1251,710.2 1250,708.7 1249,707.4 1248,705.9 1247,704.4 1246,703.4 1245,703.1 1244,702.3 1243,701.4 1242,700.1 1241,699.0 1240,697.7 1239,696.5 1238,694.7 1237,692.9 1236,691.6 1235,690.6 1234,689.5 1233,688.9 1232,688.0 1231,686.4 1230,684.5 1229,683.2 1228,682.2 1227,681.4 1226,680.3 1225,679.6 1224,679.0 1223,678.4 1222,676.9 1221,675.8 1220,675.7 1219,676.1 1218,675.4 1217,673.4 1216,671.6 1215,670.9 1214,670.3 1213,668.4 1212,665.5 1211,662.9 1210,661.6 1209,661.1 1208,660.1 1207,658.3 1206,656.5 1205,655.7 1204,655.1 1203,655.2 1202,654.6 1201,654.2 1200,652.6 1199,651.6 1198,650.2 1197,649.0 1196,646.8 1195,645.2 1194,643.1 1193,642.0 1192,640.6 1191,639.7 1190,638.2 1189,637.8 1188,637.7 1187,637.5 1186,636.2 1185,635.0 1184,633.5 1183,632.2 1182,630.3 1181,629.2 1180,628.1 1179,626.3 1178,624.7 1177,623.8 1176,622.8 1175,621.3 1174,619.6 1173,618.9 1172,617.7 1171,616.5 1170,615.6 1169,615.1 1168,614.6 1167,613.3 1166,611.4 1165,609.9 1164,608.7 1163,608.2 1162,606.9 1161,605.6 1160,603.5 1159,602.4 1158,601.4 1157,600.7 1156,600.4 1155,599.9 1154,598.2 1153,596.4 1152,594.6 1151,593.4 1150,591.5 1149,590.6 1148,589.3 1147,588.6 1146,587.3 1145,586.0 1144,583.8 1143,582.0 1142,580.5 1141,579.6 1140,578.6 1139,577.2 1138,576.1 1137,574.4 1136,572.6 1135,570.8 1134,569.8 1133,568.7 1132,567.4 1131,565.8 1130,564.6 1129,563.7 1128,562.9 1127,561.5 1126,559.5 1125,557.7 1124,557.0 1123,556.7 1122,556.0 1121,554.4 1120,552.5 1119,550.7 1118,549.7 1117,548.3 1116,546.5 1115,545.0 1114,544.4 1113,542.9 1112,541.5 1111,540.5 1110,539.4 1109,537.5 1108,535.8 1107,534.9 1106,533.9 1105,532.1 1104,530.9 1103,529.5 1102,528.3 1101,526.3 1100,525.4 1099,524.7 1098,523.3 1097,521.5 1096,519.5 1095,518.0 1094,517.2 1093,516.6 1092,515.6 1091,514.3 1090,513.3 1089,512.0 1088,509.9 1087,508.1 1086,506.0 1085,504.5 1084,503.2 1083,502.3 1082,501.1 1081,499.6 1080,498.4 1079,497.6 1078,496.4 1077,494.6 1076,492.7 1075,491.7 1074,490.7 1073,489.3 1072,487.7 1071,486.1 1070,485.2 1069,483.9 1068,482.4 1067,480.7 1066,480.0 1065,478.7 1064,477.3 1063,475.6 1062,474.1 1061,472.3 1060,471.7 1059,471.0 1058,469.9 1057,468.8 1056,467.7 1055,466.3 1054,464.1 1053,463.1 1052,461.6 1051,460.4 1050,458.9 1049,457.7 1048,456.2 1047,454.4 1046,453.2 1045,451.8 1044,450.7 1043,449.4 1042,448.5 1041,447.8 1040,447.4 1039,445.9 1038,444.2 1037,442.8 1036,441.9 1035,440.0 1034,438.3 1033,437.3 1032,436.8 1031,435.4 1030,433.9 1029,432.6 1028,431.2 1027,429.1 1026,427.5 1025,426.1 1024,425.0 1023,423.7 1022,422.7 1021,421.7 1020,421.3 1019,420.2 1018,418.9 1017,417.4 1016,415.9 1015,414.4 1014,413.5 1013,412.9 1012,411.9 1011,411.0 1010,409.4 1009,407.9 1008,406.2 1007,404.6 1006,403.3 1005,402.7 1004,401.5 1003,399.8 1002,398.3 1001,397.2 1000,396.4 999,395.5 998,394.1 997,392.4 996,391.5 995,391.1 994,389.9 993,388.3 992,386.7 991,385.2 990,383.4 989,382.1 988,381.2 987,380.5 986,378.9 985,377.8 984,376.2 983,375.3 982,373.5 981,372.9 980,372.2 979,371.1 978,369.4 977,368.0 976,366.7 975,365.4 974,364.2 973,363.5 972,362.7 971,362.1 970,361.1 969,359.5 968,357.8 967,355.8 966,354.7 965,353.1 964,352.3 963,351.3 962,350.2 961,348.7 960,347.7 959,347.3 958,346.8 957,345.4 956,343.8 955,342.2 954,341.4 953,340.0 952,339.3 951,338.6 950,337.8 949,336.4 948,334.5 947,333.6 946,332.6 945,331.6 944,330.1 943,329.0 942,327.9 941,326.9 940,325.9 939,324.9 938,323.7 937,323.1 936,321.8 935,320.5 934,319.5 933,318.7 932,317.6 931,316.4 930,316.0 929,314.8 928,313.3 927,311.6 926,311.1 925,310.4 924,309.0 923,307.2 922,306.2 921,305.3 920,304.6 919,303.4 918,302.9 917,302.0 916,301.0 915,299.3 914,298.1 913,297.9 912,297.3 911,296.3 910,295.4 909,294.7 908,293.4 907,292.5 906,291.8 905,290.7 904,289.0 903,287.5 902,286.7 901,285.6 900,285.0 899,284.4 898,283.7 897,282.1 896,281.2 895,280.9 894,280.2 893,279.1 892,278.3 891,276.9 890,275.0 889,273.9 888,273.4 887,272.9 886,272.0 885,270.7 884,269.0 883,268.3 882,268.1 881,267.2 880,265.9 879,265.5 878,265.0 877,263.8 876,262.6 875,261.6 874,260.3 873,259.4 872,259.0 871,258.9 870,257.6 869,256.1 868,254.7 867,254.2 866,253.4 865,252.4 864,251.3 863,250.0 862,248.9 861,248.7 860,248.8 859,247.9 858,246.2 857,245.4 856,245.4 855,245.5 854,244.3 853,242.9 852,242.1 851,242.0 850,240.9 849,240.1 848,238.9 847,238.0 846,237.3 845,237.3 844,236.9 843,235.3 842,233.7 841,232.7 840,231.9 839,231.2 838,230.0 837,229.9 836,229.0 835,228.3 834,227.3 833,226.7 832,225.9 831,225.1 830,224.6 829,224.5 828,223.8 827,222.5 826,221.5 825,221.5 824,220.7 823,219.2 822,218.7 821,219.1 820,218.8 819,217.8 818,216.7 817,215.7 816,214.9 815,214.4 814,213.9 813,213.3 812,212.2 811,211.7 810,211.2 809,210.6 808,209.1 807,208.7 806,208.1 805,208.0 804,206.9 803,206.0 802,204.7 801,204.8 800,205.1 799,204.6 798,203.6 797,202.8 796,202.1 795,200.8 794,200.8 793,201.5 792,201.2 791,200.4 790,199.4 789,199.1 788,197.9 787,197.4 786,196.6 785,196.6 784,195.8 783,195.6 782,194.6 781,193.8 780,193.2 779,193.6 778,193.4 777,193.0 776,192.1 775,191.0 774,190.2 773,190.5 772,189.9 771,189.3 770,188.4 769,187.7 768,186.9 767,187.2 766,186.8 765,186.2 764,185.9 763,186.2 762,185.8 761,185.5 760,185.2 759,184.8 758,184.3 757,183.0 756,182.3 755,182.0 754,181.8 753,181.0 752,180.0 751,179.3 750,178.9 749,179.1 748,178.9 747,178.5 746,178.0 745,177.7 744,176.9 743,177.1 742,177.1 741,176.2 740,175.2 739,175.6 738,175.6 737,175.4 736,174.9 735,174.6 734,173.6 733,173.5 732,173.5 731,173.7 730,173.7 729,174.0 728,173.3 727,172.9 726,172.6 725,172.4 724,172.2 723,171.9 722,171.6 721,171.2 720,171.0 719,170.5 718,169.7 717,169.9 716,170.0 715,170.3 714,170.3 713,170.5 712,170.2 711,169.6 710,168.7 709,167.8 708,167.4 707,167.9 706,168.3 705,167.9 704,167.5 703,168.1 702,168.1 701,167.8 700,167.4 699,167.5 698,167.2 697,166.8 696,167.0 695,167.1 694,166.9 693,166.0 692,166.4 691,166.8 690,166.6 689,166.3 688,166.8 687,167.2 686,167.1 685,166.5 684,166.6 683,166.3 682,166.3 681,165.7 680,165.9 679,166.2 678,166.9 677,167.2 676,167.1 675,166.6 674,166.2 673,166.3 672,166.5 671,166.6 670,166.3 669,166.5 668,166.8 667,166.8 666,166.9 665,167.1 664,167.2 663,166.8 662,166.5 661,166.9 660,168.0 659,168.4 658,168.4 657,168.6 656,169.6 655,169.9 654,169.6 653,169.1 652,169.6 651,169.9 650,169.7 649,169.2 648,169.1 647,168.9 646,168.9 645,169.8 644,170.2 643,170.8 642,171.1 641,172.0 640,172.3 639,172.0 638,171.6 637,171.6 636,171.7 635,172.2 634,172.5 633,172.8 632,172.4 631,172.7 630,173.5 629,174.1 628,174.7 627,175.1 626,175.1 625,174.4 624,174.2 623,174.8 622,175.4 621,175.9 620,177.0 619,177.2 618,177.5 617,177.7 616,178.4 615,178.3 614,179.0 613,179.6 612,180.1 611,180.7 610,181.6 609,182.9 608,182.8 607,182.8 606,182.5 605,182.5 604,183.3 603,183.2 602,183.1 601,183.3 600,185.1 599,185.6 598,186.1 597,185.9 596,187.1 595,187.4 594,187.7 593,188.0 592,188.8 591,189.1 590,189.5 589,190.3 588,190.6 587,191.3 586,191.1 585,192.6 584,193.3 583,193.9 582,193.4 581,193.6 580,194.0 579,195.0 578,195.4 577,195.5 576,196.1 575,197.3 574,198.0 573,198.8 572,199.2 571,199.6 570,201.4 569,200.5 568,200.7 567,202.3 566,202.6 565,205.4 564,203.6 563,204.3 562,205.2 561,205.9 560,206.5 559,207.1 558,208.0 557,210.1 556,209.7 555,211.9 554,211.3 553,211.8 552,212.5 551,213.4 550,213.3 549,215.8 548,215.8 547,215.1 546,216.0 545,216.2 544,216.7 543,218.2 542,219.4 541,220.4 540,220.7 539,221.1 538,221.3 537,222.6 536,224.0 535,224.5 534,225.8 533,225.3 532,226.5 531,230.1 530,228.5 529,229.0 528,229.3 527,230.0 526,230.8 525,231.9 524,233.0 523,234.5 522,236.9 521,234.9 520,235.2 519,236.6 518,237.6 517,238.3 516,239.5 515,240.9 514,241.5 513,243.9 512,242.5 511,243.9 510,244.6 509,245.5 508,245.9 507,247.2 506,248.4 505,249.7 504,250.7 503,254.3 502,252.5 501,253.8 500,257.6 499,255.4 498,256.1 497,257.2 496,260.8 495,258.2 494,258.7 493,259.8 492,261.1 491,262.8 490,263.9 489,264.9 488,266.1 487,270.4 486,268.6 485,269.2 484,270.0 483,271.3 482,274.1 481,272.8 480,273.2 479,274.9 478,276.0 477,276.9 476,279.9 475,278.8 474,279.9 473,281.1 472,281.7 471,282.8 470,283.8 469,284.7 468,285.6 467,288.2 466,290.9 465,288.4 464,290.5 463,292.4 462,293.4 461,293.4 460,294.0 459,299.1 458,297.6 457,299.0 456,300.3 455,303.7 454,302.2 453,302.8 452,305.1 451,307.0 450,306.6 449,309.6 448,309.8 447,314.7 446,312.5 445,315.7 444,315.3 443,319.2 442,317.5 441,318.7 440,319.3 439,320.8 438,321.6 437,322.9 436,324.1 435,325.9 434,326.7 433,327.8 432,329.5 431,331.4 430,332.0 429,333.0 428,336.1 427,337.3 426,336.1 425,338.1 424,342.2 423,341.2 422,342.4 421,343.6 420,346.3 419,347.9 418,346.7 417,347.7 416,349.2 415,350.6 414,351.4 413,355.3 412,354.1 411,355.7 410,357.5 409,358.7 408,360.5 407,363.5 406,363.4 405,364.8 404,366.5 403,367.6 402,369.1 401,370.3 400,371.8 399,374.8 398,374.9 397,376.6 396,377.9 395,379.0 394,379.5 393,381.0 392,383.7 391,383.9 390,387.5 389,387.0 388,391.0 387,392.1 386,391.3 385,396.7 384,395.1 383,396.1 382,396.7 381,398.1 380,400.0 379,402.0 378,403.8 377,405.4 376,406.1 375,406.9 374,408.5 373,410.6 372,412.6 371,414.3 370,415.2 369,419.7 368,418.2 367,420.1 366,425.4 365,423.8 364,425.6 363,426.5 362,427.4 361,429.1 360,433.2 359,433.0 358,434.3 357,435.3 356,437.2 355,441.3 354,441.2 353,445.3 352,444.4 351,445.6 350,449.6 349,448.8 348,450.5 347,452.8 346,455.6 345,453.6 344,455.6 343,458.3 342,460.1 341,460.9 340,461.8 339,463.0 338,464.9 337,467.1 336,469.7 335,472.6 334,473.0 333,473.6 332,478.4 331,476.8 330,478.2 329,479.4 328,480.8 327,483.1 326,484.2 325,487.3 324,485.4 323,487.5 322,493.0 321,492.6 320,494.9 319,496.7 318,498.0 317,499.1 316,502.3 315,502.7 314,504.6 313,506.7 312,508.5 311,509.3 310,510.9 309,515.9 308,514.5 307,515.5 306,517.1 305,518.5 304,520.9 303,523.2 302,524.9 301,527.0 300,532.0 299,531.9 298,532.7 297,533.6 296,534.8 295,536.8 294,538.4 293,539.4 292,540.5 291,544.2 290,544.5 289,548.5 288,547.7 287,548.6 286,550.2 285,550.7 284,556.8 283,555.8 282,558.4 281,561.7 280,561.9 279,563.4 278,564.8 277,565.9 276,567.0 275,568.6 274,569.9 273,571.5 272,574.6 271,574.8 270,577.0 269,578.6 268,579.8 267,580.8 266,582.5 265,586.1 264,585.5 263,586.9 262,592.0 261,591.0 260,592.4 259,593.4 258,596.5 257,597.3 256,599.9 255,602.0 254,604.5 253,606.4 252,605.9 251,607.4 250,608.6 249,610.8 248,614.6 247,614.5 246,613.6 245,615.9 244,619.7 243,619.8 242,621.5 241,625.0 240,624.1 239,625.6 238,627.6 237,629.9 236,631.2 235,632.1 234,633.5 233,635.3 232,637.1 231,638.3 230,639.3 229,640.0 228,641.6 227,644.5 226,643.6 225,644.7 224,646.8 223,649.7 222,652.3 221,649.5 220,650.8 219,652.2 218,656.3 217,654.6 216,655.6 215,656.9 214,658.4 213,660.1 212,662.2 211,664.1 210,665.5 209,666.6 208,667.8 207,668.6 206,669.4 205,670.4 204,673.5 203,674.3 202,674.1 201,675.5 200,676.1 199,677.4 198,678.1 197,678.6 196,680.8 195,680.2 194,682.5 193,683.7 192,684.5 191,685.7 190,688.3 189,690.8 188,692.7 187,694.2 186,695.6 185,697.6 184,699.1 183,700.2 182,703.9 181,702.2 180,702.7 179,702.7 178,706.6 177,704.8 176,709.3 175,706.8 174,708.6 173,710.6 172,712.2 171,713.3 170,718.0 169,716.3 168,720.8 167,720.5 166,722.5 165,726.8 164,726.3 163,727.4 162,728.4 161,729.5 160,729.5"/><rect x="164" y="713.6" width="4" height="13.2"/><rect x="170" y="703.8" width="4" height="11.9"/><rect x="176" y="697.8" width="4" height="12.2"/><rect x="181" y="695.7" width="4" height="17.5"/><rect x="191" y="678.3" width="4" height="10.6"/><rect x="208" y="659.7" width="4" height="16.3"/><rect x="218" y="645.1" width="4" height="10.4"/><rect x="224" y="638.6" width="4" height="15.1"/><rect x="231" y="629.8" width="4" height="13.3"/><rect x="242" y="612.3" width="4" height="18.7"/><rect x="253" y="595.5" width="4" height="11.1"/><rect x="262" y="579.6" width="4" height="16.7"/><rect x="274" y="562.1" width="4" height="11.1"/><rect x="286" y="541.8" width="4" height="16.4"/><rect x="295" y="527.2" width="4" height="11.9"/><rect x="310" y="502.2" width="4" height="16.8"/><rect x="323" y="479.3" width="4" height="12.4"/><rect x="340" y="453.6" width="4" height="18.3"/><rect x="349" y="439.3" width="4" height="11.4"/><rect x="366" y="412.9" width="4" height="14.5"/><rect x="382" y="388.9" width="4" height="11.0"/><rect x="396" y="369.5" width="4" height="17.8"/><rect x="414" y="344.5" width="4" height="15.3"/><rect x="425" y="330.0" width="4" height="13.7"/><rect x="438" y="314.4" width="4" height="8.0"/><rect x="452" y="297.6" width="4" height="13.2"/><rect x="459" y="288.9" width="4" height="10.6"/><rect x="467" y="280.1" width="4" height="10.3"/><rect x="482" y="265.6" width="4" height="7.7"/><rect x="500" y="247.5" width="4" height="11.1"/><rect x="515" y="234.4" width="4" height="9.3"/><rect x="524" y="226.5" width="4" height="9.3"/><rect x="550" y="207.8" width="4" height="8.2"/></g>
<g fill="#FF00FF" shape-rendering="crispEdges"><polygon points="160,661.1 161,661.1 162,659.1 163,658.2 164,657.4 165,655.6 166,652.9 167,650.8 168,649.1 169,647.9 170,647.0 171,646.3 172,644.5 173,642.8 174,640.9 175,639.2 176,637.5 177,636.4 178,635.8 179,634.6 180,632.9 181,631.4 182,630.4 183,629.6 184,628.4 185,627.2 186,626.0 187,624.9 188,623.5 189,621.6 190,619.7 191,617.5 192,615.6 193,614.1 194,612.9 195,611.8 196,611.0 197,610.4 198,609.1 199,607.6 200,605.7 201,604.3 202,601.7 203,599.2 204,596.9 205,595.0 206,593.6 207,591.6 208,590.2 209,588.1 210,587.0 211,585.4 212,584.4 213,582.3 214,580.9 215,579.3 216,578.7 217,577.6 218,575.6 219,573.6 220,572.3 221,571.1 222,569.0 223,566.7 224,565.1 225,564.1 226,562.7 227,561.0 228,558.8 229,557.3 230,555.7 231,554.2 232,552.7 233,551.0 234,549.5 235,547.4 236,545.9 237,544.3 238,542.5 239,541.2 240,539.3 241,537.5 242,535.7 243,534.8 244,533.0 245,531.6 246,530.0 247,529.1 248,527.1 249,524.9 250,522.8 251,521.5 252,520.8 253,519.0 254,517.1 255,514.9 256,512.9 257,511.0 258,509.5 259,508.4 260,507.1 261,505.3 262,502.9 263,500.3 264,498.8 265,497.9 266,496.3 267,494.0 268,492.3 269,491.1 270,489.5 271,487.7 272,485.9 273,484.3 274,482.3 275,480.4 276,478.8 277,477.6 278,476.1 279,474.3 280,472.3 281,470.6 282,469.1 283,468.0 284,466.0 285,464.2 286,462.3 287,460.5 288,458.5 289,456.8 290,454.9 291,452.7 292,450.6 293,449.3 294,448.2 295,446.8 296,444.8 297,443.1 298,441.3 299,439.3 300,437.5 301,436.1 302,434.1 303,432.2 304,430.1 305,428.3 306,425.7 307,423.9 308,422.7 309,421.4 310,420.1 311,418.6 312,417.0 313,415.1 314,413.5 315,412.4 316,411.4 317,410.1 318,408.4 319,406.3 320,404.3 321,402.6 322,401.1 323,399.1 324,397.8 325,396.7 326,395.2 327,393.0 328,391.5 329,389.9 330,388.2 331,386.5 332,384.7 333,383.4 334,381.8 335,380.6 336,378.9 337,377.7 338,376.2 339,375.2 340,373.3 341,371.4 342,369.9 343,368.3 344,366.3 345,364.5 346,363.7 347,362.2 348,361.1 349,359.2 350,357.5 351,356.1 352,355.0 353,353.0 354,351.4 355,350.4 356,349.6 357,348.4 358,347.3 359,345.6 360,343.7 361,342.3 362,341.2 363,340.1 364,338.5 365,336.6 366,334.9 367,332.9 368,331.1 369,329.4 370,328.8 371,327.8 372,326.5 373,325.0 374,323.7 375,322.0 376,320.3 377,319.1 378,318.4 379,316.9 380,315.1 381,313.4 382,311.8 383,310.7 384,309.6 385,309.1 386,307.6 387,306.5 388,305.3 389,303.8 390,302.0 391,300.5 392,299.7 393,298.6 394,297.9 395,296.9 396,295.2 397,293.5 398,292.1 399,291.1 400,289.2 401,287.7 402,285.9 403,284.6 404,283.0 405,281.9 406,280.4 407,279.1 408,278.2 409,277.3 410,275.9 411,274.2 412,272.7 413,271.4 414,270.8 415,270.3 416,269.2 417,267.9 418,266.9 419,266.6 420,265.8 421,264.5 422,263.0 423,261.8 424,260.7 425,259.6 426,258.3 427,256.5 428,254.9 429,253.7 430,253.1 431,252.5 432,251.7 433,250.3 434,248.8 435,247.6 436,246.6 437,246.0 438,244.7 439,243.5 440,242.3 441,241.3 442,240.1 443,239.4 444,239.1 445,238.5 446,237.3 447,235.9 448,235.0 449,233.7 450,232.5 451,231.5 452,231.0 453,229.8 454,228.4 455,226.6 456,225.3 457,224.0 458,223.0 459,222.2 460,221.3 461,220.0 462,218.3 463,217.2 464,216.3 465,215.6 466,214.8 467,214.4 468,213.8 469,212.9 470,211.5 471,210.1 472,209.2 473,208.8 474,208.2 475,207.2 476,206.5 477,205.3 478,204.1 479,203.6 480,203.8 481,202.8 482,200.9 483,199.9 484,199.5 485,198.7 486,197.6 487,197.1 488,196.5 489,195.3 490,193.7 491,192.4 492,192.0 493,191.2 494,190.5 495,189.9 496,189.7 497,188.6 498,187.5 499,187.0 500,186.0 501,184.7 502,183.3 503,182.4 504,181.9 505,181.5 506,180.6 507,179.9 508,178.9 509,178.6 510,178.2 511,178.1 512,177.1 513,176.3 514,175.3 515,174.7 516,173.6 517,172.6 518,171.3 519,170.8 520,170.0 521,169.0 522,168.1 523,167.6 524,167.2 525,166.1 526,165.3 527,165.1 528,165.2 529,164.9 530,163.8 531,162.7 532,161.2 533,160.4 534,160.3 535,160.5 536,159.5 537,158.6 538,157.9 539,157.8 540,157.0 541,156.2 542,155.4 543,155.3 544,154.7 545,154.1 546,153.9 547,154.1 548,153.4 549,152.1 550,151.6 551,151.3 552,150.5 553,149.7 554,149.3 555,149.3 556,148.3 557,147.7 558,147.0 559,147.2 560,146.9 561,146.1 562,145.1 563,144.2 564,144.2 565,143.7 566,143.1 567,142.3 568,141.8 569,141.4 570,141.2 571,141.1 572,140.5 573,140.1 574,139.7 575,139.0 576,138.5 577,138.4 578,137.5 579,136.1 580,135.7 581,136.2 582,136.6 583,136.1 584,135.7 585,135.4 586,135.4 587,134.6 588,133.9 589,132.8 590,132.7 591,132.2 592,132.3 593,131.2 594,131.1 595,131.0 596,130.6 597,129.8 598,129.0 599,128.9 600,128.6 601,128.8 602,127.9 603,127.6 604,127.3 605,127.5 606,126.8 607,126.9 608,126.9 609,126.5 610,125.9 611,125.1 612,125.1 613,125.4 614,125.2 615,124.3 616,124.1 617,123.9 618,122.9 619,122.5 620,122.6 621,122.8 622,122.1 623,122.1 624,122.2 625,122.3 626,121.8 627,121.9 628,122.4 629,122.5 630,122.3 631,122.2 632,121.9 633,121.6 634,121.3 635,121.0 636,120.4 637,120.2 638,119.7 639,119.4 640,118.7 641,118.9 642,119.3 643,119.5 644,119.0 645,119.0 646,119.4 647,119.8 648,119.4 649,118.7 650,117.8 651,118.2 652,118.5 653,119.0 654,119.1 655,119.6 656,118.7 657,118.2 658,118.4 659,118.6 660,118.4 661,117.8 662,117.6 663,117.8 664,117.9 665,118.2 666,117.7 667,118.1 668,117.6 669,118.1 670,117.8 671,117.8 672,117.4 673,118.0 674,118.4 675,118.9 676,118.4 677,117.8 678,117.9 679,118.8 680,119.0 681,118.4 682,118.1 683,118.7 684,118.7 685,118.4 686,117.8 687,118.3 688,118.5 689,118.5 690,119.2 691,119.6 692,119.8 693,119.2 694,119.4 695,119.9 696,120.2 697,119.9 698,119.9 699,120.8 700,121.5 701,121.4 702,121.4 703,121.6 704,121.8 705,121.3 706,120.8 707,120.8 708,121.7 709,122.8 710,123.0 711,122.3 712,122.3 713,123.1 714,123.3 715,123.7 716,123.8 717,124.7 718,125.1 719,125.6 720,125.7 721,126.1 722,126.6 723,126.4 724,126.1 725,126.0 726,126.1 727,126.6 728,127.3 729,127.6 730,127.6 731,128.1 732,128.5 733,128.8 734,129.2 735,130.3 736,130.8 737,131.2 738,131.0 739,130.6 740,131.0 741,132.1 742,132.4 743,132.2 744,132.7 745,133.5 746,134.2 747,134.7 748,135.2 749,135.2 750,135.4 751,135.4 752,135.3 753,135.3 754,136.1 755,136.5 756,137.0 757,137.3 758,138.5 759,139.9 760,140.5 761,140.3 762,140.7 763,141.2 764,141.8 765,142.4 766,143.3 767,143.3 768,143.3 769,143.9 770,144.8 771,144.9 772,145.5 773,145.8 774,146.5 775,147.2 776,148.2 777,148.4 778,148.6 779,148.7 780,149.4 781,150.2 782,150.7 783,151.2 784,152.3 785,152.8 786,152.5 787,152.4 788,153.4 789,154.1 790,155.0 791,155.2 792,156.4 793,157.2 794,157.7 795,157.4 796,158.5 797,159.9 798,161.0 799,161.6 800,161.8 801,161.8 802,161.8 803,162.8 804,164.0 805,165.3 806,165.8 807,166.2 808,166.7 809,167.8 810,168.1 811,168.4 812,168.4 813,169.7 814,170.8 815,172.1 816,172.7 817,173.5 818,173.6 819,174.1 820,174.9 821,176.2 822,176.8 823,177.8 824,178.1 825,178.2 826,178.7 827,180.0 828,181.6 829,182.6 830,183.1 831,183.5 832,184.4 833,185.7 834,186.8 835,187.3 836,187.7 837,187.8 838,188.4 839,189.1 840,190.5 841,192.1 842,193.3 843,193.7 844,194.7 845,195.9 846,196.2 847,195.8 848,196.1 849,197.6 850,198.8 851,199.4 852,199.8 853,201.2 854,202.7 855,203.8 856,204.2 857,204.8 858,205.6 859,206.9 860,208.0 861,208.9 862,209.5 863,210.0 864,210.1 865,211.0 866,212.4 867,213.4 868,214.3 869,215.8 870,217.3 871,218.2 872,218.7 873,219.4 874,220.4 875,221.1 876,221.7 877,222.4 878,223.9 879,224.5 880,225.0 881,225.5 882,226.9 883,228.4 884,229.5 885,230.5 886,231.5 887,232.3 888,233.4 889,234.7 890,235.3 891,235.4 892,235.9 893,237.4 894,239.1 895,240.5 896,241.4 897,242.0 898,242.8 899,243.3 900,244.2 901,244.6 902,245.6 903,247.1 904,248.5 905,249.7 906,250.5 907,251.1 908,251.6 909,252.6 910,254.2 911,255.8 912,257.2 913,257.7 914,258.1 915,259.1 916,260.3 917,261.3 918,261.8 919,262.7 920,264.4 921,266.2 922,268.0 923,268.7 924,269.1 925,269.8 926,271.0 927,272.6 928,274.0 929,275.3 930,275.9 931,277.2 932,278.7 933,279.5 934,280.5 935,281.2 936,282.6 937,283.1 938,284.4 939,285.6 940,287.4 941,288.9 942,289.2 943,290.1 944,290.8 945,292.6 946,293.7 947,295.5 948,296.0 949,297.1 950,297.9 951,299.0 952,300.2 953,301.5 954,302.6 955,303.2 956,304.2 957,305.4 958,307.1 959,309.0 960,310.7 961,311.5 962,312.4 963,313.1 964,313.9 965,314.4 966,315.3 967,316.4 968,317.9 969,319.5 970,321.2 971,322.5 972,323.5 973,325.1 974,326.8 975,328.1 976,329.3 977,331.0 978,332.7 979,333.6 980,334.5 981,335.2 982,336.1 983,337.1 984,338.0 985,339.2 986,340.5 987,342.2 988,343.6 989,345.3 990,346.2 991,347.6 992,349.2 993,350.1 994,350.4 995,351.3 996,352.7 997,354.1 998,355.7 999,356.8 1000,357.4 1001,358.3 1002,359.9 1003,361.9 1004,363.4 1005,364.9 1006,366.1 1007,367.6 1008,368.3 1009,369.4 1010,370.9 1011,373.0 1012,374.4 1013,374.9 1014,376.1 1015,377.4 1016,378.9 1017,379.5 1018,380.5 1019,381.8 1020,383.2 1021,384.9 1022,386.5 1023,387.9 1024,388.7 1025,389.9 1026,391.8 1027,393.0 1028,394.2 1029,395.0 1030,396.9 1031,398.6 1032,400.2 1033,400.9 1034,401.5 1035,402.5 1036,403.7 1037,405.4 1038,406.9 1039,408.4 1040,409.4 1041,410.6 1042,412.1 1043,414.3 1044,415.8 1045,417.2 1046,418.6 1047,419.6 1048,420.1 1049,420.7 1050,422.5 1051,424.5 1052,426.3 1053,427.4 1054,428.3 1055,429.2 1056,430.0 1057,431.5 1058,433.4 1059,435.4 1060,436.5 1061,437.5 1062,439.1 1063,441.1 1064,442.7 1065,444.1 1066,445.4 1067,446.1 1068,447.4 1069,448.8 1070,450.6 1071,451.5 1072,453.0 1073,453.8 1074,455.1 1075,455.9 1076,457.1 1077,458.3 1078,459.8 1079,461.6 1080,463.1 1081,465.1 1082,467.0 1083,469.0 1084,470.0 1085,471.0 1086,471.7 1087,472.8 1088,473.7 1089,475.2 1090,476.1 1091,476.9 1092,478.2 1093,480.6 1094,482.6 1095,484.1 1096,484.9 1097,486.3 1098,487.3 1099,488.6 1100,489.3 1101,490.7 1102,492.9 1103,494.9 1104,497.0 1105,497.9 1106,498.8 1107,500.2 1108,501.9 1109,503.1 1110,504.0 1111,505.7 1112,507.5 1113,509.0 1114,510.1 1115,511.1 1116,512.4 1117,513.8 1118,515.0 1119,515.8 1120,516.5 1121,517.5 1122,518.9 1123,520.8 1124,522.6 1125,523.9 1126,524.9 1127,526.3 1128,528.4 1129,530.1 1130,531.9 1131,532.9 1132,534.7 1133,536.3 1134,538.2 1135,539.0 1136,540.4 1137,541.6 1138,543.0 1139,543.5 1140,544.1 1141,545.0 1142,547.0 1143,548.8 1144,550.1 1145,551.6 1146,553.7 1147,555.7 1148,557.0 1149,558.3 1150,559.8 1151,560.9 1152,562.0 1153,563.5 1154,565.0 1155,566.1 1156,567.3 1157,568.5 1158,569.8 1159,571.2 1160,572.5 1161,573.8 1162,574.7 1163,575.2 1164,575.9 1165,578.0 1166,580.3 1167,581.9 1168,583.3 1169,584.6 1170,586.1 1171,587.6 1172,588.5 1173,589.7 1174,590.2 1175,591.5 1176,592.7 1177,595.0 1178,596.7 1179,598.0 1180,599.0 1181,600.7 1182,601.8 1183,603.0 1184,603.6 1185,604.0 1186,604.2 1187,605.2 1188,606.5 1189,608.6 1190,610.7 1191,612.9 1192,613.9 1193,615.8 1194,617.0 1195,618.1 1196,618.6 1197,619.9 1198,621.2 1199,622.6 1200,624.4 1201,625.9 1202,626.8 1203,628.2 1204,630.4 1205,631.9 1206,632.9 1207,633.8 1208,635.0 1209,635.4 1210,636.5 1211,637.3 1212,638.7 1213,639.5 1214,641.1 1215,642.2 1216,643.5 1217,644.3 1218,645.6 1219,646.4 1220,647.5 1221,648.6 1222,650.6 1223,652.4 1224,653.9 1225,654.8 1226,656.0 1227,658.0 1228,660.3 1229,661.4 1230,662.4 1231,663.2 1232,664.7 1233,665.8 1234,666.5 1235,665.9 1236,665.0 1237,666.2 1238,667.5 1239,668.9 1240,669.2 1241,670.7 1242,672.0 1243,673.2 1244,673.9 1245,675.1 1246,677.2 1247,678.8 1248,679.7 1249,680.3 1250,682.5 1251,684.4 1252,685.6 1253,685.3 1254,685.5 1255,686.4 1256,687.7 1257,689.3 1258,691.1 1259,692.5 1260,693.6 1261,695.4 1262,697.6 1263,699.4 1264,700.5 1265,701.1 1266,701.7 1267,702.3 1268,703.5 1269,704.1 1270,705.1 1271,706.7 1272,708.3 1273,708.6 1274,708.5 1275,709.2 1276,709.6 1277,709.8 1278,710.2 1279,711.7 1280,713.8 1281,716.0 1282,717.6 1283,718.8 1284,719.8 1285,720.9 1286,722.4 1287,724.2 1288,725.0 1289,725.7 1290,726.2 1291,727.4 1292,728.3 1293,729.2 1294,730.1 1295,731.0 1296,731.7 1297,732.4 1298,734.3 1299,736.1 1300,737.4 1301,738.7 1302,740.1 1303,741.7 1304,743.2 1305,744.6 1306,745.3 1307,745.8 1308,745.8 1309,746.7 1310,748.4 1311,750.3 1312,750.6 1313,751.3 1314,752.3 1315,754.5 1316,756.1 1317,757.4 1318,758.2 1319,758.6 1320,759.2 1321,760.0 1322,760.5 1323,761.0 1324,762.2 1325,764.6 1326,766.3 1327,767.5 1328,769.0 1329,770.1 1330,770.3 1331,769.0 1332,769.3 1333,770.4 1334,772.2 1335,773.1 1336,774.7 1337,777.2 1338,779.6 1339,781.3 1340,781.3 1340,792.6 1339,792.6 1338,789.9 1337,787.0 1336,785.4 1335,783.6 1334,782.4 1333,780.8 1332,780.9 1331,781.4 1330,782.4 1329,781.6 1328,780.1 1327,778.1 1326,777.2 1325,776.1 1324,774.3 1323,772.0 1322,770.1 1321,769.3 1320,769.3 1319,769.5 1318,769.0 1317,768.7 1316,767.3 1315,765.7 1314,763.6 1313,762.3 1312,760.9 1311,759.5 1310,757.5 1309,756.1 1308,755.5 1307,755.3 1306,755.3 1305,754.7 1304,753.9 1303,752.0 1302,750.4 1301,748.5 1300,747.9 1299,746.6 1298,745.0 1297,743.4 1296,742.7 1295,741.9 1294,741.1 1293,739.8 1292,738.3 1291,737.5 1290,737.4 1289,736.7 1288,735.4 1287,734.6 1286,733.7 1285,732.4 1284,730.1 1283,729.1 1282,728.1 1281,726.8 1280,723.7 1279,722.0 1278,721.0 1277,719.9 1276,718.3 1275,718.1 1274,718.1 1273,718.0 1272,716.9 1271,716.1 1270,714.8 1269,714.0 1268,713.4 1267,713.1 1266,712.5 1265,711.3 1264,710.0 1263,709.4 1262,708.6 1261,707.2 1260,704.1 1259,701.2 1258,698.8 1257,697.6 1256,696.4 1255,696.0 1254,696.0 1253,695.8 1252,695.4 1251,693.9 1250,692.3 1249,690.8 1248,689.9 1247,688.7 1246,686.0 1245,684.4 1244,683.2 1243,682.8 1242,681.1 1241,680.1 1240,679.5 1239,678.6 1238,676.7 1237,675.4 1236,675.4 1235,675.5 1234,675.5 1233,674.9 1232,674.3 1231,673.4 1230,672.2 1229,670.5 1228,669.0 1227,667.3 1226,665.4 1225,663.2 1224,662.2 1223,661.2 1222,660.5 1221,658.1 1220,656.2 1219,655.5 1218,655.4 1217,654.7 1216,652.9 1215,651.8 1214,650.5 1213,648.9 1212,647.6 1211,646.9 1210,645.8 1209,644.1 1208,643.2 1207,642.9 1206,641.9 1205,640.5 1204,639.8 1203,638.9 1202,637.4 1201,635.4 1200,633.3 1199,631.2 1198,630.1 1197,630.0 1196,629.2 1195,627.7 1194,626.1 1193,625.3 1192,624.2 1191,622.1 1190,619.4 1189,618.0 1188,617.1 1187,616.5 1186,615.3 1185,614.3 1184,612.9 1183,612.2 1182,611.6 1181,610.5 1180,609.5 1179,608.4 1178,607.1 1177,605.0 1176,603.4 1175,601.1 1174,599.9 1173,599.3 1172,598.4 1171,597.5 1170,596.7 1169,596.2 1168,594.7 1167,592.4 1166,589.8 1165,587.7 1164,586.8 1163,585.7 1162,584.5 1161,583.4 1160,582.9 1159,581.4 1158,580.1 1157,578.8 1156,577.6 1155,576.2 1154,574.7 1153,573.3 1152,572.0 1151,570.6 1150,569.4 1149,567.5 1148,566.1 1147,564.3 1146,563.5 1145,562.5 1144,560.8 1143,558.7 1142,557.1 1141,556.0 1140,554.9 1139,554.3 1138,553.3 1137,551.8 1136,549.9 1135,549.1 1134,547.9 1133,546.2 1132,544.3 1131,542.6 1130,541.6 1129,540.5 1128,539.6 1127,538.0 1126,536.6 1125,535.3 1124,533.2 1123,531.3 1122,529.7 1121,528.5 1120,527.3 1119,526.5 1118,525.4 1117,523.8 1116,522.1 1115,521.1 1114,519.8 1113,518.2 1112,516.4 1111,515.4 1110,514.7 1109,514.0 1108,512.6 1107,511.0 1106,509.0 1105,507.9 1104,506.5 1103,504.7 1102,503.5 1101,502.5 1100,501.0 1099,499.4 1098,498.2 1097,496.8 1096,494.9 1095,493.6 1094,492.7 1093,491.4 1092,489.2 1091,487.5 1090,486.3 1089,485.5 1088,484.9 1087,483.7 1086,482.4 1085,481.0 1084,480.1 1083,478.9 1082,477.8 1081,476.1 1080,474.0 1079,472.6 1078,471.7 1077,470.6 1076,468.8 1075,467.6 1074,466.0 1073,464.5 1072,463.1 1071,461.8 1070,459.8 1069,457.7 1068,456.3 1067,455.7 1066,454.7 1065,453.1 1064,450.9 1063,449.7 1062,448.9 1061,447.6 1060,445.7 1059,444.5 1058,443.9 1057,442.5 1056,441.0 1055,439.4 1054,438.4 1053,437.5 1052,436.4 1051,435.3 1050,434.4 1049,433.8 1048,431.8 1047,429.6 1046,427.5 1045,426.6 1044,425.6 1043,424.6 1042,423.1 1041,421.9 1040,420.1 1039,418.6 1038,417.8 1037,416.8 1036,415.4 1035,413.9 1034,412.8 1033,411.8 1032,410.5 1031,409.1 1030,407.1 1029,405.6 1028,404.8 1027,404.3 1026,402.8 1025,401.5 1024,400.7 1023,399.6 1022,397.9 1021,396.4 1020,395.6 1019,394.7 1018,393.0 1017,391.4 1016,390.2 1015,389.0 1014,387.1 1013,386.0 1012,384.8 1011,383.1 1010,381.6 1009,380.7 1008,379.7 1007,378.5 1006,377.1 1005,375.7 1004,374.2 1003,372.9 1002,371.4 1001,370.9 1000,369.8 999,368.6 998,367.2 997,365.8 996,364.7 995,363.4 994,362.2 993,360.7 992,359.5 991,358.6 990,357.8 989,356.9 988,354.9 987,352.8 986,351.4 985,350.7 984,350.1 983,348.6 982,347.0 981,345.2 980,344.6 979,343.6 978,342.8 977,341.8 976,341.0 975,339.3 974,338.1 973,336.9 972,335.8 971,334.5 970,333.5 969,331.9 968,330.3 967,328.6 966,328.0 965,327.0 964,325.7 963,324.4 962,323.8 961,323.3 960,322.2 959,321.5 958,320.1 957,319.1 956,317.0 955,315.7 954,314.4 953,313.9 952,313.0 951,311.7 950,310.6 949,309.0 948,307.8 947,306.5 946,306.0 945,305.0 944,303.9 943,302.5 942,301.6 941,300.5 940,299.4 939,297.8 938,296.0 937,294.8 936,294.0 935,293.1 934,292.0 933,290.7 932,289.4 931,288.3 930,287.1 929,286.0 928,285.4 927,284.9 926,283.3 925,281.9 924,281.3 923,280.9 922,279.4 921,278.1 920,276.8 919,276.2 918,274.6 917,273.8 916,272.4 915,271.4 914,269.8 913,269.2 912,268.8 911,268.4 910,266.9 909,264.7 908,263.3 907,263.1 906,262.8 905,262.1 904,261.2 903,259.8 902,258.1 901,256.7 900,255.9 899,254.6 898,254.1 897,253.8 896,253.3 895,251.8 894,250.9 893,250.0 892,249.4 891,248.1 890,247.4 889,246.0 888,244.9 887,243.8 886,243.3 885,242.1 884,240.5 883,238.9 882,237.6 881,236.3 880,235.5 879,234.7 878,234.0 877,233.6 876,233.5 875,232.9 874,232.1 873,230.8 872,229.9 871,228.9 870,228.1 869,227.4 868,226.3 867,225.2 866,223.6 865,222.8 864,222.6 863,221.9 862,220.7 861,219.2 860,218.9 859,219.0 858,218.7 857,217.5 856,216.2 855,214.5 854,213.4 853,213.0 852,212.5 851,211.6 850,210.6 849,209.7 848,208.3 847,207.1 846,206.6 845,206.2 844,206.2 843,205.5 842,204.8 841,203.5 840,202.8 839,202.1 838,201.2 837,199.6 836,198.7 835,198.0 834,197.7 833,196.9 832,196.2 831,194.7 830,193.4 829,192.7 828,191.8 827,190.6 826,189.7 825,189.6 824,189.2 823,188.5 822,187.5 821,186.8 820,185.9 819,185.6 818,185.3 817,184.6 816,183.7 815,182.6 814,182.0 813,181.4 812,180.5 811,179.7 810,178.7 809,178.7 808,177.7 807,176.8 806,175.3 805,174.8 804,174.4 803,174.2 802,174.0 801,173.8 800,173.5 799,173.0 798,172.0 797,170.5 796,169.1 795,168.8 794,168.3 793,167.8 792,166.7 791,166.8 790,167.0 789,166.7 788,165.1 787,164.2 786,163.6 785,163.2 784,161.9 783,161.5 782,160.9 781,160.9 780,160.2 779,160.1 778,159.3 777,159.3 776,158.8 775,158.4 774,156.9 773,155.4 772,154.4 771,154.5 770,154.5 769,153.8 768,152.8 767,152.9 766,152.8 765,152.9 764,151.9 763,151.6 762,150.3 761,150.1 760,149.8 759,149.8 758,148.8 757,147.5 756,146.7 755,146.3 754,146.0 753,146.1 752,146.4 751,146.5 750,146.1 749,145.8 748,145.6 747,144.5 746,142.9 745,142.5 744,142.7 743,142.3 742,141.5 741,141.0 740,140.5 739,139.8 738,139.7 737,139.7 736,139.8 735,139.0 734,138.4 733,138.3 732,138.9 731,139.1 730,138.7 729,138.0 728,137.6 727,136.9 726,136.0 725,135.3 724,135.7 723,136.0 722,135.3 721,134.4 720,133.9 719,133.9 718,133.3 717,132.6 716,132.0 715,132.3 714,132.3 713,132.5 712,131.8 711,131.7 710,130.9 709,130.9 708,131.0 707,131.5 706,131.2 705,130.5 704,129.9 703,129.7 702,129.5 701,129.2 700,129.0 699,129.1 698,128.6 697,128.2 696,128.2 695,128.3 694,128.1 693,128.3 692,129.0 691,129.3 690,129.2 689,129.0 688,128.6 687,128.1 686,127.2 685,126.8 684,126.4 683,126.6 682,126.5 681,126.6 680,126.8 679,126.7 678,126.9 677,127.0 676,126.7 675,126.0 674,125.9 673,125.9 672,125.8 671,126.2 670,126.5 669,126.1 668,125.8 667,125.9 666,126.3 665,126.8 664,127.0 663,126.3 662,125.6 661,125.5 660,125.7 659,125.7 658,125.3 657,125.5 656,126.4 655,126.7 654,126.4 653,126.6 652,126.8 651,126.7 650,126.6 649,127.6 648,127.5 647,127.4 646,127.2 645,127.1 644,126.8 643,126.6 642,127.3 641,127.8 640,128.6 639,128.6 638,128.9 637,129.2 636,129.2 635,128.5 634,128.8 633,129.0 632,129.0 631,128.4 630,128.5 629,128.8 628,129.0 627,129.3 626,129.6 625,130.0 624,130.1 623,130.1 622,130.0 621,130.6 620,131.5 619,132.2 618,131.9 617,132.3 616,133.0 615,133.5 614,133.2 613,132.9 612,132.9 611,132.8 610,133.2 609,133.4 608,133.9 607,134.5 606,134.9 605,135.3 604,135.9 603,136.1 602,136.1 601,136.3 600,136.9 599,136.7 598,137.6 597,139.2 596,139.3 595,140.2 594,139.7 593,139.5 592,140.3 591,139.2 590,140.3 589,141.5 588,142.6 587,142.5 586,143.0 585,143.5 584,144.0 583,143.6 582,143.2 581,143.2 580,144.6 579,144.0 578,145.0 577,145.6 576,145.7 575,146.2 574,148.6 573,148.5 572,149.1 571,149.4 570,150.1 569,151.3 568,150.6 567,150.8 566,151.0 565,151.6 564,151.8 563,152.5 562,152.9 561,154.0 560,155.0 559,155.6 558,155.3 557,155.8 556,156.1 555,156.6 554,158.7 553,159.2 552,160.0 551,160.4 550,161.2 549,162.0 548,161.9 547,161.6 546,162.2 545,162.9 544,163.2 543,163.2 542,164.5 541,165.6 540,168.2 539,166.5 538,166.5 537,166.5 536,166.9 535,167.6 534,168.7 533,172.0 532,171.8 531,172.3 530,174.9 529,173.4 528,174.3 527,174.3 526,174.4 525,175.1 524,176.7 523,179.7 522,178.8 521,179.4 520,179.6 519,179.7 518,179.9 517,181.1 516,181.9 515,182.2 514,183.7 513,182.9 512,183.6 511,185.3 510,186.8 509,188.1 508,189.8 507,189.3 506,190.2 505,190.8 504,191.0 503,191.3 502,192.4 501,193.3 500,195.0 499,198.8 498,199.4 497,198.2 496,198.3 495,198.4 494,199.5 493,200.6 492,202.1 491,203.0 490,203.9 489,204.4 488,204.7 487,204.9 486,205.9 485,207.2 484,211.3 483,211.5 482,210.2 481,211.6 480,215.7 479,212.9 478,213.6 477,218.0 476,215.7 475,219.8 474,217.3 473,218.4 472,220.7 471,220.3 470,221.1 469,221.9 468,222.9 467,224.4 466,226.0 465,226.8 464,227.2 463,227.4 462,228.4 461,229.8 460,231.2 459,232.5 458,235.3 457,236.9 456,236.8 455,236.7 454,237.8 453,242.2 452,240.2 451,241.4 450,242.0 449,243.0 448,243.8 447,246.8 446,246.2 445,247.2 444,251.1 443,249.5 442,250.4 441,251.7 440,251.1 439,254.4 438,254.9 437,256.3 436,256.8 435,257.6 434,258.7 433,260.1 432,260.6 431,261.5 430,262.6 429,264.0 428,264.9 427,266.2 426,267.9 425,269.2 424,272.8 423,272.1 422,274.8 421,277.1 420,274.7 419,275.7 418,277.1 417,278.4 416,279.2 415,280.0 414,281.5 413,283.2 412,285.1 411,286.1 410,286.6 409,286.9 408,287.8 407,289.9 406,291.7 405,293.0 404,293.6 403,294.4 402,295.9 401,297.7 400,299.2 399,300.7 398,302.1 397,303.3 396,305.2 395,305.5 394,306.6 393,311.8 392,309.9 391,311.8 390,312.7 389,314.3 388,315.4 387,316.9 386,317.6 385,318.8 384,320.5 383,322.1 382,323.0 381,323.7 380,325.6 379,327.5 378,329.3 377,330.1 376,331.5 375,333.2 374,334.4 373,335.0 372,335.7 371,337.6 370,339.6 369,341.4 368,344.4 367,343.7 366,344.8 365,346.2 364,347.4 363,349.8 362,354.6 361,353.4 360,354.2 359,355.7 358,357.1 357,358.6 356,359.7 355,360.9 354,362.5 353,364.6 352,366.7 351,368.3 350,369.0 349,370.2 348,372.0 347,373.8 346,375.0 345,376.4 344,377.9 343,379.8 342,381.1 341,382.8 340,384.1 339,385.6 338,386.9 337,388.9 336,391.4 335,393.4 334,394.2 333,395.4 332,396.4 331,398.0 330,399.2 329,401.2 328,402.9 327,405.2 326,407.3 325,411.5 324,410.7 323,411.7 322,412.8 321,414.0 320,415.5 319,419.3 318,419.3 317,420.6 316,421.7 315,424.0 314,426.1 313,427.9 312,429.2 311,430.5 310,432.0 309,433.8 308,436.0 307,437.7 306,439.4 305,440.7 304,441.9 303,444.0 302,446.2 301,448.1 300,450.0 299,452.3 298,457.3 297,454.9 296,456.4 295,458.5 294,460.8 293,462.0 292,463.0 291,464.7 290,466.5 289,468.2 288,469.8 287,471.7 286,474.1 285,475.7 284,477.3 283,478.9 282,480.9 281,483.1 280,484.6 279,486.0 278,487.5 277,489.0 276,490.9 275,493.0 274,497.5 273,496.3 272,497.4 271,501.7 270,501.6 269,503.6 268,503.8 267,506.0 266,510.8 265,509.7 264,511.4 263,513.2 262,515.3 261,516.4 260,517.9 259,521.5 258,522.3 257,524.5 256,525.5 255,527.8 254,527.8 253,530.3 252,532.1 251,533.7 250,535.2 249,536.9 248,541.1 247,541.2 246,542.9 245,544.3 244,545.7 243,547.7 242,549.2 241,551.7 240,552.8 239,552.6 238,554.5 237,559.4 236,557.9 235,559.9 234,561.8 233,564.0 232,565.3 231,569.3 230,568.0 229,569.2 228,570.3 227,572.1 226,574.0 225,576.1 224,578.0 223,582.6 222,580.6 221,582.6 220,587.2 219,585.3 218,586.8 217,590.9 216,589.7 215,591.3 214,592.8 213,594.6 212,595.8 211,597.1 210,598.2 209,599.8 208,601.9 207,603.4 206,605.0 205,606.4 204,609.7 203,611.2 202,614.9 201,617.5 200,616.3 199,618.0 198,622.7 197,624.6 196,622.5 195,623.3 194,624.0 193,624.9 192,626.2 191,627.6 190,629.9 189,632.4 188,634.8 187,636.2 186,637.2 185,641.0 184,640.0 183,641.0 182,641.7 181,642.9 180,644.8 179,646.2 178,647.2 177,647.6 176,648.8 175,651.0 174,653.5 173,654.7 172,655.6 171,657.2 170,659.4 169,661.5 168,660.7 167,661.4 166,667.0 165,669.8 164,668.6 163,669.6 162,670.7 161,672.3 160,672.3"/><rect x="164" y="658.5" width="4" height="11.7"/><rect x="169" y="650.8" width="4" height="11.3"/><rect x="175" y="642.7" width="4" height="8.0"/><rect x="181" y="635.9" width="4" height="13.9"/><rect x="191" y="619.3" width="4" height="9.5"/><rect x="208" y="593.0" width="4" height="16.7"/><rect x="218" y="578.8" width="4" height="12.5"/><rect x="223" y="570.5" width="4" height="18.4"/><rect x="231" y="557.8" width="4" height="17.0"/><rect x="242" y="539.2" width="4" height="17.1"/><rect x="252" y="522.4" width="4" height="11.9"/><rect x="262" y="505.1" width="4" height="14.1"/><rect x="273" y="486.6" width="4" height="10.6"/><rect x="284" y="467.7" width="4" height="19.1"/><rect x="294" y="450.7" width="4" height="10.6"/><rect x="310" y="423.4" width="4" height="14.2"/><rect x="324" y="400.7" width="4" height="11.5"/><rect x="340" y="375.4" width="4" height="18.2"/><rect x="347" y="364.8" width="4" height="10.8"/><rect x="366" y="336.8" width="4" height="16.8"/><rect x="382" y="315.3" width="4" height="10.2"/><rect x="395" y="297.9" width="4" height="16.1"/><rect x="412" y="276.3" width="4" height="15.6"/><rect x="425" y="261.5" width="4" height="12.9"/><rect x="440" y="244.9" width="4" height="10.2"/><rect x="453" y="231.2" width="4" height="16.0"/><rect x="457" y="227.0" width="4" height="10.4"/><rect x="467" y="217.5" width="4" height="9.7"/><rect x="483" y="203.0" width="4" height="6.9"/><rect x="499" y="189.7" width="4" height="8.1"/><rect x="515" y="176.8" width="4" height="9.5"/><rect x="522" y="172.1" width="4" height="10.3"/><rect x="550" y="155.5" width="4" height="8.4"/></g>
<g fill="#008000" shape-rendering="crispEdges"><polygon points="160,612.9 161,612.9 162,611.1 163,609.6 164,607.4 165,605.4 166,604.1 167,602.9 168,601.0 169,598.9 170,597.0 171,595.7 172,594.7 173,593.5 174,591.7 175,590.0 176,588.0 177,586.8 178,585.2 179,583.5 180,582.2 181,581.4 182,580.1 183,577.9 184,575.4 185,573.4 186,571.8 187,570.8 188,569.0 189,567.2 190,565.9 191,564.8 192,562.9 193,560.4 194,558.1 195,555.8 196,554.1 197,552.6 198,550.8 199,548.7 200,546.9 201,544.9 202,543.3 203,542.0 204,541.3 205,539.8 206,537.9 207,536.0 208,534.5 209,533.0 210,531.7 211,530.1 212,527.6 213,525.2 214,523.1 215,521.1 216,519.4 217,517.8 218,516.7 219,514.8 220,512.8 221,511.1 222,510.5 223,509.6 224,507.8 225,506.1 226,504.6 227,503.7 228,501.8 229,499.3 230,496.9 231,495.4 232,494.2 233,492.2 234,490.0 235,488.0 236,487.1 237,485.3 238,483.3 239,481.4 240,479.4 241,477.8 242,475.6 243,473.9 244,472.0 245,470.8 246,469.3 247,467.2 248,464.9 249,463.3 250,462.1 251,460.4 252,458.3 253,456.6 254,455.6 255,454.1 256,452.8 257,450.8 258,449.3 259,447.1 260,445.9 261,444.3 262,443.2 263,441.4 264,440.1 265,438.6 266,436.4 267,433.9 268,431.9 269,430.3 270,428.4 271,426.4 272,424.2 273,422.4 274,420.8 275,419.9 276,418.7 277,416.8 278,414.9 279,413.7 280,412.7 281,411.2 282,409.2 283,406.9 284,405.3 285,403.7 286,402.0 287,400.3 288,399.2 289,398.0 290,396.1 291,394.1 292,392.2 293,390.4 294,388.9 295,387.4 296,385.7 297,383.6 298,382.0 299,380.7 300,380.0 301,378.8 302,376.8 303,374.9 304,373.0 305,371.8 306,370.3 307,368.9 308,366.9 309,365.7 310,364.5 311,363.2 312,361.8 313,360.3 314,358.1 315,356.4 316,355.2 317,353.9 318,351.3 319,349.4 320,348.4 321,347.4 322,346.0 323,344.7 324,343.1 325,340.7 326,338.8 327,337.7 328,336.4 329,334.9 330,333.7 331,332.7 332,331.1 333,329.0 334,326.9 335,325.1 336,323.7 337,322.2 338,321.4 339,320.6 340,320.0 341,318.1 342,315.9 343,313.9 344,312.4 345,311.2 346,310.0 347,309.2 348,307.7 349,306.0 350,304.7 351,303.4 352,301.6 353,299.6 354,298.0 355,296.8 356,295.5 357,294.5 358,292.9 359,291.8 360,290.6 361,289.8 362,288.3 363,286.8 364,284.9 365,283.6 366,282.6 367,281.9 368,280.8 369,279.4 370,277.5 371,275.6 372,274.3 373,273.1 374,271.4 375,269.5 376,268.5 377,267.3 378,265.7 379,264.4 380,263.3 381,262.6 382,261.1 383,260.0 384,258.5 385,258.1 386,256.8 387,255.7 388,254.2 389,252.8 390,250.9 391,249.5 392,248.4 393,247.2 394,246.5 395,246.3 396,245.7 397,244.1 398,242.0 399,240.9 400,239.9 401,238.9 402,237.8 403,237.3 404,236.5 405,234.9 406,233.6 407,232.4 408,230.9 409,228.8 410,227.8 411,226.9 412,225.7 413,224.3 414,223.7 415,222.4 416,220.6 417,219.6 418,219.0 419,218.2 420,216.9 421,215.3 422,213.7 423,212.9 424,212.3 425,211.2 426,209.6 427,208.0 428,206.7 429,206.4 430,205.9 431,204.7 432,203.1 433,202.6 434,202.3 435,202.0 436,200.8 437,199.5 438,198.2 439,197.7 440,197.4 441,196.3 442,195.0 443,193.6 444,192.0 445,190.3 446,189.6 447,189.6 448,189.1 449,188.2 450,187.4 451,186.8 452,184.9 453,183.0 454,182.0 455,181.6 456,181.1 457,180.0 458,179.0 459,178.4 460,177.7 461,176.7 462,175.8 463,175.1 464,174.5 465,174.1 466,173.7 467,172.3 468,170.6 469,169.2 470,168.3 471,168.3 472,167.9 473,166.7 474,164.9 475,164.0 476,164.1 477,163.6 478,162.3 479,161.1 480,160.7 481,159.9 482,158.8 483,158.4 484,157.9 485,157.0 486,156.5 487,156.0 488,155.7 489,154.8 490,154.6 491,153.8 492,152.7 493,152.0 494,151.1 495,150.3 496,149.0 497,148.8 498,148.1 499,147.3 500,146.1 501,145.9 502,145.7 503,145.4 504,144.4 505,143.2 506,142.4 507,142.1 508,141.4 509,139.9 510,139.1 511,138.5 512,137.9 513,137.0 514,136.5 515,135.5 516,134.5 517,134.2 518,134.2 519,133.9 520,133.1 521,132.1 522,131.9 523,131.8 524,131.5 525,130.2 526,129.3 527,128.4 528,128.1 529,128.0 530,128.0 531,127.5 532,127.3 533,127.3 534,126.6 535,125.0 536,123.7 537,123.2 538,122.6 539,122.4 540,122.0 541,122.4 542,121.9 543,121.4 544,120.5 545,119.5 546,119.1 547,119.0 548,119.1 549,117.9 550,117.0 551,116.1 552,116.1 553,115.9 554,116.0 555,116.0 556,115.6 557,115.0 558,114.7 559,114.0 560,113.5 561,112.8 562,113.0 563,112.6 564,112.1 565,110.7 566,110.1 567,109.5 568,109.5 569,109.4 570,109.6 571,109.1 572,108.9 573,108.2 574,107.6 575,107.5 576,107.6 577,107.6 578,107.1 579,106.5 580,106.1 581,106.0 582,106.2 583,105.4 584,105.1 585,104.8 586,104.7 587,104.1 588,103.7 589,102.6 590,102.0 591,102.3 592,102.9 593,103.2 594,102.3 595,101.4 596,100.8 597,101.1 598,100.8 599,100.2 600,99.3 601,99.4 602,99.9 603,99.9 604,99.2 605,98.3 606,98.0 607,97.7 608,98.2 609,97.9 610,97.2 611,97.1 612,97.9 613,98.3 614,97.1 615,95.9 616,95.3 617,95.2 618,95.6 619,96.2 620,96.2 621,95.3 622,94.3 623,94.2 624,94.1 625,94.4 626,94.0 627,93.8 628,93.5 629,94.1 630,94.7 631,95.2 632,95.0 633,94.7 634,94.0 635,93.5 636,93.5 637,93.1 638,92.2 639,91.8 640,92.8 641,92.8 642,92.2 643,91.6 644,91.7 645,92.1 646,92.2 647,91.9 648,91.1 649,90.8 650,90.7 651,90.4 652,90.6 653,91.1 654,91.3 655,90.9 656,90.8 657,90.9 658,91.0 659,91.0 660,91.4 661,91.9 662,92.0 663,91.9 664,91.7 665,92.2 666,92.3 667,92.3 668,92.1 669,92.1 670,91.7 671,91.5 672,91.5 673,92.2 674,92.8 675,93.4 676,92.8 677,92.7 678,92.5 679,92.7 680,92.9 681,93.1 682,92.9 683,92.3 684,92.2 685,92.5 686,93.3 687,93.2 688,92.9 689,92.2 690,92.2 691,92.0 692,92.2 693,92.7 694,93.5 695,93.7 696,93.1 697,93.7 698,94.9 699,95.5 700,95.4 701,95.3 702,95.4 703,95.3 704,95.5 705,95.9 706,96.1 707,96.2 708,96.1 709,96.5 710,97.0 711,97.1 712,97.1 713,97.3 714,97.7 715,97.4 716,97.2 717,97.5 718,98.2 719,98.9 720,99.3 721,99.8 722,100.0 723,100.3 724,100.3 725,100.3 726,100.7 727,101.4 728,102.1 729,102.3 730,102.2 731,102.0 732,101.9 733,102.1 734,102.3 735,102.8 736,103.8 737,104.5 738,104.8 739,105.0 740,105.6 741,105.5 742,105.9 743,106.3 744,106.5 745,106.6 746,107.0 747,107.4 748,107.7 749,108.8 750,110.1 751,110.8 752,110.5 753,110.6 754,110.8 755,110.9 756,111.1 757,111.9 758,112.8 759,113.1 760,113.1 761,113.8 762,115.4 763,116.2 764,116.2 765,116.8 766,117.9 767,118.8 768,119.1 769,119.0 770,119.0 771,119.4 772,120.6 773,121.3 774,121.6 775,121.7 776,122.5 777,123.8 778,125.0 779,125.8 780,125.7 781,125.4 782,125.3 783,126.1 784,126.4 785,127.6 786,128.3 787,128.8 788,128.9 789,129.4 790,130.2 791,130.9 792,132.1 793,132.5 794,132.6 795,133.4 796,134.7 797,135.2 798,135.9 799,137.1 800,138.1 801,137.8 802,137.6 803,138.6 804,140.1 805,140.8 806,140.8 807,141.3 808,142.3 809,143.3 810,143.4 811,143.5 812,144.4 813,146.2 814,147.5 815,148.1 816,148.5 817,148.6 818,148.9 819,150.1 820,151.6 821,152.0 822,151.7 823,152.1 824,153.7 825,155.0 826,155.6 827,156.2 828,157.3 829,157.8 830,157.9 831,158.3 832,159.5 833,160.5 834,161.4 835,162.7 836,164.1 837,164.5 838,164.9 839,165.6 840,167.1 841,168.1 842,169.1 843,169.4 844,169.8 845,170.1 846,171.1 847,172.6 848,173.9 849,174.5 850,175.7 851,176.3 852,177.0 853,177.2 854,177.8 855,178.7 856,180.6 857,181.5 858,182.2 859,183.0 860,184.2 861,184.5 862,185.2 863,186.8 864,188.3 865,189.5 866,190.1 867,190.6 868,191.1 869,192.2 870,193.6 871,194.4 872,195.1 873,196.5 874,197.9 875,198.3 876,198.9 877,200.2 878,201.7 879,201.8 880,202.2 881,203.3 882,204.7 883,205.3 884,206.0 885,207.2 886,208.8 887,209.8 888,210.9 889,211.6 890,212.5 891,213.0 892,214.3 893,215.8 894,216.8 895,217.6 896,218.4 897,219.7 898,220.7 899,222.1 900,223.3 901,224.6 902,225.1 903,225.7 904,226.4 905,227.7 906,229.1 907,230.6 908,231.2 909,231.5 910,232.8 911,234.1 912,235.0 913,236.0 914,237.7 915,238.8 916,239.6 917,241.0 918,242.2 919,242.6 920,243.2 921,244.2 922,245.6 923,246.5 924,247.9 925,248.8 926,250.2 927,251.0 928,252.5 929,254.0 930,255.6 931,256.4 932,257.7 933,259.1 934,260.4 935,260.8 936,261.2 937,262.3 938,264.2 939,265.8 940,266.5 941,267.6 942,269.0 943,270.3 944,270.4 945,271.5 946,272.6 947,274.0 948,274.7 949,276.6 950,277.5 951,278.3 952,279.3 953,281.5 954,282.7 955,283.4 956,284.6 957,286.2 958,287.0 959,288.2 960,289.3 961,290.1 962,291.4 963,293.4 964,294.7 965,295.1 966,295.8 967,297.2 968,298.5 969,299.8 970,301.1 971,302.5 972,303.8 973,305.2 974,306.2 975,307.2 976,308.9 977,310.9 978,312.2 979,313.1 980,314.0 981,315.1 982,315.9 983,317.0 984,318.4 985,319.9 986,321.0 987,321.8 988,323.4 989,325.3 990,327.1 991,328.4 992,329.2 993,330.5 994,331.4 995,332.7 996,333.2 997,334.4 998,335.3 999,336.6 1000,337.2 1001,338.6 1002,339.9 1003,341.9 1004,343.3 1005,344.3 1006,345.5 1007,347.2 1008,348.4 1009,349.5 1010,350.9 1011,352.0 1012,353.0 1013,354.8 1014,356.4 1015,357.7 1016,358.5 1017,359.5 1018,360.8 1019,362.3 1020,363.9 1021,365.5 1022,367.4 1023,369.0 1024,369.7 1025,370.4 1026,371.4 1027,373.4 1028,374.9 1029,376.3 1030,377.0 1031,378.3 1032,380.0 1033,381.4 1034,382.5 1035,383.4 1036,384.8 1037,386.0 1038,387.8 1039,389.0 1040,390.5 1041,391.5 1042,392.3 1043,393.6 1044,394.9 1045,396.1 1046,397.1 1047,398.5 1048,399.7 1049,401.6 1050,403.5 1051,405.0 1052,405.6 1053,406.8 1054,408.0 1055,409.8 1056,411.4 1057,412.8 1058,413.9 1059,415.3 1060,416.6 1061,417.4 1062,419.0 1063,421.2 1064,422.8 1065,423.9 1066,424.8 1067,425.4 1068,425.9 1069,427.4 1070,429.1 1071,431.1 1072,432.4 1073,433.6 1074,434.9 1075,436.9 1076,438.9 1077,439.8 1078,440.7 1079,441.5 1080,443.4 1081,445.4 1082,447.3 1083,447.8 1084,449.0 1085,450.5 1086,452.4 1087,453.3 1088,454.0 1089,454.6 1090,456.1 1091,457.9 1092,459.2 1093,460.2 1094,461.9 1095,463.2 1096,464.0 1097,465.6 1098,467.3 1099,468.5 1100,469.4 1101,471.3 1102,472.9 1103,474.2 1104,475.4 1105,477.2 1106,479.1 1107,480.7 1108,481.9 1109,483.3 1110,484.9 1111,485.8 1112,486.7 1113,488.2 1114,490.1 1115,491.2 1116,492.3 1117,493.7 1118,495.2 1119,496.0 1120,496.7 1121,497.5 1122,499.3 1123,501.0 1124,502.1 1125,503.6 1126,505.2 1127,506.8 1128,507.7 1129,509.3 1130,511.2 1131,512.9 1132,514.4 1133,516.0 1134,517.0 1135,517.6 1136,518.4 1137,520.3 1138,522.3 1139,523.6 1140,524.4 1141,525.4 1142,526.7 1143,527.1 1144,527.2 1145,528.0 1146,530.1 1147,532.8 1148,535.0 1149,536.7 1150,538.1 1151,539.4 1152,540.6 1153,541.8 1154,543.3 1155,544.1 1156,544.8 1157,546.0 1158,548.5 1159,550.3 1160,551.8 1161,553.2 1162,554.6 1163,555.8 1164,557.1 1165,558.6 1166,559.6 1167,560.2 1168,561.1 1169,562.8 1170,564.9 1171,566.6 1172,567.8 1173,569.0 1174,570.2 1175,570.8 1176,572.2 1177,574.0 1178,575.9 1179,576.6 1180,578.2 1181,580.1 1182,582.1 1183,583.5 1184,584.3 1185,584.6 1186,585.7 1187,587.3 1188,588.3 1189,589.0 1190,590.1 1191,591.5 1192,592.7 1193,594.3 1194,596.2 1195,597.8 1196,599.3 1197,600.7 1198,601.8 1199,602.9 1200,603.8 1201,604.8 1202,606.1 1203,607.6 1204,608.5 1205,609.5 1206,610.5 1207,612.0 1208,613.3 1209,615.1 1210,616.2 1211,617.7 1212,619.4 1213,620.4 1214,621.3 1215,621.3 1216,622.1 1217,622.9 1218,624.4 1219,624.9 1220,626.2 1221,628.4 1222,630.8 1223,633.0 1224,634.7 1225,635.6 1226,635.9 1227,637.4 1228,639.2 1229,640.6 1230,640.8 1231,641.3 1232,642.0 1233,643.0 1234,643.7 1235,644.9 1236,646.6 1237,648.1 1238,649.9 1239,651.3 1240,652.8 1241,652.9 1242,653.5 1243,654.2 1244,655.7 1245,656.4 1246,657.2 1247,658.8 1248,661.7 1249,664.2 1250,665.3 1251,666.4 1252,667.8 1253,669.6 1254,670.4 1255,671.1 1256,671.5 1257,672.4 1258,673.2 1259,674.0 1260,674.5 1261,675.6 1262,677.6 1263,679.3 1264,680.1 1265,681.6 1266,683.7 1267,685.3 1268,685.7 1269,686.3 1270,686.5 1271,687.2 1272,687.5 1273,688.7 1274,690.3 1275,692.7 1276,695.2 1277,697.2 1278,698.2 1279,698.9 1280,699.9 1281,701.4 1282,702.4 1283,703.3 1284,703.5 1285,704.2 1286,705.1 1287,705.7 1288,706.9 1289,708.5 1290,710.5 1291,711.7 1292,713.0 1293,714.2 1294,715.8 1295,717.2 1296,718.8 1297,720.4 1298,721.3 1299,722.0 1300,723.0 1301,723.7 1302,723.5 1303,723.9 1304,726.0 1305,727.5 1306,728.7 1307,729.3 1308,731.1 1309,732.3 1310,733.6 1311,734.6 1312,735.8 1313,736.1 1314,736.6 1315,738.4 1316,740.2 1317,740.7 1318,740.1 1319,740.7 1320,742.8 1321,744.9 1322,746.3 1323,747.1 1324,749.2 1325,750.9 1326,752.6 1327,752.6 1328,753.9 1329,755.1 1330,756.2 1331,756.0 1332,755.9 1333,756.7 1334,758.3 1335,760.0 1336,761.1 1337,762.1 1338,762.7 1339,764.2 1340,764.2 1340,774.9 1339,774.9 1338,773.4 1337,771.8 1336,770.6 1335,769.8 1334,768.5 1333,767.7 1332,767.7 1331,767.0 1330,765.7 1329,764.7 1328,763.9 1327,763.2 1326,762.2 1325,760.7 1324,758.7 1323,756.4 1322,755.3 1321,754.2 1320,753.3 1319,751.4 1318,751.1 1317,751.2 1316,751.6 1315,750.4 1314,748.6 1313,746.6 1312,744.9 1311,743.8 1310,743.6 1309,743.3 1308,741.9 1307,740.2 1306,738.7 1305,737.4 1304,736.4 1303,735.9 1302,735.1 1301,734.0 1300,732.6 1299,731.5 1298,731.5 1297,731.8 1296,730.8 1295,727.9 1294,725.7 1293,724.9 1292,724.7 1291,722.6 1290,720.5 1289,718.5 1288,717.5 1287,716.5 1286,716.1 1285,714.7 1284,714.1 1283,713.7 1282,712.8 1281,711.9 1280,710.3 1279,709.6 1278,708.4 1277,707.6 1276,705.1 1275,702.9 1274,700.6 1273,698.7 1272,697.7 1271,697.4 1270,696.9 1269,696.0 1268,695.1 1267,694.4 1266,693.3 1265,692.2 1264,690.6 1263,689.3 1262,688.2 1261,686.8 1260,684.6 1259,683.6 1258,683.0 1257,682.5 1256,681.0 1255,680.1 1254,678.9 1253,678.9 1252,678.6 1251,677.5 1250,675.3 1249,673.6 1248,672.1 1247,669.9 1246,667.8 1245,666.4 1244,666.3 1243,665.1 1242,663.9 1241,663.0 1240,662.8 1239,661.9 1238,660.9 1237,659.9 1236,658.4 1235,656.8 1234,655.6 1233,654.0 1232,652.9 1231,652.2 1230,651.9 1229,650.7 1228,649.5 1227,648.5 1226,647.6 1225,647.0 1224,645.0 1223,642.9 1222,640.5 1221,638.9 1220,637.2 1219,635.6 1218,634.2 1217,633.2 1216,632.8 1215,632.4 1214,631.5 1213,629.8 1212,628.8 1211,628.3 1210,627.4 1209,625.2 1208,623.2 1207,621.8 1206,621.0 1205,620.6 1204,619.9 1203,618.6 1202,616.4 1201,614.2 1200,613.1 1199,612.6 1198,611.8 1197,609.9 1196,608.2 1195,607.1 1194,606.8 1193,606.0 1192,604.9 1191,602.5 1190,600.7 1189,599.7 1188,599.2 1187,597.6 1186,596.2 1185,594.8 1184,594.5 1183,594.1 1182,592.9 1181,590.7 1180,588.5 1179,587.4 1178,586.3 1177,584.6 1176,582.8 1175,581.6 1174,580.9 1173,579.6 1172,577.7 1171,575.3 1170,573.1 1169,572.1 1168,571.3 1167,570.1 1166,568.5 1165,568.0 1164,567.2 1163,566.6 1162,564.8 1161,562.8 1160,561.1 1159,560.4 1158,559.7 1157,557.9 1156,556.2 1155,554.5 1154,553.6 1153,552.2 1152,550.8 1151,548.9 1150,547.0 1149,545.7 1148,544.1 1147,542.5 1146,540.6 1145,539.1 1144,537.8 1143,536.5 1142,535.8 1141,534.8 1140,534.4 1139,533.4 1138,532.8 1137,531.5 1136,529.7 1135,527.6 1134,525.8 1133,524.6 1132,523.9 1131,523.6 1130,521.9 1129,520.2 1128,518.7 1127,518.0 1126,516.0 1125,514.7 1124,513.3 1123,512.3 1122,510.3 1121,508.5 1120,507.1 1119,506.2 1118,505.7 1117,504.3 1116,502.5 1115,501.1 1114,500.1 1113,499.2 1112,497.9 1111,496.9 1110,494.7 1109,493.4 1108,492.4 1107,491.7 1106,489.7 1105,487.5 1104,485.6 1103,484.1 1102,482.6 1101,481.6 1100,480.7 1099,479.4 1098,477.7 1097,476.5 1096,475.2 1095,473.8 1094,472.8 1093,471.8 1092,469.8 1091,467.6 1090,466.3 1089,465.3 1088,463.9 1087,462.7 1086,462.0 1085,461.1 1084,459.6 1083,457.9 1082,456.9 1081,456.0 1080,455.0 1079,453.0 1078,450.9 1077,449.2 1076,447.6 1075,446.3 1074,445.0 1073,443.9 1072,442.6 1071,441.7 1070,440.8 1069,439.8 1068,438.5 1067,437.5 1066,436.2 1065,434.6 1064,433.1 1063,432.0 1062,431.1 1061,429.4 1060,428.1 1059,427.2 1058,426.2 1057,424.5 1056,423.2 1055,422.2 1054,421.0 1053,419.1 1052,417.0 1051,415.8 1050,414.5 1049,413.6 1048,411.8 1047,410.4 1046,409.1 1045,408.3 1044,406.9 1043,404.8 1042,403.1 1041,401.9 1040,401.3 1039,400.1 1038,399.3 1037,397.7 1036,396.4 1035,394.4 1034,392.9 1033,391.2 1032,389.9 1031,389.1 1030,388.5 1029,387.7 1028,386.1 1027,384.9 1026,383.5 1025,382.3 1024,380.3 1023,378.9 1022,377.5 1021,376.9 1020,376.4 1019,374.8 1018,372.6 1017,370.7 1016,369.7 1015,368.8 1014,368.3 1013,367.5 1012,366.4 1011,364.5 1010,363.3 1009,362.2 1008,361.2 1007,359.9 1006,358.2 1005,356.5 1004,354.5 1003,353.3 1002,351.8 1001,350.9 1000,349.4 999,349.0 998,347.7 997,346.3 996,344.6 995,344.0 994,343.2 993,342.4 992,341.0 991,340.1 990,339.0 989,338.0 988,336.4 987,334.6 986,333.6 985,332.6 984,331.6 983,329.5 982,327.5 981,326.4 980,326.2 979,325.4 978,323.5 977,321.4 976,319.6 975,318.4 974,317.4 973,317.0 972,316.0 971,315.0 970,313.6 969,312.6 968,311.0 967,309.9 966,308.5 965,307.2 964,305.7 963,304.4 962,303.6 961,302.5 960,301.5 959,300.0 958,299.1 957,298.0 956,297.0 955,295.9 954,295.1 953,293.6 952,292.0 951,290.3 950,289.1 949,287.6 948,286.9 947,286.1 946,285.6 945,284.7 944,283.5 943,281.7 942,280.4 941,279.4 940,278.2 939,277.0 938,276.2 937,275.8 936,274.8 935,273.0 934,271.3 933,270.6 932,270.0 931,268.6 930,267.5 929,266.6 928,265.5 927,263.9 926,262.5 925,261.6 924,260.7 923,260.2 922,259.2 921,257.9 920,256.0 919,254.5 918,253.1 917,252.7 916,251.9 915,251.1 914,250.3 913,249.3 912,247.9 911,246.5 910,245.6 909,244.0 908,242.9 907,242.4 906,242.5 905,242.1 904,240.5 903,238.5 902,237.5 901,237.4 900,236.4 899,234.4 898,233.3 897,232.7 896,231.7 895,230.6 894,229.8 893,228.7 892,226.8 891,225.7 890,224.7 889,224.0 888,222.5 887,221.3 886,220.4 885,219.8 884,219.3 883,218.1 882,216.9 881,215.7 880,215.4 879,214.6 878,213.4 877,211.9 876,211.3 875,210.5 874,209.4 873,207.8 872,207.3 871,207.1 870,206.7 869,205.3 868,204.3 867,203.0 866,201.9 865,200.6 864,200.5 863,200.2 862,199.5 861,198.1 860,196.5 859,195.7 858,195.3 857,194.8 856,193.4 855,191.8 854,191.3 853,190.7 852,189.7 851,188.5 850,188.1 849,187.1 848,185.6 847,184.5 846,183.8 845,182.8 844,181.5 843,180.6 842,179.6 841,178.7 840,177.9 839,178.1 838,178.2 837,177.9 836,176.8 835,175.6 834,174.1 833,173.4 832,173.4 831,172.2 830,170.5 829,169.6 828,169.9 827,169.2 826,168.2 825,167.1 824,166.2 823,165.2 822,164.2 821,164.0 820,163.9 819,163.8 818,162.8 817,161.9 816,161.3 815,160.2 814,159.5 813,158.4 812,157.3 811,155.9 810,154.9 809,154.6 808,154.4 807,153.9 806,153.1 805,152.2 804,151.2 803,150.4 802,150.4 801,150.0 800,149.2 799,148.0 798,147.5 797,146.3 796,145.3 795,144.3 794,144.4 793,144.5 792,143.6 791,142.3 790,141.8 789,141.5 788,141.3 787,141.1 786,141.1 785,140.6 784,139.6 783,138.8 782,138.0 781,138.0 780,138.0 779,137.7 778,137.2 777,136.2 776,134.6 775,133.0 774,132.4 773,132.6 772,131.9 771,130.9 770,130.2 769,129.8 768,129.7 767,129.7 766,129.8 765,129.2 764,128.7 763,127.7 762,126.7 761,125.8 760,125.4 759,124.7 758,124.0 757,123.1 756,122.6 755,121.9 754,121.9 753,122.3 752,122.4 751,121.4 750,120.7 749,120.0 748,120.0 747,119.6 746,119.5 745,118.9 744,118.2 743,117.4 742,117.2 741,117.2 740,116.5 739,115.4 738,114.9 737,114.6 736,114.3 735,113.4 734,113.1 733,112.6 732,112.6 731,111.8 730,111.6 729,111.3 728,111.0 727,111.0 726,111.4 725,111.1 724,110.1 723,109.8 722,109.8 721,109.6 720,109.4 719,109.4 718,108.5 717,107.7 716,107.4 715,106.9 714,106.7 713,107.0 712,107.4 711,106.7 710,106.1 709,105.6 708,105.9 707,105.5 706,105.5 705,104.8 704,104.4 703,104.4 702,104.5 701,104.8 700,104.1 699,104.0 698,103.3 697,103.0 696,102.5 695,102.0 694,101.4 693,101.4 692,101.7 691,102.2 690,101.6 689,101.3 688,100.4 687,100.7 686,101.0 685,101.1 684,101.3 683,101.7 682,102.1 681,101.5 680,101.0 679,100.5 678,100.5 677,100.8 676,101.2 675,101.1 674,100.6 673,100.3 672,100.2 671,100.6 670,101.2 669,101.3 668,100.9 667,100.2 666,100.1 665,100.4 664,100.7 663,100.2 662,100.5 661,100.4 660,100.2 659,99.7 658,100.2 657,101.0 656,101.4 655,100.9 654,100.0 653,99.2 652,99.8 651,99.9 650,100.2 649,100.5 648,100.6 647,99.8 646,99.6 645,100.4 644,101.2 643,101.9 642,101.8 641,101.6 640,101.0 639,101.3 638,101.4 637,101.5 636,101.1 635,102.0 634,102.8 633,102.8 632,102.7 631,103.0 630,103.9 629,103.2 628,102.7 627,102.0 626,102.7 625,102.9 624,103.3 623,103.8 622,104.1 621,104.2 620,104.1 619,104.4 618,103.9 617,104.4 616,104.6 615,105.6 614,105.8 613,106.4 612,106.0 611,106.7 610,107.2 609,107.9 608,107.3 607,107.5 606,107.2 605,107.0 604,107.1 603,107.6 602,108.2 601,108.0 600,107.8 599,108.6 598,109.8 597,110.5 596,110.2 595,110.3 594,110.5 593,110.3 592,111.4 591,111.0 590,111.6 589,111.5 588,111.8 587,111.8 586,112.1 585,113.6 584,114.7 583,114.2 582,114.1 581,114.9 580,114.8 579,115.3 578,115.3 577,115.7 576,116.3 575,118.3 574,117.3 573,117.8 572,117.5 571,118.2 570,119.1 569,118.8 568,118.3 567,118.0 566,118.5 565,120.4 564,120.7 563,121.8 562,121.9 561,121.8 560,122.5 559,124.8 558,123.0 557,122.7 556,123.2 555,123.3 554,125.5 553,124.9 552,126.2 551,127.0 550,126.6 549,126.9 548,127.7 547,128.9 546,129.5 545,129.3 544,128.8 543,128.9 542,129.6 541,130.4 540,130.8 539,131.9 538,132.8 537,133.7 536,134.4 535,134.8 534,137.0 533,135.8 532,136.1 531,136.0 530,136.7 529,137.9 528,138.3 527,137.7 526,137.4 525,138.0 524,138.7 523,142.4 522,141.3 521,141.8 520,142.1 519,142.5 518,144.0 517,144.2 516,144.8 515,145.4 514,146.7 513,146.9 512,148.3 511,147.5 510,148.3 509,148.5 508,149.5 507,150.4 506,153.9 505,154.9 504,153.6 503,154.2 502,155.1 501,156.6 500,154.9 499,156.2 498,160.9 497,158.8 496,159.4 495,159.2 494,159.9 493,160.9 492,162.0 491,162.7 490,163.9 489,167.0 488,164.2 487,164.6 486,165.7 485,167.3 484,166.9 483,167.9 482,168.5 481,169.0 480,170.1 479,171.9 478,172.9 477,173.6 476,176.4 475,174.9 474,175.8 473,176.8 472,177.3 471,177.7 470,178.6 469,181.3 468,181.0 467,182.3 466,183.2 465,183.5 464,184.1 463,185.8 462,184.8 461,187.3 460,186.3 459,187.8 458,188.5 457,188.8 456,189.5 455,191.1 454,192.5 453,193.7 452,194.9 451,195.5 450,196.0 449,196.5 448,197.4 447,198.3 446,199.5 445,201.0 444,205.3 443,203.4 442,204.4 441,207.2 440,206.3 439,208.0 438,209.4 437,208.6 436,209.1 435,210.8 434,211.8 433,212.6 432,213.1 431,215.0 430,216.0 429,216.9 428,218.0 427,219.6 426,220.3 425,220.5 424,221.3 423,223.1 422,224.6 421,225.3 420,226.1 419,227.5 418,229.0 417,230.2 416,234.2 415,232.2 414,235.0 413,236.9 412,236.2 411,237.7 410,240.1 409,238.9 408,240.1 407,241.9 406,245.0 405,245.0 404,246.0 403,247.2 402,247.7 401,248.3 400,248.9 399,252.6 398,253.1 397,254.9 396,255.8 395,256.5 394,257.0 393,258.1 392,259.8 391,261.3 390,261.9 389,262.3 388,263.8 387,265.7 386,267.1 385,267.5 384,268.2 383,269.9 382,272.2 381,275.3 380,275.1 379,276.2 378,279.6 377,278.9 376,280.6 375,281.6 374,282.1 373,283.2 372,284.5 371,286.0 370,289.1 369,288.4 368,292.2 367,294.8 366,294.2 365,295.5 364,296.8 363,297.8 362,298.8 361,300.3 360,301.8 359,302.6 358,303.7 357,305.5 356,307.2 355,308.9 354,310.9 353,312.0 352,315.8 351,313.2 350,314.8 349,319.7 348,317.9 347,319.5 346,321.5 345,323.3 344,326.4 343,325.6 342,327.3 341,329.2 340,332.7 339,334.3 338,333.7 337,335.3 336,336.9 335,338.0 334,338.9 333,340.6 332,341.7 331,343.3 330,344.8 329,346.6 328,347.7 327,349.1 326,350.5 325,352.4 324,353.7 323,355.4 322,356.7 321,360.0 320,359.5 319,361.3 318,363.1 317,364.8 316,366.2 315,368.0 314,369.4 313,371.4 312,373.1 311,374.7 310,375.7 309,377.5 308,380.2 307,380.3 306,384.5 305,383.4 304,384.8 303,385.7 302,387.5 301,391.9 300,391.4 299,393.3 298,395.9 297,397.4 296,398.3 295,399.4 294,401.4 293,405.5 292,404.9 291,406.2 290,407.8 289,409.9 288,411.6 287,413.5 286,414.9 285,418.5 284,421.1 283,419.3 282,422.3 281,424.4 280,427.6 279,426.1 278,430.3 277,428.0 276,430.2 275,432.8 274,438.4 273,436.4 272,438.1 271,439.6 270,441.2 269,442.6 268,445.0 267,447.5 266,452.0 265,451.2 264,452.0 263,453.6 262,454.8 261,456.8 260,462.1 259,462.1 258,461.3 257,462.5 256,464.6 255,467.1 254,468.9 253,470.0 252,474.5 251,474.7 250,474.7 249,476.5 248,478.2 247,479.1 246,480.4 245,482.1 244,484.2 243,488.8 242,490.5 241,490.1 240,493.5 239,493.9 238,495.6 237,497.0 236,498.1 235,503.3 234,505.8 233,504.8 232,506.5 231,508.6 230,510.4 229,512.1 228,513.0 227,514.7 226,516.6 225,522.1 224,520.3 223,521.5 222,522.3 221,523.3 220,525.2 219,527.0 218,531.1 217,529.9 216,532.6 215,535.2 214,539.1 213,538.6 212,543.3 211,542.9 210,544.7 209,546.2 208,547.3 207,551.4 206,550.0 205,551.8 204,553.0 203,553.8 202,555.6 201,558.1 200,559.5 199,560.8 198,565.1 197,564.5 196,566.2 195,568.1 194,570.4 193,573.0 192,577.6 191,577.9 190,579.1 189,581.4 188,580.9 187,582.7 186,584.0 185,587.1 184,586.9 183,589.2 182,593.6 181,593.0 180,594.1 179,595.1 178,599.9 177,602.5 176,601.1 175,602.5 174,603.7 173,606.0 172,605.6 171,607.6 170,611.1 169,611.0 168,612.1 167,613.1 166,614.9 165,617.3 164,621.6 163,621.6 162,624.0 161,625.9 160,625.9"/><rect x="164" y="609.5" width="4" height="10.5"/><rect x="169" y="601.6" width="4" height="10.5"/><rect x="175" y="593.3" width="4" height="11.9"/><rect x="181" y="583.1" width="4" height="16.9"/><rect x="191" y="566.7" width="4" height="11.0"/><rect x="208" y="537.8" width="4" height="17.4"/><rect x="218" y="519.1" width="4" height="10.0"/><rect x="224" y="509.8" width="4" height="19.0"/><rect x="231" y="498.0" width="4" height="15.3"/><rect x="242" y="478.7" width="4" height="14.9"/><rect x="253" y="460.3" width="4" height="11.9"/><rect x="263" y="444.2" width="4" height="17.5"/><rect x="273" y="426.3" width="4" height="10.7"/><rect x="286" y="404.9" width="4" height="15.2"/><rect x="293" y="393.9" width="4" height="9.9"/><rect x="310" y="367.3" width="4" height="17.9"/><rect x="323" y="346.7" width="4" height="10.7"/><rect x="339" y="322.9" width="4" height="16.8"/><rect x="349" y="308.6" width="4" height="9.7"/><rect x="365" y="286.6" width="4" height="17.4"/><rect x="382" y="264.0" width="4" height="8.1"/><rect x="396" y="247.6" width="4" height="18.3"/><rect x="412" y="228.2" width="4" height="18.6"/><rect x="427" y="211.7" width="4" height="11.7"/><rect x="439" y="200.3" width="4" height="11.3"/><rect x="452" y="187.3" width="4" height="16.0"/><rect x="459" y="181.4" width="4" height="13.3"/><rect x="466" y="175.7" width="4" height="10.4"/><rect x="482" y="162.2" width="4" height="7.4"/><rect x="500" y="149.8" width="4" height="12.0"/><rect x="514" y="140.3" width="4" height="8.0"/><rect x="524" y="134.4" width="4" height="7.3"/><rect x="551" y="120.8" width="4" height="7.4"/></g>
<g fill="#000080" shape-rendering="crispEdges"><polygon points="160,576.1 161,576.1 162,574.5 163,572.7 164,570.9 165,568.8 166,567.8 167,567.0 168,565.0 169,562.6 170,560.8 171,559.0 172,556.5 173,554.6 174,553.6 175,552.9 176,550.8 177,548.4 178,546.4 179,544.9 180,542.9 181,540.8 182,539.9 183,539.2 184,537.4 185,534.8 186,533.1 187,531.9 188,530.1 189,527.7 190,526.2 191,524.5 192,522.4 193,519.8 194,518.2 195,517.0 196,515.7 197,514.1 198,512.5 199,510.5 200,508.1 201,506.2 202,505.1 203,503.9 204,502.0 205,499.7 206,497.5 207,495.5 208,493.6 209,492.2 210,490.7 211,489.5 212,488.0 213,487.1 214,484.9 215,482.9 216,481.2 217,480.1 218,478.1 219,476.0 220,474.3 221,472.9 222,471.3 223,469.5 224,468.2 225,466.1 226,464.4 227,463.0 228,461.6 229,459.8 230,458.2 231,456.2 232,454.4 233,452.6 234,450.6 235,448.5 236,446.8 237,445.1 238,443.8 239,442.6 240,440.5 241,438.0 242,435.9 243,434.1 244,432.6 245,431.6 246,430.6 247,428.9 248,427.3 249,425.5 250,423.6 251,421.5 252,420.2 253,418.8 254,417.5 255,416.2 256,414.4 257,412.3 258,410.0 259,408.4 260,406.9 261,405.2 262,403.2 263,400.9 264,399.7 265,398.5 266,396.9 267,394.8 268,393.0 269,391.4 270,389.6 271,387.6 272,386.0 273,384.1 274,382.2 275,381.4 276,380.7 277,379.3 278,377.3 279,375.8 280,374.7 281,372.8 282,370.7 283,369.3 284,368.8 285,367.4 286,364.9 287,363.1 288,362.1 289,360.7 290,358.6 291,356.5 292,354.5 293,352.6 294,351.1 295,350.0 296,349.0 297,347.9 298,346.0 299,344.2 300,342.4 301,340.7 302,339.4 303,337.8 304,336.4 305,334.8 306,333.5 307,331.7 308,330.2 309,329.2 310,328.4 311,327.2 312,325.4 313,323.2 314,321.3 315,319.9 316,318.5 317,316.7 318,315.1 319,313.3 320,312.0 321,310.7 322,309.4 323,308.2 324,306.7 325,305.4 326,304.1 327,302.8 328,301.3 329,299.4 330,297.7 331,296.4 332,295.4 333,294.1 334,292.6 335,290.4 336,288.7 337,287.4 338,286.4 339,284.4 340,282.8 341,282.0 342,281.5 343,280.2 344,278.6 345,277.1 346,276.1 347,275.1 348,273.1 349,271.1 350,269.7 351,268.4 352,266.7 353,264.8 354,263.9 355,263.0 356,262.3 357,261.2 358,260.1 359,258.4 360,257.0 361,256.1 362,255.4 363,253.8 364,252.2 365,250.5 366,249.6 367,248.3 368,246.4 369,244.3 370,242.5 371,241.2 372,239.8 373,238.5 374,237.9 375,237.7 376,237.0 377,235.5 378,234.3 379,233.1 380,231.9 381,230.5 382,229.6 383,227.5 384,226.0 385,224.3 386,223.5 387,223.0 388,221.8 389,220.4 390,218.7 391,217.6 392,215.9 393,215.0 394,213.5 395,212.8 396,211.6 397,211.1 398,210.5 399,210.1 400,208.4 401,207.1 402,206.0 403,204.6 404,203.1 405,202.4 406,201.5 407,200.3 408,199.4 409,198.9 410,197.6 411,196.0 412,194.5 413,193.8 414,193.2 415,192.6 416,191.0 417,189.8 418,188.8 419,187.8 420,186.6 421,185.7 422,185.0 423,183.6 424,182.4 425,181.6 426,181.1 427,179.9 428,178.7 429,178.1 430,177.8 431,176.6 432,175.4 433,174.3 434,173.2 435,171.5 436,169.8 437,168.7 438,168.4 439,168.4 440,168.2 441,167.2 442,165.9 443,164.3 444,163.5 445,163.4 446,162.8 447,162.1 448,161.2 449,160.0 450,158.4 451,157.3 452,156.4 453,155.5 454,155.3 455,154.9 456,154.1 457,152.8 458,151.8 459,150.8 460,150.0 461,149.2 462,149.0 463,148.3 464,147.2 465,146.4 466,146.1 467,144.9 468,143.4 469,142.5 470,142.1 471,141.5 472,141.3 473,140.4 474,138.8 475,137.0 476,136.0 477,136.0 478,135.6 479,135.4 480,134.4 481,133.9 482,133.2 483,133.3 484,132.8 485,131.7 486,130.5 487,129.4 488,128.8 489,128.2 490,128.0 491,126.9 492,126.3 493,125.9 494,125.5 495,124.8 496,123.4 497,123.1 498,122.8 499,122.6 500,121.9 501,121.0 502,119.9 503,119.1 504,118.9 505,119.1 506,118.2 507,117.6 508,117.4 509,117.6 510,116.6 511,115.4 512,115.1 513,114.7 514,113.5 515,112.9 516,113.1 517,112.4 518,110.9 519,110.5 520,110.8 521,110.6 522,110.1 523,108.8 524,108.1 525,107.6 526,107.3 527,105.8 528,104.5 529,103.8 530,103.8 531,104.2 532,104.5 533,103.6 534,102.2 535,101.7 536,101.5 537,101.5 538,101.2 539,100.9 540,99.6 541,98.5 542,98.0 543,97.8 544,97.8 545,97.3 546,96.9 547,96.6 548,96.5 549,95.9 550,95.0 551,94.4 552,93.7 553,92.9 554,92.4 555,92.8 556,92.7 557,91.9 558,91.4 559,91.7 560,92.2 561,92.1 562,91.5 563,90.7 564,90.6 565,90.9 566,90.4 567,89.9 568,89.1 569,88.3 570,88.2 571,87.9 572,87.2 573,86.8 574,86.9 575,87.1 576,86.4 577,86.1 578,85.3 579,84.7 580,84.1 581,83.9 582,83.9 583,83.9 584,84.1 585,83.7 586,83.5 587,82.9 588,82.8 589,82.2 590,82.1 591,81.5 592,80.9 593,80.4 594,80.9 595,81.5 596,81.5 597,80.7 598,80.6 599,80.4 600,80.7 601,80.7 602,80.2 603,78.8 604,77.9 605,77.7 606,77.7 607,77.4 608,78.1 609,78.8 610,79.3 611,78.6 612,78.5 613,78.9 614,78.6 615,77.9 616,77.7 617,78.0 618,77.6 619,77.4 620,77.2 621,77.0 622,76.5 623,76.8 624,76.5 625,76.4 626,76.6 627,76.3 628,76.0 629,75.5 630,76.2 631,75.7 632,76.1 633,75.7 634,76.0 635,75.7 636,76.4 637,76.6 638,76.5 639,76.3 640,76.2 641,76.2 642,75.9 643,75.5 644,75.6 645,76.1 646,76.9 647,76.7 648,76.2 649,75.3 650,74.5 651,74.5 652,74.9 653,75.2 654,75.6 655,75.3 656,75.0 657,74.3 658,75.0 659,75.3 660,75.3 661,74.7 662,74.5 663,74.4 664,74.0 665,73.7 666,74.1 667,74.6 668,75.0 669,75.0 670,74.9 671,74.7 672,75.4 673,75.8 674,76.5 675,76.8 676,77.4 677,77.2 678,77.3 679,77.2 680,76.8 681,76.7 682,76.6 683,76.4 684,76.5 685,76.8 686,77.2 687,77.7 688,78.2 689,78.5 690,78.5 691,78.2 692,78.2 693,78.2 694,78.1 695,77.6 696,78.4 697,79.1 698,79.1 699,78.8 700,78.7 701,79.1 702,79.0 703,79.0 704,79.8 705,80.3 706,80.9 707,81.0 708,81.2 709,80.8 710,80.6 711,81.2 712,82.2 713,82.4 714,81.8 715,81.1 716,81.4 717,81.6 718,82.4 719,83.5 720,84.1 721,83.8 722,83.7 723,84.1 724,84.4 725,85.2 726,86.5 727,87.7 728,87.5 729,87.6 730,88.0 731,88.5 732,88.0 733,88.3 734,89.2 735,89.7 736,89.6 737,89.9 738,89.9 739,89.6 740,89.5 741,90.6 742,91.6 743,91.7 744,92.0 745,92.0 746,92.3 747,92.2 748,93.4 749,93.7 750,94.4 751,94.4 752,95.3 753,95.6 754,96.5 755,96.8 756,97.4 757,98.0 758,98.6 759,98.4 760,98.1 761,98.5 762,99.9 763,100.5 764,100.2 765,99.9 766,100.6 767,101.6 768,102.5 769,103.0 770,103.5 771,104.4 772,105.3 773,105.4 774,105.3 775,106.1 776,107.2 777,107.7 778,107.9 779,108.9 780,109.7 781,109.7 782,109.8 783,110.3 784,110.9 785,111.2 786,112.4 787,113.3 788,114.3 789,114.7 790,115.4 791,116.1 792,116.4 793,116.4 794,116.5 795,117.2 796,117.9 797,118.7 798,119.8 799,121.3 800,122.2 801,122.6 802,123.3 803,123.7 804,124.1 805,124.2 806,125.1 807,126.1 808,127.1 809,127.9 810,128.3 811,128.3 812,128.3 813,129.5 814,130.8 815,131.4 816,131.9 817,132.7 818,133.9 819,134.6 820,135.7 821,135.9 822,136.5 823,136.6 824,137.6 825,138.3 826,139.2 827,139.4 828,139.9 829,140.5 830,141.4 831,142.3 832,143.2 833,144.4 834,145.4 835,146.3 836,147.4 837,148.1 838,148.9 839,149.4 840,150.5 841,151.5 842,152.3 843,152.9 844,153.0 845,153.4 846,154.5 847,155.6 848,156.0 849,156.7 850,158.1 851,159.7 852,160.5 853,161.3 854,161.5 855,162.5 856,163.4 857,164.6 858,165.4 859,166.1 860,167.2 861,168.6 862,169.5 863,169.8 864,170.5 865,171.7 866,172.1 867,172.5 868,173.4 869,174.3 870,174.9 871,176.4 872,178.3 873,179.6 874,180.2 875,180.6 876,181.1 877,181.9 878,182.9 879,184.0 880,185.2 881,186.1 882,186.4 883,186.8 884,188.4 885,190.0 886,191.5 887,191.9 888,192.3 889,193.3 890,195.2 891,196.6 892,197.6 893,198.2 894,199.3 895,199.9 896,200.6 897,200.8 898,201.7 899,203.3 900,204.5 901,206.0 902,207.0 903,208.3 904,209.0 905,210.4 906,211.6 907,213.1 908,213.6 909,213.8 910,214.7 911,216.5 912,218.2 913,218.7 914,218.7 915,219.6 916,221.3 917,222.7 918,223.7 919,224.2 920,224.9 921,225.6 922,226.8 923,227.5 924,229.2 925,230.8 926,232.1 927,232.6 928,233.7 929,234.3 930,235.2 931,236.3 932,237.8 933,238.7 934,239.4 935,240.9 936,242.9 937,244.3 938,245.4 939,246.0 940,247.2 941,248.0 942,249.5 943,251.1 944,252.7 945,253.8 946,254.4 947,255.6 948,257.0 949,258.3 950,259.3 951,260.7 952,262.3 953,263.1 954,263.9 955,264.5 956,265.2 957,265.9 958,267.1 959,268.8 960,270.1 961,271.0 962,272.0 963,273.7 964,275.2 965,275.8 966,276.4 967,277.2 968,278.9 969,280.5 970,282.4 971,283.6 972,284.6 973,285.6 974,286.5 975,288.2 976,289.6 977,291.0 978,291.2 979,291.7 980,293.1 981,295.4 982,297.2 983,298.2 984,299.3 985,300.6 986,301.3 987,302.3 988,304.2 989,305.7 990,306.4 991,307.1 992,308.9 993,310.6 994,311.8 995,312.6 996,314.2 997,315.9 998,316.7 999,317.2 1000,318.4 1001,319.9 1002,321.3 1003,322.2 1004,323.4 1005,325.0 1006,326.9 1007,327.6 1008,328.2 1009,329.9 1010,331.3 1011,332.3 1012,332.9 1013,334.9 1014,337.2 1015,339.0 1016,339.6 1017,340.3 1018,342.1 1019,343.5 1020,344.7 1021,345.5 1022,346.6 1023,347.7 1024,349.9 1025,351.4 1026,352.8 1027,354.3 1028,356.0 1029,356.5 1030,356.6 1031,357.8 1032,359.6 1033,361.2 1034,362.5 1035,364.6 1036,366.0 1037,366.6 1038,367.1 1039,368.6 1040,370.5 1041,371.7 1042,372.6 1043,373.9 1044,375.8 1045,377.3 1046,378.8 1047,380.7 1048,382.8 1049,383.8 1050,385.0 1051,386.3 1052,387.8 1053,388.9 1054,389.9 1055,391.2 1056,392.1 1057,393.8 1058,395.1 1059,396.9 1060,398.2 1061,399.8 1062,400.8 1063,401.7 1064,403.2 1065,405.1 1066,406.5 1067,407.0 1068,407.3 1069,408.7 1070,411.0 1071,412.8 1072,413.4 1073,414.1 1074,415.5 1075,417.5 1076,419.4 1077,420.8 1078,422.3 1079,423.9 1080,425.4 1081,426.8 1082,428.4 1083,429.8 1084,430.7 1085,431.3 1086,432.2 1087,433.8 1088,435.8 1089,436.8 1090,438.0 1091,439.3 1092,440.8 1093,441.6 1094,442.3 1095,443.5 1096,445.8 1097,447.7 1098,449.0 1099,450.2 1100,452.0 1101,453.7 1102,455.3 1103,457.1 1104,458.2 1105,459.4 1106,460.9 1107,462.9 1108,464.0 1109,464.6 1110,465.4 1111,466.8 1112,468.2 1113,469.4 1114,470.9 1115,472.8 1116,474.2 1117,475.0 1118,476.1 1119,478.3 1120,480.6 1121,482.6 1122,483.5 1123,484.1 1124,485.2 1125,486.8 1126,488.1 1127,488.8 1128,489.4 1129,491.0 1130,492.6 1131,494.0 1132,494.8 1133,496.5 1134,498.0 1135,499.7 1136,501.3 1137,502.7 1138,503.9 1139,505.3 1140,506.3 1141,507.2 1142,508.6 1143,510.5 1144,512.4 1145,513.9 1146,515.2 1147,516.6 1148,517.7 1149,518.8 1150,520.2 1151,522.4 1152,523.8 1153,525.1 1154,525.9 1155,527.3 1156,528.9 1157,530.8 1158,531.7 1159,532.9 1160,534.1 1161,536.2 1162,537.8 1163,538.8 1164,539.9 1165,540.9 1166,542.4 1167,543.6 1168,544.5 1169,545.5 1170,547.1 1171,548.9 1172,549.6 1173,550.6 1174,551.9 1175,553.6 1176,555.5 1177,557.2 1178,558.4 1179,559.7 1180,561.0 1181,561.9 1182,563.6 1183,565.2 1184,566.3 1185,567.4 1186,568.9 1187,570.1 1188,570.8 1189,571.0 1190,572.0 1191,573.4 1192,574.9 1193,576.1 1194,577.7 1195,579.7 1196,581.9 1197,583.3 1198,585.0 1199,586.5 1200,587.8 1201,588.3 1202,589.4 1203,590.7 1204,592.0 1205,592.9 1206,593.7 1207,595.0 1208,596.7 1209,597.8 1210,598.7 1211,600.4 1212,602.5 1213,603.9 1214,604.9 1215,606.0 1216,606.9 1217,607.2 1218,608.3 1219,610.0 1220,612.1 1221,613.7 1222,615.0 1223,616.9 1224,618.6 1225,619.7 1226,620.3 1227,621.6 1228,623.1 1229,624.2 1230,625.1 1231,626.2 1232,627.9 1233,628.7 1234,629.0 1235,629.1 1236,630.1 1237,631.4 1238,633.2 1239,634.8 1240,636.3 1241,637.2 1242,638.2 1243,639.5 1244,640.9 1245,641.6 1246,642.3 1247,643.9 1248,646.1 1249,647.0 1250,648.3 1251,649.9 1252,652.4 1253,653.4 1254,654.4 1255,655.1 1256,656.8 1257,658.0 1258,659.4 1259,660.6 1260,663.1 1261,664.4 1262,664.9 1263,664.7 1264,666.0 1265,667.5 1266,668.9 1267,669.1 1268,669.7 1269,671.1 1270,673.5 1271,675.7 1272,677.0 1273,678.1 1274,678.6 1275,678.8 1276,678.7 1277,679.7 1278,681.7 1279,682.9 1280,683.4 1281,684.4 1282,686.4 1283,688.0 1284,688.4 1285,689.1 1286,689.8 1287,691.0 1288,692.0 1289,692.6 1290,693.1 1291,694.1 1292,695.8 1293,696.8 1294,697.9 1295,699.3 1296,701.0 1297,702.4 1298,703.9 1299,705.6 1300,707.1 1301,708.6 1302,709.9 1303,711.7 1304,713.4 1305,714.6 1306,714.8 1307,714.6 1308,715.5 1309,716.5 1310,717.2 1311,718.0 1312,719.3 1313,720.0 1314,721.0 1315,722.3 1316,724.3 1317,725.3 1318,726.1 1319,727.0 1320,728.4 1321,729.3 1322,729.4 1323,729.4 1324,730.8 1325,732.5 1326,734.3 1327,735.6 1328,736.7 1329,738.1 1330,740.1 1331,741.6 1332,742.2 1333,743.1 1334,744.3 1335,745.3 1336,746.3 1337,747.5 1338,748.4 1339,749.1 1340,749.1 1340,759.6 1339,759.6 1338,757.8 1337,756.8 1336,755.7 1335,755.2 1334,753.6 1333,753.0 1332,752.0 1331,750.6 1330,748.6 1329,747.8 1328,747.4 1327,746.1 1326,743.9 1325,742.3 1324,741.6 1323,740.6 1322,739.4 1321,738.1 1320,737.2 1319,737.1 1318,736.9 1317,736.1 1316,734.8 1315,733.3 1314,731.7 1313,729.9 1312,728.5 1311,727.4 1310,726.7 1309,726.4 1308,725.9 1307,725.2 1306,724.3 1305,723.0 1304,721.2 1303,720.1 1302,718.7 1301,717.9 1300,717.2 1299,717.1 1298,715.6 1297,713.4 1296,711.6 1295,709.7 1294,708.1 1293,706.6 1292,705.5 1291,704.3 1290,702.9 1289,701.9 1288,701.0 1287,700.3 1286,699.1 1285,698.3 1284,697.9 1283,697.7 1282,695.7 1281,693.9 1280,693.0 1279,692.6 1278,691.7 1277,690.2 1276,689.6 1275,689.6 1274,689.5 1273,688.2 1272,686.1 1271,684.1 1270,682.7 1269,681.8 1268,680.5 1267,678.9 1266,678.4 1265,678.3 1264,677.5 1263,676.1 1262,674.8 1261,673.4 1260,672.1 1259,670.3 1258,668.6 1257,667.8 1256,667.4 1255,666.2 1254,664.7 1253,663.3 1252,662.1 1251,659.9 1250,658.2 1249,657.0 1248,655.7 1247,653.7 1246,651.7 1245,650.7 1244,649.9 1243,649.5 1242,648.9 1241,648.2 1240,647.6 1239,646.0 1238,644.0 1237,641.8 1236,640.9 1235,639.7 1234,639.2 1233,638.2 1232,637.6 1231,636.6 1230,635.8 1229,634.4 1228,632.7 1227,631.5 1226,631.0 1225,630.6 1224,628.9 1223,626.8 1222,625.1 1221,624.0 1220,622.2 1219,620.1 1218,618.5 1217,617.5 1216,616.5 1215,615.6 1214,614.2 1213,613.4 1212,613.0 1211,612.4 1210,610.6 1209,608.4 1208,606.6 1207,605.0 1206,603.4 1205,602.2 1204,601.2 1203,600.2 1202,598.9 1201,597.7 1200,596.4 1199,595.5 1198,594.9 1197,593.8 1196,591.7 1195,590.0 1194,588.4 1193,587.4 1192,585.8 1191,584.9 1190,583.3 1189,582.5 1188,580.9 1187,579.9 1186,578.6 1185,577.8 1184,576.3 1183,575.2 1182,573.8 1181,572.8 1180,571.9 1179,571.0 1178,569.0 1177,567.3 1176,566.2 1175,564.6 1174,562.3 1173,560.2 1172,558.9 1171,558.3 1170,557.5 1169,556.1 1168,555.0 1167,554.3 1166,553.0 1165,551.1 1164,549.5 1163,548.3 1162,546.8 1161,545.3 1160,544.1 1159,542.8 1158,541.1 1157,539.2 1156,538.3 1155,537.2 1154,536.2 1153,534.3 1152,532.5 1151,531.1 1150,530.6 1149,529.4 1148,528.0 1147,526.6 1146,525.8 1145,524.4 1144,522.7 1143,520.5 1142,519.1 1141,517.6 1140,515.8 1139,514.5 1138,513.4 1137,512.7 1136,511.4 1135,510.1 1134,508.0 1133,506.7 1132,505.5 1131,504.1 1130,502.1 1129,500.3 1128,499.2 1127,498.3 1126,497.2 1125,495.8 1124,494.3 1123,493.6 1122,493.4 1121,493.0 1120,491.3 1119,489.5 1118,488.1 1117,486.6 1116,484.6 1115,483.0 1114,482.1 1113,480.6 1112,479.0 1111,477.3 1110,476.1 1109,474.9 1108,474.3 1107,473.0 1106,471.8 1105,470.1 1104,468.0 1103,465.9 1102,465.1 1101,464.8 1100,463.5 1099,461.4 1098,459.8 1097,458.9 1096,457.5 1095,456.0 1094,454.4 1093,453.3 1092,452.4 1091,450.9 1090,449.4 1089,448.2 1088,446.5 1087,444.2 1086,442.5 1085,441.7 1084,440.6 1083,439.2 1082,437.7 1081,436.9 1080,435.5 1079,434.2 1078,432.3 1077,431.6 1076,430.3 1075,428.5 1074,427.0 1073,426.2 1072,425.1 1071,423.0 1070,421.4 1069,419.6 1068,418.6 1067,418.0 1066,417.0 1065,415.5 1064,414.2 1063,412.9 1062,411.7 1061,410.6 1060,409.3 1059,407.1 1058,405.1 1057,404.0 1056,403.4 1055,402.5 1054,400.7 1053,398.7 1052,397.1 1051,396.3 1050,395.0 1049,394.2 1048,393.3 1047,391.8 1046,389.5 1045,388.2 1044,387.0 1043,385.7 1042,384.8 1041,384.5 1040,383.2 1039,381.7 1038,380.5 1037,379.4 1036,377.8 1035,376.1 1034,374.3 1033,372.3 1032,371.1 1031,370.4 1030,370.2 1029,368.9 1028,367.7 1027,366.6 1026,365.6 1025,364.1 1024,361.8 1023,360.2 1022,358.9 1021,357.9 1020,356.4 1019,354.7 1018,353.2 1017,351.8 1016,351.4 1015,350.3 1014,349.0 1013,347.5 1012,346.4 1011,345.1 1010,343.4 1009,342.3 1008,340.8 1007,339.1 1006,337.8 1005,336.7 1004,335.3 1003,333.6 1002,332.5 1001,331.8 1000,330.8 999,330.2 998,329.5 997,328.3 996,326.1 995,324.1 994,323.0 993,322.2 992,321.2 991,319.4 990,318.4 989,317.3 988,316.9 987,316.0 986,314.9 985,312.9 984,311.4 983,309.9 982,308.0 981,306.4 980,305.2 979,304.3 978,303.2 977,302.1 976,300.6 975,299.7 974,298.6 973,297.9 972,296.7 971,295.9 970,294.9 969,293.8 968,292.5 967,291.5 966,290.7 965,289.1 964,287.3 963,286.3 962,285.8 961,284.9 960,282.8 959,281.5 958,280.1 957,279.0 956,277.4 955,277.2 954,276.1 953,275.3 952,274.0 951,272.8 950,271.7 949,270.8 948,270.2 947,269.0 946,267.3 945,265.8 944,264.2 943,262.9 942,261.4 941,260.4 940,259.5 939,258.8 938,258.2 937,257.2 936,256.1 935,255.1 934,254.2 933,252.8 932,251.0 931,250.0 930,249.1 929,248.0 928,247.0 927,246.7 926,246.0 925,244.9 924,243.8 923,242.3 922,240.4 921,239.0 920,238.5 919,237.4 918,236.4 917,235.6 916,235.4 915,234.0 914,232.5 913,231.3 912,230.3 911,229.0 910,228.1 909,227.1 908,226.3 907,225.2 906,224.8 905,223.5 904,221.7 903,219.7 902,218.7 901,218.5 900,218.3 899,217.2 898,216.1 897,215.2 896,214.3 895,213.5 894,213.3 893,212.6 892,210.9 891,209.2 890,208.4 889,208.0 888,207.1 887,205.6 886,203.9 885,202.6 884,202.1 883,201.7 882,200.6 881,198.8 880,197.8 879,197.2 878,196.4 877,195.4 876,194.4 875,193.9 874,192.8 873,191.9 872,191.0 871,190.5 870,189.9 869,188.6 868,187.5 867,186.7 866,186.4 865,185.1 864,183.9 863,183.2 862,182.5 861,180.9 860,179.6 859,178.8 858,178.5 857,177.2 856,176.0 855,174.8 854,174.4 853,173.7 852,173.3 851,172.9 850,172.0 849,170.6 848,169.0 847,168.3 846,168.1 845,167.3 844,166.4 843,165.7 842,164.8 841,163.9 840,163.3 839,162.8 838,161.4 837,160.4 836,160.1 835,159.9 834,158.8 833,157.6 832,156.7 831,156.2 830,155.1 829,153.8 828,153.2 827,153.1 826,153.1 825,152.2 824,150.9 823,149.9 822,148.9 821,148.0 820,147.8 819,147.5 818,146.8 817,145.6 816,144.5 815,143.1 814,142.3 813,141.8 812,141.7 811,141.3 810,141.0 809,140.4 808,139.8 807,138.4 806,136.9 805,136.1 804,136.2 803,135.9 802,134.9 801,134.3 800,133.5 799,132.8 798,131.9 797,131.4 796,131.0 795,130.2 794,129.4 793,128.6 792,128.3 791,128.0 790,127.6 789,126.8 788,125.9 787,125.4 786,125.5 785,125.0 784,124.0 783,122.8 782,123.0 781,123.0 780,122.5 779,121.5 778,120.2 777,119.0 776,117.9 775,117.4 774,116.9 773,117.0 772,117.3 771,117.2 770,116.0 769,114.8 768,114.0 767,114.0 766,113.6 765,112.8 764,112.0 763,111.9 762,111.4 761,111.1 760,110.8 759,110.9 758,109.8 757,109.5 756,109.1 755,109.3 754,108.2 753,107.9 752,107.5 751,106.8 750,105.6 749,105.3 748,105.3 747,104.7 746,103.9 745,103.1 744,102.2 743,101.8 742,101.7 741,101.7 740,101.1 739,101.0 738,100.7 737,100.3 736,99.6 735,99.2 734,99.3 733,99.3 732,98.8 731,98.0 730,98.1 729,98.7 728,98.9 727,98.0 726,96.4 725,95.4 724,94.9 723,95.1 722,95.4 721,95.4 720,94.5 719,94.1 718,94.6 717,94.6 716,93.6 715,92.6 714,92.6 713,92.9 712,93.2 711,92.3 710,91.9 709,91.6 708,91.3 707,90.9 706,90.4 705,89.9 704,89.7 703,90.4 702,90.8 701,90.5 700,90.3 699,89.8 698,89.0 697,88.5 696,88.5 695,88.1 694,87.4 693,87.5 692,88.4 691,88.4 690,88.3 689,88.2 688,88.3 687,87.1 686,86.3 685,86.4 684,87.1 683,87.4 682,87.5 681,87.6 680,87.5 679,86.9 678,86.5 677,86.0 676,85.5 675,85.1 674,85.0 673,85.2 672,84.9 671,84.4 670,84.2 669,84.4 668,84.0 667,83.4 666,83.3 665,83.6 664,83.9 663,84.2 662,84.7 661,85.0 660,85.3 659,85.3 658,85.5 657,84.9 656,84.3 655,84.1 654,84.1 653,84.2 652,84.4 651,84.7 650,84.6 649,84.9 648,84.5 647,84.6 646,84.6 645,84.4 644,83.6 643,83.5 642,84.2 641,85.3 640,86.0 639,85.6 638,84.8 637,84.4 636,84.2 635,84.7 634,84.9 633,85.0 632,84.8 631,85.2 630,85.8 629,86.2 628,85.9 627,86.0 626,85.8 625,85.8 624,85.9 623,86.5 622,87.0 621,87.5 620,87.7 619,87.4 618,86.8 617,86.9 616,87.0 615,87.2 614,86.8 613,86.9 612,86.8 611,87.1 610,87.7 609,88.1 608,88.8 607,88.8 606,89.0 605,88.6 604,88.1 603,87.9 602,88.4 601,89.3 600,89.6 599,89.4 598,89.3 597,90.3 596,90.7 595,90.4 594,89.7 593,89.6 592,89.8 591,90.7 590,91.9 589,92.7 588,93.2 587,93.4 586,93.3 585,93.3 584,93.6 583,94.9 582,94.9 581,94.3 580,94.7 579,95.6 578,94.8 577,95.1 576,95.0 575,95.7 574,97.1 573,96.8 572,96.9 571,97.4 570,98.2 569,98.8 568,99.4 567,99.1 566,100.4 565,99.8 564,99.4 563,101.2 562,102.3 561,102.2 560,101.0 559,100.1 558,100.8 557,101.5 556,101.9 555,102.3 554,103.1 553,103.0 552,103.2 551,103.8 550,104.7 549,104.6 548,104.4 547,105.3 546,107.0 545,106.4 544,109.2 543,106.5 542,106.9 541,107.9 540,109.0 539,109.5 538,110.0 537,111.2 536,111.5 535,111.8 534,111.7 533,112.6 532,113.4 531,113.8 530,113.6 529,113.4 528,114.0 527,114.1 526,115.1 525,115.6 524,116.6 523,117.7 522,118.6 521,119.0 520,119.3 519,120.3 518,123.0 517,121.0 516,121.7 515,122.9 514,123.3 513,123.0 512,122.9 511,123.8 510,124.4 509,125.0 508,125.9 507,126.5 506,127.4 505,127.7 504,128.7 503,129.1 502,130.0 501,130.8 500,130.8 499,132.5 498,132.1 497,132.7 496,134.4 495,136.7 494,134.6 493,135.1 492,135.5 491,138.2 490,136.6 489,136.8 488,141.0 487,139.6 486,139.3 485,139.5 484,140.3 483,141.6 482,144.9 481,143.2 480,145.8 479,144.3 478,148.0 477,145.0 476,146.0 475,147.1 474,147.8 473,148.1 472,149.1 471,151.3 470,150.5 469,151.6 468,155.4 467,156.7 466,154.0 465,155.5 464,156.6 463,157.9 462,158.6 461,160.9 460,161.6 459,161.2 458,161.9 457,162.9 456,163.2 455,163.3 454,163.7 453,165.1 452,166.2 451,167.3 450,170.4 449,169.7 448,170.3 447,171.1 446,171.2 445,174.3 444,172.8 443,174.2 442,174.7 441,174.9 440,178.0 439,178.9 438,177.3 437,178.7 436,179.8 435,183.3 434,182.6 433,184.2 432,184.9 431,185.2 430,187.0 429,187.4 428,188.5 427,190.8 426,190.0 425,190.9 424,192.1 423,193.5 422,194.3 421,196.5 420,196.5 419,198.3 418,198.1 417,199.4 416,201.9 415,202.2 414,203.1 413,204.1 412,204.4 411,205.2 410,206.5 409,207.5 408,208.9 407,213.0 406,211.2 405,214.0 404,213.8 403,214.2 402,215.0 401,218.7 400,218.9 399,220.3 398,222.9 397,222.1 396,222.7 395,225.8 394,224.4 393,225.5 392,226.8 391,228.4 390,229.8 389,231.1 388,232.4 387,233.9 386,236.3 385,236.4 384,237.5 383,238.2 382,239.5 381,241.1 380,242.8 379,243.8 378,244.9 377,245.8 376,247.0 375,247.8 374,249.1 373,250.4 372,251.5 371,252.6 370,253.8 369,255.6 368,259.9 367,258.4 366,259.3 365,260.3 364,262.1 363,264.0 362,266.1 361,267.3 360,268.1 359,269.1 358,270.0 357,272.6 356,273.1 355,274.1 354,274.8 353,277.8 352,277.7 351,278.9 350,280.8 349,281.6 348,283.2 347,284.8 346,286.7 345,287.6 344,289.0 343,290.4 342,291.4 341,292.4 340,294.0 339,295.4 338,297.0 337,298.3 336,300.3 335,302.0 334,304.3 333,305.5 332,306.7 331,307.4 330,308.8 329,310.3 328,312.4 327,313.6 326,314.5 325,315.6 324,320.7 323,320.1 322,321.3 321,324.9 320,324.5 319,325.5 318,329.9 317,331.4 316,330.4 315,331.7 314,333.3 313,335.7 312,335.5 311,337.1 310,339.4 309,341.1 308,342.7 307,345.8 306,346.0 305,346.9 304,349.3 303,348.6 302,350.6 301,352.6 300,354.2 299,355.6 298,357.2 297,358.9 296,360.6 295,362.1 294,363.3 293,364.4 292,367.3 291,367.7 290,369.6 289,371.7 288,373.4 287,375.0 286,379.6 285,380.5 284,379.7 283,381.5 282,385.6 281,384.4 280,385.9 279,387.7 278,390.8 277,394.2 276,391.6 275,393.0 274,395.3 273,397.9 272,399.3 271,400.5 270,402.0 269,404.5 268,406.5 267,407.3 266,408.8 265,410.8 264,412.3 263,416.9 262,414.8 261,416.7 260,418.6 259,423.8 258,422.1 257,423.2 256,425.0 255,427.0 254,429.5 253,431.7 252,433.4 251,436.6 250,435.7 249,437.0 248,439.8 247,444.0 246,442.6 245,447.3 244,445.5 243,447.4 242,449.6 241,451.6 240,453.5 239,454.8 238,456.0 237,459.0 236,458.5 235,459.9 234,461.4 233,466.9 232,467.5 231,469.2 230,471.9 229,472.9 228,473.8 227,475.3 226,476.8 225,477.9 224,479.4 223,481.4 222,483.5 221,485.5 220,487.2 219,488.8 218,490.8 217,492.9 216,495.9 215,498.7 214,497.4 213,499.3 212,501.4 211,502.2 210,503.3 209,504.7 208,509.1 207,511.0 206,510.2 205,511.8 204,513.4 203,516.9 202,516.4 201,518.5 200,520.8 199,522.6 198,526.1 197,525.2 196,526.9 195,529.0 194,531.5 193,533.9 192,535.5 191,539.5 190,539.1 189,542.9 188,542.2 187,544.1 186,545.6 185,547.0 184,548.5 183,550.7 182,552.4 181,557.5 180,556.0 179,558.3 178,560.2 177,561.2 176,562.8 175,564.1 174,566.1 173,570.1 172,569.3 171,570.4 170,571.8 169,573.7 168,579.0 167,579.2 166,581.4 165,582.6 164,583.9 163,585.4 162,587.0 161,588.2 160,588.2"/><rect x="163" y="575.4" width="4" height="10.4"/><rect x="171" y="560.9" width="4" height="13.5"/><rect x="176" y="553.0" width="4" height="10.7"/><rect x="182" y="543.2" width="4" height="16.3"/><rect x="193" y="523.3" width="4" height="10.9"/><rect x="209" y="496.2" width="4" height="17.2"/><rect x="217" y="482.7" width="4" height="9.6"/><rect x="225" y="469.0" width="4" height="17.9"/><rect x="232" y="456.5" width="4" height="14.1"/><rect x="244" y="436.0" width="4" height="17.8"/><rect x="253" y="421.7" width="4" height="12.0"/><rect x="264" y="402.6" width="4" height="18.2"/><rect x="273" y="388.0" width="4" height="11.5"/><rect x="284" y="370.8" width="4" height="19.7"/><rect x="294" y="354.6" width="4" height="12.5"/><rect x="311" y="328.6" width="4" height="15.9"/><rect x="325" y="307.8" width="4" height="9.3"/><rect x="341" y="285.0" width="4" height="17.6"/><rect x="348" y="274.9" width="4" height="10.5"/><rect x="365" y="253.0" width="4" height="17.3"/><rect x="383" y="230.2" width="4" height="9.7"/><rect x="394" y="217.3" width="4" height="16.3"/><rect x="412" y="197.9" width="4" height="14.1"/><rect x="427" y="182.3" width="4" height="15.5"/><rect x="440" y="170.1" width="4" height="7.7"/><rect x="452" y="159.9" width="4" height="15.4"/><rect x="459" y="154.5" width="4" height="11.9"/><rect x="468" y="146.5" width="4" height="9.7"/><rect x="482" y="136.8" width="4" height="6.2"/><rect x="500" y="124.3" width="4" height="11.8"/><rect x="515" y="116.6" width="4" height="9.9"/><rect x="524" y="111.0" width="4" height="8.2"/><rect x="551" y="98.3" width="4" height="8.5"/></g>
</g>
<rect x="629" y="546" width="310" height="336" fill="#fff" stroke="#000" stroke-width="2"/>
<line x1="650" y1="576.0" x2="754" y2="576.0" stroke="#000000" stroke-width="4" stroke-linecap="round"/>
<line x1="650" y1="631.8" x2="754" y2="631.8" stroke="#FF0000" stroke-width="4" stroke-linecap="round"/>
<line x1="650" y1="687.6" x2="754" y2="687.6" stroke="#0000FF" stroke-width="4" stroke-linecap="round"/>
<line x1="650" y1="743.4" x2="754" y2="743.4" stroke="#FF00FF" stroke-width="4" stroke-linecap="round"/>
<line x1="650" y1="799.2" x2="754" y2="799.2" stroke="#008000" stroke-width="4" stroke-linecap="round"/>
<line x1="650" y1="855.0" x2="754" y2="855.0" stroke="#000080" stroke-width="4" stroke-linecap="round"/>
<rect x="159" y="38" width="4" height="846" fill="#000"/>
<rect x="152" y="38" width="1188" height="2" fill="#000"/>
<rect x="1337" y="38" width="3" height="846" fill="#000"/>
<rect x="152" y="880" width="1188" height="4" fill="#000"/>
<rect x="143" y="96" width="16" height="4" fill="#000"/>
<rect x="143" y="217" width="16" height="4" fill="#000"/>
<rect x="143" y="337" width="16" height="4" fill="#000"/>
<rect x="143" y="458" width="16" height="4" fill="#000"/>
<rect x="143" y="579" width="16" height="4" fill="#000"/>
<rect x="143" y="699" width="16" height="4" fill="#000"/>
<rect x="143" y="820" width="16" height="4" fill="#000"/>
<rect x="152" y="157" width="7" height="4" fill="#000"/>
<rect x="152" y="277" width="7" height="4" fill="#000"/>
<rect x="152" y="398" width="7" height="4" fill="#000"/>
<rect x="152" y="519" width="7" height="4" fill="#000"/>
<rect x="152" y="639" width="7" height="4" fill="#000"/>
<rect x="152" y="760" width="7" height="4" fill="#000"/>
<rect x="335" y="884" width="5" height="15" fill="#000"/>
<rect x="335" y="40" width="5" height="16" fill="#000"/>
<rect x="630" y="884" width="5" height="15" fill="#000"/>
<rect x="630" y="40" width="5" height="16" fill="#000"/>
<rect x="924" y="884" width="5" height="15" fill="#000"/>
<rect x="924" y="40" width="5" height="16" fill="#000"/>
<rect x="1219" y="884" width="5" height="15" fill="#000"/>
<rect x="1219" y="40" width="5" height="16" fill="#000"/>
<rect x="188" y="884" width="5" height="7" fill="#000"/>
<rect x="188" y="40" width="5" height="7" fill="#000"/>
<rect x="482" y="884" width="5" height="7" fill="#000"/>
<rect x="482" y="40" width="5" height="7" fill="#000"/>
<rect x="777" y="884" width="5" height="7" fill="#000"/>
<rect x="777" y="40" width="5" height="7" fill="#000"/>
<rect x="1072" y="884" width="5" height="7" fill="#000"/>
<rect x="1072" y="40" width="5" height="7" fill="#000"/>
<g filter="url(#bin)">
<rect x="69" y="94" width="16" height="3" fill="#000"/>
<text x="130" y="109.0" text-anchor="end" class="tl">35</text>
<rect x="69" y="214" width="16" height="3" fill="#000"/>
<text x="130" y="229.7" text-anchor="end" class="tl">40</text>
<rect x="69" y="335" width="16" height="3" fill="#000"/>
<text x="130" y="350.3" text-anchor="end" class="tl">45</text>
<rect x="69" y="456" width="16" height="3" fill="#000"/>
<text x="130" y="471.0" text-anchor="end" class="tl">50</text>
<rect x="69" y="576" width="16" height="3" fill="#000"/>
<text x="130" y="591.7" text-anchor="end" class="tl">55</text>
<rect x="69" y="697" width="16" height="3" fill="#000"/>
<text x="130" y="712.3" text-anchor="end" class="tl">60</text>
<rect x="69" y="818" width="16" height="3" fill="#000"/>
<text x="130" y="833.0" text-anchor="end" class="tl">65</text>
<text x="337.0" y="940" text-anchor="middle" class="tl">1450</text>
<rect x="297.02" y="936.58" width="7.14" height="4.18" fill="#fff"/>
<rect x="307.70" y="936.58" width="6.84" height="4.18" fill="#fff"/>
<text x="631.7" y="940" text-anchor="middle" class="tl">1500</text>
<rect x="591.69" y="936.58" width="7.14" height="4.18" fill="#fff"/>
<rect x="602.37" y="936.58" width="6.84" height="4.18" fill="#fff"/>
<text x="926.3" y="940" text-anchor="middle" class="tl">1550</text>
<rect x="886.35" y="936.58" width="7.14" height="4.18" fill="#fff"/>
<rect x="897.03" y="936.58" width="6.84" height="4.18" fill="#fff"/>
<text x="1221.0" y="940" text-anchor="middle" class="tl">1600</text>
<rect x="1181.02" y="936.58" width="7.14" height="4.18" fill="#fff"/>
<rect x="1191.70" y="936.58" width="6.84" height="4.18" fill="#fff"/>
<text x="750" y="984" text-anchor="middle" class="at">Wavelength &#955; (nm)</text>
<text transform="translate(58,442) rotate(-90)" x="0" y="0" text-anchor="middle" class="yt">ASE Power (dBm)</text>
<text x="767" y="590.9" class="lt">150 mA</text>
<rect x="769.70" y="586.85" width="8.46" height="4.95" fill="#fff"/>
<rect x="782.35" y="586.85" width="8.10" height="4.95" fill="#fff"/>
<text x="767" y="646.7" class="lt">200 mA</text>
<text x="767" y="702.5" class="lt">250 mA</text>
<text x="767" y="758.3" class="lt">300 mA</text>
<text x="767" y="814.1" class="lt">350 mA</text>
<text x="767" y="869.9" class="lt">400 mA</text>
</g>
</svg>
</body></html>
